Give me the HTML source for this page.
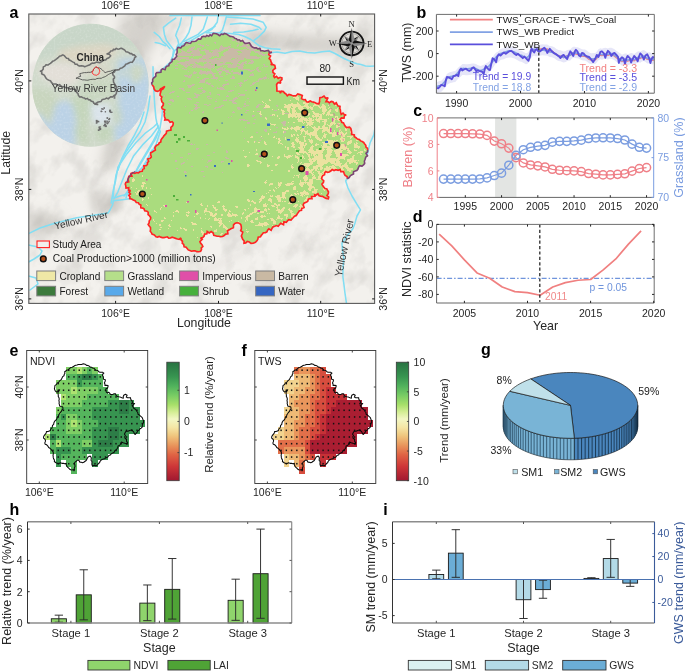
<!DOCTYPE html>
<html><head><meta charset="utf-8"><title>figure</title>
<style>
html,body{margin:0;padding:0;background:#ffffff;overflow:hidden;}
svg{display:block;}
text{font-family:"Liberation Sans",sans-serif;}
</style></head><body>
<svg width="685" height="671" viewBox="0 0 685 671">
<rect x="0" y="0" width="685" height="671" fill="#ffffff"/>
<defs>
<clipPath id="mapclip"><rect x="28.8" y="14" width="345.8" height="289.4"/></clipPath>
<clipPath id="studyclip"><polygon points="152.1,84.8 151.63,83.01 152.83,81.52 152.62,79.78 153.3,78.2 154.66,77.28 155.85,76.19 155.8,73.86 156.83,72.61 159,72.5 160.93,72.31 161.2,69.92 162.48,68.86 165.18,69.69 165.6,67.5 166.76,66.21 168.76,65.76 169.22,63.77 170.5,62.6 172.02,61.67 172.21,59.41 174.46,59.21 175.4,57.7 176.8,56.27 176.11,54.43 177.07,52.92 177.18,51.24 177,49.5 177.95,47.31 180.76,47.95 182,46.2 183.75,45.65 184.99,44.07 186.25,42.54 188.5,43 190.57,43.33 191.77,41.56 193.7,41.56 195.53,41.32 197,40.18 198.4,38.9 200.75,39.17 201.86,36.88 203.8,36.3 205.58,36.77 206.86,35.34 208.78,36.37 210,34.7 211.63,35.8 213.17,33.41 214.77,33.49 216.38,33.69 218,34.5 219.76,35.77 221.31,34.07 223.01,34.52 224.6,33.42 226.3,33.9 228.14,35.17 230,36.4 231.68,36.57 233.29,36.97 234.65,38.14 236.22,38.64 237.51,40.06 239.28,39.92 240.64,41.13 242.6,40.4 243.66,42.17 245.03,43.34 247.04,43.31 249.31,42.79 250.4,44.5 251.45,46.24 252.85,47.29 254.47,47.91 256.46,47.79 257.8,48.95 260.02,48.38 260.71,50.81 262.7,50.7 264.5,51.24 266.49,50.7 268.44,50.37 269.88,53.03 271.9,52.3 269.45,52.34 268.8,54.7 270.57,56.07 269.15,58.52 270.6,60 270.97,61.58 271.85,63.13 270.9,64.8 272.94,64.49 274.8,65.4 275.4,68.3 273.9,69.3 272.83,70.55 273,72.5 274.81,73.81 273.67,76 274.5,77.6 276.41,76.31 278.17,78.4 280.07,77.32 281.9,77.9 281.9,79.7 280.22,81.14 280.7,83.3 278.28,82.46 276.6,84.4 276.73,86.5 276.9,88.6 276.89,91.02 279.68,91.25 280.4,93.1 281.33,91.21 283.4,91.6 284.55,93.02 286.1,94 287.3,95.8 288.95,94.39 290.6,94.89 292.25,95.52 293.9,95.8 296,95.73 297.77,93.99 300,94.6 302.32,95.51 301.5,98.64 303.6,99.7 305.35,99.56 306.51,101.84 308.17,102.06 310.17,100.94 311.7,101.7 313.53,102.11 315.28,102.81 316.98,103.69 318.9,103.8 319.52,101.81 319.74,99.76 319.9,97.7 322.09,97.18 324,96 325.54,98.07 328.1,97.7 327.03,99.69 326,101.7 327.74,101.68 329.36,102.72 331.23,101.47 332.93,101.84 334.43,104.04 336.3,102.8 337.06,104.27 337.81,105.75 340.03,106.39 339.8,108.43 340.4,110 340.56,112.19 341.2,114.3 343.01,113 344.57,114.91 346.3,114.7 344.51,115.56 344,118.1 341.42,117.92 340.1,119.4 341.2,120.61 341.73,122.29 343.52,122.95 344.2,124.5 345.23,126.21 346.61,127.52 349.46,127.13 350.82,128.46 351.4,130.7 351.68,132.46 351.65,134.36 354.32,134.95 354.4,136.8 356.02,137.72 357.35,139.08 359.35,139.42 360.6,140.9 362.21,141.57 363.67,142.45 364.7,143.9 365.8,145.25 365.94,147.08 367.49,148.21 367.7,150 367.56,151.9 365.91,153.38 367.57,155.78 365.7,157.2 365.16,159.23 364.34,161.22 364.7,163.4 363.46,164.88 362.05,166.1 359.56,165.63 358.5,167.4 357.9,169.12 356.85,170.4 355.17,171.05 353.45,171.67 353.56,174.1 351.94,174.8 350.4,175.6 349.2,177.5 347.3,178.7 347.12,176.48 345.08,175.4 344.2,173.6 343.59,171.48 340.77,171.57 340.1,169.5 338.15,170.32 335.96,169.72 334,170.5 332.22,169.55 330.74,171.05 329.18,171.92 327.58,172.43 325.8,171.5 324.73,172.81 324.55,174.78 322.8,175.6 321.88,177.3 321.78,179 323.75,180.7 323.46,182.4 321.88,184.1 322.8,185.8 323.91,187.17 324.98,188.6 326.9,188.9 327.59,190.47 328.47,192.01 328.22,193.71 326.96,195.56 328.75,196.97 328.3,198.7 326.2,198.36 324.34,197.4 322.5,196.4 320.79,196.15 319.14,195.7 317.93,193.75 315.65,195.47 314.3,194 314.87,196.22 311.57,196.55 312,198.7 309.94,198.59 308.3,199.19 307.68,201.49 306.1,202.2 304,203.18 303.14,204.85 304.07,207.53 301.78,208.4 301.5,210.4 299.46,210.78 298.39,212.34 297.26,213.84 296.3,215.53 294.5,216.2 293.37,217.54 292.16,218.76 291.02,220.1 288.75,219.74 287.5,220.9 286.27,222.34 283.94,221.86 283.53,224.74 280.7,223.38 279.46,224.81 278.2,226.2 276.25,225.56 274.76,226.2 273.24,226.75 272.06,228.21 271.13,230.36 268.86,228.85 267.6,230.1 266.9,231.88 265.37,232.58 263.4,232.71 262.4,234.1 261.28,235.35 260.48,236.86 258.2,237.17 257.9,239.09 257.1,240.6 255.42,242.34 253.2,243.3 251.02,243.35 249.3,242 247.27,241.38 245.78,242.93 244,243.3 244.16,241.04 242.7,239.3 242.04,237.6 241.37,235.91 242.15,234.04 242.78,232.18 240.64,230.67 241.4,228.8 241.29,226.5 240.75,224.4 238.7,223 236.65,222.77 234.9,223.36 233.5,224.9 233.43,227.67 230.9,228.8 229.3,229.85 227.48,230.68 227.88,233.73 225.6,234.1 224.17,235.58 222.44,236.45 220.4,236.7 218.77,236.29 217.06,236.28 215.43,235.8 213.8,235.4 213.19,232.99 211.2,231.5 209.2,232.99 207.2,231.5 206.84,233.74 204.6,234.1 204.05,236.2 202.72,237.51 200.6,238 202.22,239.38 199.91,241.6 200.61,243.17 202,244.6 202.86,246.51 201.29,247.9 201.49,249.66 200.6,251.2 198.76,251.76 196.92,251.65 195.08,250.76 193.24,250.94 191.4,251.2 189.85,250.53 188.23,249.93 187.19,248.61 186.2,247.2 184.1,246.7 183.72,244.48 182.3,243.3 182.46,241.37 181.02,239.86 180.9,238 179.15,239.26 177.4,238.96 175.65,238.38 173.9,237.69 172.15,237.15 170.4,238 168.77,238.21 167.28,236.81 165.63,237.2 163.98,237.63 162.37,237.66 160.8,237.14 159.25,236.38 157.58,237.08 156,236.7 154.32,234.91 152,234.1 151.37,232.56 150.23,231.18 150.54,229.33 150.48,227.6 149.4,226.2 148.11,224.45 149.17,222.7 149.18,220.95 150.54,219.2 150.71,217.45 149.4,215.7 148.06,214.61 148.26,212.32 146.97,211.2 144.68,210.86 144.2,209.1 142.81,208.08 140.84,207.77 140.85,205.08 139.25,204.33 138.36,202.71 136.3,202.5 135.1,200.77 133.26,200.12 131.71,198.97 129.7,198.6 130.05,197.02 128.84,195.28 130.44,193.83 128.86,192.05 130.5,190.6 128.57,190.18 128.73,187.67 126.01,188.04 125.8,185.9 125.26,183.95 125.88,182.45 128.66,181.82 128.2,179.9 128.33,177.93 128.88,176.24 131.88,176.14 131.01,173.52 132.9,172.7 134.87,173.42 136.59,172.61 138.47,172.79 140.1,171.5 142.24,171.28 142.63,169.31 144.27,168.59 143.84,165.8 146,165.6 147.42,164.4 147.4,162.56 148.65,161.28 147.67,159 150.11,158.26 151.3,156.96 150.8,154.9 150.65,152.81 152.23,151.93 153.76,151.01 155.34,150.13 154.83,147.79 155.61,146.35 156.72,145.14 158.55,144.43 159.2,142.9 160.82,142 160.97,139.99 161.92,138.59 163.01,137.29 163.91,135.85 165.09,134.61 166.3,133.4 166.54,131.16 168.7,130.52 170.99,129.99 170.9,127.47 172.3,126.2 173,124.9 173.27,123.05 172.1,121.6 170.06,122.19 168.57,120.24 166.79,119.65 164.8,120 165.14,118.3 164.49,116.71 164.21,115.09 164.51,113.39 163.9,111.8 164.72,109.91 162.18,108.73 161.68,107.12 163.26,105.08 163.41,103.33 161.89,101.93 161.5,100.3 161.17,98.68 161.83,96.96 160.08,95.47 160.17,93.81 160.7,92.1 161.18,89.96 163.1,88.9 164.8,86.4 162.3,88 160.52,88.89 159.34,90.66 157.4,91.3 155.28,90.75 154.1,88.9 153.62,86.6"/></clipPath>
<clipPath id="inset"><ellipse cx="90.45" cy="85.3" rx="58.3" ry="61.5"/></clipPath>
<filter id="blur3" x="-20%" y="-20%" width="140%" height="140%"><feGaussianBlur stdDeviation="3"/></filter>
<filter id="blur6" x="-30%" y="-30%" width="160%" height="160%"><feGaussianBlur stdDeviation="6"/></filter>
<filter id="blur1"><feGaussianBlur stdDeviation="1"/></filter>
<filter id="cropF" filterUnits="userSpaceOnUse" x="100" y="20" width="280" height="250" color-interpolation-filters="sRGB"><feGaussianBlur in="SourceAlpha" stdDeviation="6" result="d"/><feTurbulence type="fractalNoise" baseFrequency="0.22" numOctaves="3" seed="7" result="n"/><feColorMatrix in="n" type="matrix" values="0 0 0 0 0  0 0 0 0 0  0 0 0 0 0  1 0 0 0 0" result="na0"/><feComponentTransfer in="na0" result="na"><feFuncA type="linear" slope="2.6" intercept="-0.8"/></feComponentTransfer><feComposite in="na" in2="d" operator="arithmetic" k1="0" k2="1" k3="1" k4="-0.64" result="s"/><feComponentTransfer in="s" result="m"><feFuncA type="discrete" tableValues="0 1"/></feComponentTransfer><feFlood flood-color="rgb(236,226,160)"/><feComposite in2="m" operator="in"/></filter>
<filter id="barrF" filterUnits="userSpaceOnUse" x="100" y="20" width="280" height="250" color-interpolation-filters="sRGB"><feGaussianBlur in="SourceAlpha" stdDeviation="5" result="d"/><feTurbulence type="fractalNoise" baseFrequency="0.16 0.32" numOctaves="2" seed="21" result="n"/><feColorMatrix in="n" type="matrix" values="0 0 0 0 0  0 0 0 0 0  0 0 0 0 0  1 0 0 0 0" result="na0"/><feComponentTransfer in="na0" result="na"><feFuncA type="linear" slope="2.6" intercept="-0.8"/></feComponentTransfer><feComposite in="na" in2="d" operator="arithmetic" k1="0" k2="1" k3="1" k4="-0.64" result="s"/><feComponentTransfer in="s" result="m"><feFuncA type="discrete" tableValues="0 1"/></feComponentTransfer><feFlood flood-color="rgb(201,186,166)"/><feComposite in2="m" operator="in"/></filter>
<filter id="hillTex" x="0" y="0" width="100%" height="100%" color-interpolation-filters="sRGB"><feTurbulence type="fractalNoise" baseFrequency="0.035 0.05" numOctaves="4" seed="17"/><feColorMatrix type="matrix" values="0 0 0 0 0.55  0 0 0 0 0.54  0 0 0 0 0.52  -3.2 0 0 0 1.75"/></filter>
<filter id="globeTex" x="0" y="0" width="100%" height="100%"><feTurbulence type="fractalNoise" baseFrequency="0.5" numOctaves="2" seed="9"/><feColorMatrix type="matrix" values="0 0 0 0 1  0 0 0 0 1  0 0 0 0 1  -2.5 0 0 0 1.4"/></filter>
<radialGradient id="globe" cx="0.5" cy="0.45" r="0.6"><stop offset="0" stop-color="#dcdccb"/><stop offset="1" stop-color="#cfd8d0"/></radialGradient>
</defs>
<g clip-path="url(#mapclip)">
<rect x="28.8" y="14" width="345.8" height="289.4" fill="#f3f1ed" stroke="none" stroke-width="1"/>
<g filter="url(#blur6)" fill="#d6d3ce">
<polygon points="122,14 178,14 160,34 146,58 136,84 128,120 118,160 106,175 100,165 110,125 112,88 116,50"/>
<polygon points="250,30 300,34 375,36 375,54 330,52 290,50 255,44"/>
<polygon points="28,212 60,214 60,232 28,240"/>
</g>
<g filter="url(#blur3)" fill="#d4d1cc" opacity="0.85">
<polygon points="142,14 165,14 145,40 130,70 118,100 112,96 122,62"/>
<polygon points="110,128 126,126 122,150 114,168 106,166"/>
<polygon points="250,40 310,44 370,46 370,50 310,50 252,45"/>
<polygon points="88,190 118,192 120,212 92,214"/>
</g>
<g filter="url(#blur3)" fill="#e6e3df" opacity="0.9">
<rect x="60" y="240" width="50" height="6" transform="rotate(-30 60 240)"/>
<rect x="200" y="270" width="60" height="5" transform="rotate(-25 200 270)"/>
<rect x="290" y="250" width="40" height="5" transform="rotate(-35 290 250)"/>
<rect x="320" y="95" width="30" height="4" transform="rotate(-20 320 95)"/>
<rect x="60" y="60" width="30" height="5" transform="rotate(-40 60 60)"/>
<rect x="40" y="280" width="40" height="5" transform="rotate(-30 40 280)"/>
<rect x="250" y="285" width="50" height="5" transform="rotate(-20 250 285)"/>
<rect x="340" y="230" width="25" height="4" transform="rotate(-60 340 230)"/>
</g>
<rect x="-150" y="-150" width="700" height="700" filter="url(#hillTex)" opacity="0.17" transform="rotate(-58 200 160)"/>
<g fill="none" stroke="#82def3" stroke-width="1.55" stroke-linejoin="round" stroke-linecap="round">
<polyline points="170,15.6 190,15.4 215,15.5 240,15.4 260,15.6"/>
<polyline points="175.7,18.1 168.5,23.2 163.4,27.3 164.4,34.4 166.5,40.6 170.5,45.7 173.6,49.8 172.6,56.9 169.5,64"/>
<polyline points="154.2,32.4 159.3,36.5 162.9,41.6 166.5,44.7 170,48.7"/>
<polyline points="155.2,42.6 160.3,43.6 165.4,45.7"/>
<polyline points="181.3,18.1 179.7,25.2 176.7,32.4 175.7,35.5 177.7,39.5 178.7,43.6 176.7,47.7"/>
<polyline points="192,17.1 191,25.2 188.9,32.4 185.9,37.5 181.8,42.6 178.7,45.7"/>
<polyline points="207.3,17.1 205.3,23.2 203.2,29.3 198.1,34.4 190,38.5 183.8,41.6"/>
<polyline points="215,26.3 206.3,31.4 198.1,36.5 191,40.6 183.8,43.6 177.7,47.7 174.6,50.8 172.6,56.9 170.5,62 166,66 160,71 155,77 152,83"/>
<polyline points="218.2,16 217.2,22.2 212,29.3 208,31.5"/>
<polyline points="226.3,17.1 224.3,24.2 222.3,30.4 220.2,32.4"/>
<polyline points="226.3,17.1 240.7,18.1 252.9,19.1 263.1,22.2 266.2,27.3 264.2,31.4 259,36.5 253.9,40.6"/>
<polyline points="230.4,24.2 240.7,23.2 250.9,24.2 259,27.3 261.1,29.3"/>
<polyline points="206,32.8 220.2,32.9 230.4,33.4 238.6,34.4 244.7,36.5 250.9,39.5 255,42.6 259,45.7 265.2,47.7 271.3,48.7 280,49.3"/>
<polyline points="233.5,32.4 243.7,31.9 252.9,30.4 258,29.3"/>
<polyline points="268,53 277,52 285,53.2 292,51.5 299.7,51 307,52.6 314.7,53 322,51.8 329.5,51 335,53.5 340,56.3 344,58.5 348.5,60.5 353,62.5 357,63.7 361,64.5 365.5,65.9 370,66.2 375,65.9"/>
<polyline points="153,66.7 153.2,78 153.6,86.8 154.7,104.7 155.9,118.1 157,123.7"/>
<polyline points="157,123.7 153.6,127 144.7,133.7 135.8,142.7 126.8,153.9 117.9,167.3 115.6,180.7 113.4,189.6 111.2,203"/>
<polyline points="157,123.7 158.1,127 151.4,136 142.5,144.9 133.5,156.1 126.8,169.5 122.3,180.7 117.9,191.8 114,199"/>
<polyline points="157,123.7 159.2,129.3 153.6,140.4 146.9,151.6 140.2,162.8 133.5,176.2 129,189.6 124,196"/>
<polyline points="157,123.7 160.3,131.5 155.9,144.9 149.2,156.1 142.5,167.3 135.8,174"/>
<polyline points="131.3,198.5 122.3,199.7 113.4,200.8"/>
<polyline points="150,96 148,110 145,122 140,132 133,142 126,152 120,163 116,175 114,188 113,198"/>
<polyline points="162,92 163,104 162,116 160,128 156,138 150,148 144,158 138,168 132,180 128,190 126,198"/>
<polyline points="144,112 140,124 134,136 128,146 122,158 118,170"/>
<polyline points="152,150 147,160 143,172 138,184 134,194 131,199"/>
<polyline points="135,190 128,194 120,196 114,198"/>
<polyline points="113.4,200.8 112.5,205 110,210 108.2,212.9 95,215 76.6,217.8 52.3,223.9 40,228 28.5,233.6"/>
<polyline points="28.5,262 34,259 40,255 42,251 38,247 28.5,245"/>
<polyline points="28.5,276 36,278 38,284 30,290"/>
<polyline points="375,128 373.9,134.7 370,143 367.7,153 362,162 355,170 348,177 345.7,181 348,188 352,196 356.9,204.2 360.5,209.8 357,216 355,222.9 353,228.4 347,236 341.9,243.3 342.5,250 343.8,258.2 343,268 342.9,276.9 344,285 344.8,291.8 346.7,305"/>
</g>
<polygon points="152.1,84.8 151.63,83.01 152.83,81.52 152.62,79.78 153.3,78.2 154.66,77.28 155.85,76.19 155.8,73.86 156.83,72.61 159,72.5 160.93,72.31 161.2,69.92 162.48,68.86 165.18,69.69 165.6,67.5 166.76,66.21 168.76,65.76 169.22,63.77 170.5,62.6 172.02,61.67 172.21,59.41 174.46,59.21 175.4,57.7 176.8,56.27 176.11,54.43 177.07,52.92 177.18,51.24 177,49.5 177.95,47.31 180.76,47.95 182,46.2 183.75,45.65 184.99,44.07 186.25,42.54 188.5,43 190.57,43.33 191.77,41.56 193.7,41.56 195.53,41.32 197,40.18 198.4,38.9 200.75,39.17 201.86,36.88 203.8,36.3 205.58,36.77 206.86,35.34 208.78,36.37 210,34.7 211.63,35.8 213.17,33.41 214.77,33.49 216.38,33.69 218,34.5 219.76,35.77 221.31,34.07 223.01,34.52 224.6,33.42 226.3,33.9 228.14,35.17 230,36.4 231.68,36.57 233.29,36.97 234.65,38.14 236.22,38.64 237.51,40.06 239.28,39.92 240.64,41.13 242.6,40.4 243.66,42.17 245.03,43.34 247.04,43.31 249.31,42.79 250.4,44.5 251.45,46.24 252.85,47.29 254.47,47.91 256.46,47.79 257.8,48.95 260.02,48.38 260.71,50.81 262.7,50.7 264.5,51.24 266.49,50.7 268.44,50.37 269.88,53.03 271.9,52.3 269.45,52.34 268.8,54.7 270.57,56.07 269.15,58.52 270.6,60 270.97,61.58 271.85,63.13 270.9,64.8 272.94,64.49 274.8,65.4 275.4,68.3 273.9,69.3 272.83,70.55 273,72.5 274.81,73.81 273.67,76 274.5,77.6 276.41,76.31 278.17,78.4 280.07,77.32 281.9,77.9 281.9,79.7 280.22,81.14 280.7,83.3 278.28,82.46 276.6,84.4 276.73,86.5 276.9,88.6 276.89,91.02 279.68,91.25 280.4,93.1 281.33,91.21 283.4,91.6 284.55,93.02 286.1,94 287.3,95.8 288.95,94.39 290.6,94.89 292.25,95.52 293.9,95.8 296,95.73 297.77,93.99 300,94.6 302.32,95.51 301.5,98.64 303.6,99.7 305.35,99.56 306.51,101.84 308.17,102.06 310.17,100.94 311.7,101.7 313.53,102.11 315.28,102.81 316.98,103.69 318.9,103.8 319.52,101.81 319.74,99.76 319.9,97.7 322.09,97.18 324,96 325.54,98.07 328.1,97.7 327.03,99.69 326,101.7 327.74,101.68 329.36,102.72 331.23,101.47 332.93,101.84 334.43,104.04 336.3,102.8 337.06,104.27 337.81,105.75 340.03,106.39 339.8,108.43 340.4,110 340.56,112.19 341.2,114.3 343.01,113 344.57,114.91 346.3,114.7 344.51,115.56 344,118.1 341.42,117.92 340.1,119.4 341.2,120.61 341.73,122.29 343.52,122.95 344.2,124.5 345.23,126.21 346.61,127.52 349.46,127.13 350.82,128.46 351.4,130.7 351.68,132.46 351.65,134.36 354.32,134.95 354.4,136.8 356.02,137.72 357.35,139.08 359.35,139.42 360.6,140.9 362.21,141.57 363.67,142.45 364.7,143.9 365.8,145.25 365.94,147.08 367.49,148.21 367.7,150 367.56,151.9 365.91,153.38 367.57,155.78 365.7,157.2 365.16,159.23 364.34,161.22 364.7,163.4 363.46,164.88 362.05,166.1 359.56,165.63 358.5,167.4 357.9,169.12 356.85,170.4 355.17,171.05 353.45,171.67 353.56,174.1 351.94,174.8 350.4,175.6 349.2,177.5 347.3,178.7 347.12,176.48 345.08,175.4 344.2,173.6 343.59,171.48 340.77,171.57 340.1,169.5 338.15,170.32 335.96,169.72 334,170.5 332.22,169.55 330.74,171.05 329.18,171.92 327.58,172.43 325.8,171.5 324.73,172.81 324.55,174.78 322.8,175.6 321.88,177.3 321.78,179 323.75,180.7 323.46,182.4 321.88,184.1 322.8,185.8 323.91,187.17 324.98,188.6 326.9,188.9 327.59,190.47 328.47,192.01 328.22,193.71 326.96,195.56 328.75,196.97 328.3,198.7 326.2,198.36 324.34,197.4 322.5,196.4 320.79,196.15 319.14,195.7 317.93,193.75 315.65,195.47 314.3,194 314.87,196.22 311.57,196.55 312,198.7 309.94,198.59 308.3,199.19 307.68,201.49 306.1,202.2 304,203.18 303.14,204.85 304.07,207.53 301.78,208.4 301.5,210.4 299.46,210.78 298.39,212.34 297.26,213.84 296.3,215.53 294.5,216.2 293.37,217.54 292.16,218.76 291.02,220.1 288.75,219.74 287.5,220.9 286.27,222.34 283.94,221.86 283.53,224.74 280.7,223.38 279.46,224.81 278.2,226.2 276.25,225.56 274.76,226.2 273.24,226.75 272.06,228.21 271.13,230.36 268.86,228.85 267.6,230.1 266.9,231.88 265.37,232.58 263.4,232.71 262.4,234.1 261.28,235.35 260.48,236.86 258.2,237.17 257.9,239.09 257.1,240.6 255.42,242.34 253.2,243.3 251.02,243.35 249.3,242 247.27,241.38 245.78,242.93 244,243.3 244.16,241.04 242.7,239.3 242.04,237.6 241.37,235.91 242.15,234.04 242.78,232.18 240.64,230.67 241.4,228.8 241.29,226.5 240.75,224.4 238.7,223 236.65,222.77 234.9,223.36 233.5,224.9 233.43,227.67 230.9,228.8 229.3,229.85 227.48,230.68 227.88,233.73 225.6,234.1 224.17,235.58 222.44,236.45 220.4,236.7 218.77,236.29 217.06,236.28 215.43,235.8 213.8,235.4 213.19,232.99 211.2,231.5 209.2,232.99 207.2,231.5 206.84,233.74 204.6,234.1 204.05,236.2 202.72,237.51 200.6,238 202.22,239.38 199.91,241.6 200.61,243.17 202,244.6 202.86,246.51 201.29,247.9 201.49,249.66 200.6,251.2 198.76,251.76 196.92,251.65 195.08,250.76 193.24,250.94 191.4,251.2 189.85,250.53 188.23,249.93 187.19,248.61 186.2,247.2 184.1,246.7 183.72,244.48 182.3,243.3 182.46,241.37 181.02,239.86 180.9,238 179.15,239.26 177.4,238.96 175.65,238.38 173.9,237.69 172.15,237.15 170.4,238 168.77,238.21 167.28,236.81 165.63,237.2 163.98,237.63 162.37,237.66 160.8,237.14 159.25,236.38 157.58,237.08 156,236.7 154.32,234.91 152,234.1 151.37,232.56 150.23,231.18 150.54,229.33 150.48,227.6 149.4,226.2 148.11,224.45 149.17,222.7 149.18,220.95 150.54,219.2 150.71,217.45 149.4,215.7 148.06,214.61 148.26,212.32 146.97,211.2 144.68,210.86 144.2,209.1 142.81,208.08 140.84,207.77 140.85,205.08 139.25,204.33 138.36,202.71 136.3,202.5 135.1,200.77 133.26,200.12 131.71,198.97 129.7,198.6 130.05,197.02 128.84,195.28 130.44,193.83 128.86,192.05 130.5,190.6 128.57,190.18 128.73,187.67 126.01,188.04 125.8,185.9 125.26,183.95 125.88,182.45 128.66,181.82 128.2,179.9 128.33,177.93 128.88,176.24 131.88,176.14 131.01,173.52 132.9,172.7 134.87,173.42 136.59,172.61 138.47,172.79 140.1,171.5 142.24,171.28 142.63,169.31 144.27,168.59 143.84,165.8 146,165.6 147.42,164.4 147.4,162.56 148.65,161.28 147.67,159 150.11,158.26 151.3,156.96 150.8,154.9 150.65,152.81 152.23,151.93 153.76,151.01 155.34,150.13 154.83,147.79 155.61,146.35 156.72,145.14 158.55,144.43 159.2,142.9 160.82,142 160.97,139.99 161.92,138.59 163.01,137.29 163.91,135.85 165.09,134.61 166.3,133.4 166.54,131.16 168.7,130.52 170.99,129.99 170.9,127.47 172.3,126.2 173,124.9 173.27,123.05 172.1,121.6 170.06,122.19 168.57,120.24 166.79,119.65 164.8,120 165.14,118.3 164.49,116.71 164.21,115.09 164.51,113.39 163.9,111.8 164.72,109.91 162.18,108.73 161.68,107.12 163.26,105.08 163.41,103.33 161.89,101.93 161.5,100.3 161.17,98.68 161.83,96.96 160.08,95.47 160.17,93.81 160.7,92.1 161.18,89.96 163.1,88.9 164.8,86.4 162.3,88 160.52,88.89 159.34,90.66 157.4,91.3 155.28,90.75 154.1,88.9 153.62,86.6" fill="#aadc7e"/>
<g clip-path="url(#studyclip)">
<g filter="url(#barrF)">
<ellipse cx="212" cy="58" rx="40" ry="12" fill="#000" fill-opacity="0.8"/>
<ellipse cx="245" cy="51" rx="22" ry="9" fill="#000" fill-opacity="0.85"/>
<ellipse cx="185" cy="58" rx="14" ry="9" fill="#000" fill-opacity="0.6"/>
<ellipse cx="230" cy="74" rx="48" ry="10" fill="#000" fill-opacity="0.45"/>
<ellipse cx="205" cy="97" rx="45" ry="18" fill="#000" fill-opacity="0.28"/>
<ellipse cx="262" cy="120" rx="35" ry="25" fill="#000" fill-opacity="0.2"/>
<ellipse cx="200" cy="160" rx="40" ry="25" fill="#000" fill-opacity="0.15"/>
</g>
<g filter="url(#cropF)">
<polygon points="292,98 340,104 366,150 352,176 324,176 322,196 306,203 294,176 288,130" fill="#000" fill-opacity="0.58"/>
<ellipse cx="300" cy="108" rx="16" ry="9" fill="#000" fill-opacity="0.7"/>
<ellipse cx="330" cy="160" rx="18" ry="14" fill="#000" fill-opacity="0.68"/>
<ellipse cx="284" cy="208" rx="36" ry="24" fill="#000" fill-opacity="0.45"/>
<ellipse cx="228" cy="220" rx="34" ry="16" fill="#000" fill-opacity="0.26"/>
<ellipse cx="262" cy="155" rx="26" ry="26" fill="#000" fill-opacity="0.2"/>
<ellipse cx="272" cy="112" rx="20" ry="14" fill="#000" fill-opacity="0.3"/>
<ellipse cx="190" cy="220" rx="55" ry="22" fill="#000" fill-opacity="0.18"/>
<ellipse cx="140" cy="190" rx="12" ry="14" fill="#000" fill-opacity="0.4"/>
</g>
<polyline points="329,103 331,108 334,114 337,121 339,127 341,133 343,139 345,145 347,150" fill="none" stroke="#e050a8" stroke-width="0.9" stroke-dasharray="3,2.5,2,3.5" opacity="0.7"/>
<rect x="241" y="71.5" width="2" height="3" fill="#3a6cc4" stroke="none" stroke-width="1"/>
<rect x="267" y="123.5" width="3" height="2.5" fill="#3a6cc4" stroke="none" stroke-width="1"/>
<rect x="221.5" y="122.5" width="1.2" height="1.2" fill="#3a6cc4" stroke="none" stroke-width="1"/>
<rect x="241" y="114" width="1.5" height="1.5" fill="#3a6cc4" stroke="none" stroke-width="1"/>
<rect x="325" y="141" width="3" height="2" fill="#3a6cc4" stroke="none" stroke-width="1"/>
<rect x="302" y="126" width="2.5" height="2" fill="#3a6cc4" stroke="none" stroke-width="1"/>
<rect x="287" y="139" width="3" height="1.5" fill="#3a6cc4" stroke="none" stroke-width="1"/>
<rect x="256" y="87" width="1.5" height="2" fill="#3a6cc4" stroke="none" stroke-width="1"/>
<rect x="228" y="163" width="2" height="1.5" fill="#3a6cc4" stroke="none" stroke-width="1"/>
<rect x="214" y="165" width="2" height="2" fill="#3a6cc4" stroke="none" stroke-width="1"/>
<rect x="185" y="175" width="1.5" height="1.5" fill="#3a6cc4" stroke="none" stroke-width="1"/>
<rect x="190" y="194" width="1.5" height="1.5" fill="#3a6cc4" stroke="none" stroke-width="1"/>
<rect x="253" y="191" width="2" height="1" fill="#3a6cc4" stroke="none" stroke-width="1"/>
<rect x="255" y="89.5" width="1.5" height="1.5" fill="#e050a8" stroke="none" stroke-width="1"/>
<rect x="216.5" y="129.5" width="1.5" height="1.5" fill="#e050a8" stroke="none" stroke-width="1"/>
<rect x="259.5" y="155.5" width="1.5" height="1.5" fill="#e050a8" stroke="none" stroke-width="1"/>
<rect x="330" y="128" width="1.5" height="4" fill="#e050a8" stroke="none" stroke-width="1"/>
<rect x="334" y="142" width="1.5" height="4" fill="#e050a8" stroke="none" stroke-width="1"/>
<rect x="340" y="153" width="2" height="3" fill="#e050a8" stroke="none" stroke-width="1"/>
<rect x="305.5" y="171" width="3" height="4" fill="#e050a8" stroke="none" stroke-width="1"/>
<rect x="257.5" y="210" width="2.5" height="2" fill="#e050a8" stroke="none" stroke-width="1"/>
<rect x="231" y="160" width="1.5" height="2" fill="#e050a8" stroke="none" stroke-width="1"/>
<rect x="165" y="205" width="2" height="2" fill="#e050a8" stroke="none" stroke-width="1"/>
<rect x="195" y="210" width="1.5" height="3" fill="#e050a8" stroke="none" stroke-width="1"/>
<rect x="187" y="201" width="2" height="1.5" fill="#e050a8" stroke="none" stroke-width="1"/>
<rect x="332" y="118" width="1.3" height="3.5" fill="#e050a8" stroke="none" stroke-width="1"/>
<rect x="337" y="132" width="1.3" height="3" fill="#e050a8" stroke="none" stroke-width="1"/>
<rect x="146" y="179" width="1.5" height="1.5" fill="#e050a8" stroke="none" stroke-width="1"/>
<rect x="296" y="150" width="3" height="2" fill="#4caf3a" stroke="none" stroke-width="1"/>
<rect x="300" y="157" width="2" height="2" fill="#4caf3a" stroke="none" stroke-width="1"/>
<rect x="319" y="148" width="2.5" height="2" fill="#4caf3a" stroke="none" stroke-width="1"/>
<rect x="174" y="134" width="3" height="2" fill="#4caf3a" stroke="none" stroke-width="1"/>
<rect x="178" y="138" width="2.5" height="2.5" fill="#4caf3a" stroke="none" stroke-width="1"/>
<rect x="183" y="136" width="2" height="2" fill="#4caf3a" stroke="none" stroke-width="1"/>
<rect x="187" y="140" width="3" height="1.5" fill="#4caf3a" stroke="none" stroke-width="1"/>
<rect x="176" y="141" width="2" height="2" fill="#4caf3a" stroke="none" stroke-width="1"/>
<rect x="173" y="195" width="2" height="2" fill="#4caf3a" stroke="none" stroke-width="1"/>
<rect x="176" y="199" width="2.5" height="1.5" fill="#4caf3a" stroke="none" stroke-width="1"/>
<rect x="215" y="64" width="1.5" height="2" fill="#4caf3a" stroke="none" stroke-width="1"/>
</g>
<polyline points="271.9,52.3 269.45,52.34 268.8,54.7 270.57,56.07 269.15,58.52 270.6,60 270.97,61.58 271.85,63.13 270.9,64.8 272.94,64.49 274.8,65.4 275.4,68.3 273.9,69.3 272.83,70.55 273,72.5 274.81,73.81 273.67,76 274.5,77.6 276.41,76.31 278.17,78.4 280.07,77.32 281.9,77.9 281.9,79.7 280.22,81.14 280.7,83.3 278.28,82.46 276.6,84.4 276.73,86.5 276.9,88.6 276.89,91.02 279.68,91.25 280.4,93.1 281.33,91.21 283.4,91.6 284.55,93.02 286.1,94 287.3,95.8 288.95,94.39 290.6,94.89 292.25,95.52 293.9,95.8 296,95.73 297.77,93.99 300,94.6 302.32,95.51 301.5,98.64 303.6,99.7 305.35,99.56 306.51,101.84 308.17,102.06 310.17,100.94 311.7,101.7 313.53,102.11 315.28,102.81 316.98,103.69 318.9,103.8 319.52,101.81 319.74,99.76 319.9,97.7 322.09,97.18 324,96 325.54,98.07 328.1,97.7 327.03,99.69 326,101.7 327.74,101.68 329.36,102.72 331.23,101.47 332.93,101.84 334.43,104.04 336.3,102.8 337.06,104.27 337.81,105.75 340.03,106.39 339.8,108.43 340.4,110 340.56,112.19 341.2,114.3 343.01,113 344.57,114.91 346.3,114.7 344.51,115.56 344,118.1 341.42,117.92 340.1,119.4 341.2,120.61 341.73,122.29 343.52,122.95 344.2,124.5 345.23,126.21 346.61,127.52 349.46,127.13 350.82,128.46 351.4,130.7 351.68,132.46 351.65,134.36 354.32,134.95 354.4,136.8 356.02,137.72 357.35,139.08 359.35,139.42 360.6,140.9 362.21,141.57 363.67,142.45 364.7,143.9 365.8,145.25 365.94,147.08 367.49,148.21 367.7,150" fill="none" stroke="#ff2424" stroke-width="1.65" stroke-linejoin="miter" stroke-miterlimit="2"/>
<polyline points="347.3,178.7 347.12,176.48 345.08,175.4 344.2,173.6 343.59,171.48 340.77,171.57 340.1,169.5 338.15,170.32 335.96,169.72 334,170.5 332.22,169.55 330.74,171.05 329.18,171.92 327.58,172.43 325.8,171.5 324.73,172.81 324.55,174.78 322.8,175.6 321.88,177.3 321.78,179 323.75,180.7 323.46,182.4 321.88,184.1 322.8,185.8 323.91,187.17 324.98,188.6 326.9,188.9 327.59,190.47 328.47,192.01 328.22,193.71 326.96,195.56 328.75,196.97 328.3,198.7 326.2,198.36 324.34,197.4 322.5,196.4 320.79,196.15 319.14,195.7 317.93,193.75 315.65,195.47 314.3,194 314.87,196.22 311.57,196.55 312,198.7 309.94,198.59 308.3,199.19 307.68,201.49 306.1,202.2 304,203.18 303.14,204.85 304.07,207.53 301.78,208.4 301.5,210.4 299.46,210.78 298.39,212.34 297.26,213.84 296.3,215.53 294.5,216.2 293.37,217.54 292.16,218.76 291.02,220.1 288.75,219.74 287.5,220.9 286.27,222.34 283.94,221.86 283.53,224.74 280.7,223.38 279.46,224.81 278.2,226.2 276.25,225.56 274.76,226.2 273.24,226.75 272.06,228.21 271.13,230.36 268.86,228.85 267.6,230.1 266.9,231.88 265.37,232.58 263.4,232.71 262.4,234.1 261.28,235.35 260.48,236.86 258.2,237.17 257.9,239.09 257.1,240.6 255.42,242.34 253.2,243.3 251.02,243.35 249.3,242 247.27,241.38 245.78,242.93 244,243.3 244.16,241.04 242.7,239.3 242.04,237.6 241.37,235.91 242.15,234.04 242.78,232.18 240.64,230.67 241.4,228.8 241.29,226.5 240.75,224.4 238.7,223 236.65,222.77 234.9,223.36 233.5,224.9 233.43,227.67 230.9,228.8 229.3,229.85 227.48,230.68 227.88,233.73 225.6,234.1 224.17,235.58 222.44,236.45 220.4,236.7 218.77,236.29 217.06,236.28 215.43,235.8 213.8,235.4 213.19,232.99 211.2,231.5 209.2,232.99 207.2,231.5 206.84,233.74 204.6,234.1 204.05,236.2 202.72,237.51 200.6,238 202.22,239.38 199.91,241.6 200.61,243.17 202,244.6 202.86,246.51 201.29,247.9 201.49,249.66 200.6,251.2 198.76,251.76 196.92,251.65 195.08,250.76 193.24,250.94 191.4,251.2 189.85,250.53 188.23,249.93 187.19,248.61 186.2,247.2 184.1,246.7 183.72,244.48 182.3,243.3 182.46,241.37 181.02,239.86 180.9,238 179.15,239.26 177.4,238.96 175.65,238.38 173.9,237.69 172.15,237.15 170.4,238 168.77,238.21 167.28,236.81 165.63,237.2 163.98,237.63 162.37,237.66 160.8,237.14 159.25,236.38 157.58,237.08 156,236.7 154.32,234.91 152,234.1 151.37,232.56 150.23,231.18 150.54,229.33 150.48,227.6 149.4,226.2 148.11,224.45 149.17,222.7 149.18,220.95 150.54,219.2 150.71,217.45 149.4,215.7 148.06,214.61 148.26,212.32 146.97,211.2 144.68,210.86 144.2,209.1 142.81,208.08 140.84,207.77 140.85,205.08 139.25,204.33 138.36,202.71 136.3,202.5 135.1,200.77 133.26,200.12 131.71,198.97 129.7,198.6 130.05,197.02 128.84,195.28 130.44,193.83 128.86,192.05 130.5,190.6 128.57,190.18 128.73,187.67 126.01,188.04 125.8,185.9 125.26,183.95 125.88,182.45 128.66,181.82 128.2,179.9 128.33,177.93 128.88,176.24 131.88,176.14 131.01,173.52 132.9,172.7 134.87,173.42 136.59,172.61 138.47,172.79 140.1,171.5 142.24,171.28 142.63,169.31 144.27,168.59 143.84,165.8 146,165.6 147.42,164.4 147.4,162.56 148.65,161.28 147.67,159 150.11,158.26 151.3,156.96 150.8,154.9 150.65,152.81 152.23,151.93 153.76,151.01 155.34,150.13 154.83,147.79 155.61,146.35 156.72,145.14 158.55,144.43 159.2,142.9 160.82,142 160.97,139.99 161.92,138.59 163.01,137.29 163.91,135.85 165.09,134.61 166.3,133.4 166.54,131.16 168.7,130.52 170.99,129.99 170.9,127.47 172.3,126.2 173,124.9 173.27,123.05 172.1,121.6 170.06,122.19 168.57,120.24 166.79,119.65 164.8,120 165.14,118.3 164.49,116.71 164.21,115.09 164.51,113.39 163.9,111.8 164.72,109.91 162.18,108.73 161.68,107.12 163.26,105.08 163.41,103.33 161.89,101.93 161.5,100.3 161.17,98.68 161.83,96.96 160.08,95.47 160.17,93.81 160.7,92.1 161.18,89.96 163.1,88.9 164.8,86.4 162.3,88 160.52,88.89 159.34,90.66 157.4,91.3 155.28,90.75 154.1,88.9 153.62,86.6 152.1,84.8" fill="none" stroke="#ff2424" stroke-width="1.65" stroke-linejoin="miter" stroke-miterlimit="2"/>
<polyline points="152.1,84.8 151.63,83.01 152.83,81.52 152.62,79.78 153.3,78.2 154.66,77.28 155.85,76.19 155.8,73.86 156.83,72.61 159,72.5 160.93,72.31 161.2,69.92 162.48,68.86 165.18,69.69 165.6,67.5 166.76,66.21 168.76,65.76 169.22,63.77 170.5,62.6 172.02,61.67 172.21,59.41 174.46,59.21 175.4,57.7 176.8,56.27 176.11,54.43 177.07,52.92 177.18,51.24 177,49.5 177.95,47.31 180.76,47.95 182,46.2 183.75,45.65 184.99,44.07 186.25,42.54 188.5,43 190.57,43.33 191.77,41.56 193.7,41.56 195.53,41.32 197,40.18 198.4,38.9 200.75,39.17 201.86,36.88 203.8,36.3 205.58,36.77 206.86,35.34 208.78,36.37 210,34.7 211.63,35.8 213.17,33.41 214.77,33.49 216.38,33.69 218,34.5 219.76,35.77 221.31,34.07 223.01,34.52 224.6,33.42 226.3,33.9 228.14,35.17 230,36.4 231.68,36.57 233.29,36.97 234.65,38.14 236.22,38.64 237.51,40.06 239.28,39.92 240.64,41.13 242.6,40.4 243.66,42.17 245.03,43.34 247.04,43.31 249.31,42.79 250.4,44.5 251.45,46.24 252.85,47.29 254.47,47.91 256.46,47.79 257.8,48.95 260.02,48.38 260.71,50.81 262.7,50.7 264.5,51.24 266.49,50.7 268.44,50.37 269.88,53.03 271.9,52.3" fill="none" stroke="#7c4474" stroke-width="1.6" stroke-linejoin="round"/>
<polyline points="367.7,150 367.56,151.9 365.91,153.38 367.57,155.78 365.7,157.2 365.16,159.23 364.34,161.22 364.7,163.4 363.46,164.88 362.05,166.1 359.56,165.63 358.5,167.4 357.9,169.12 356.85,170.4 355.17,171.05 353.45,171.67 353.56,174.1 351.94,174.8 350.4,175.6 349.2,177.5 347.3,178.7" fill="none" stroke="#7c4474" stroke-width="1.6" stroke-linejoin="round"/>
<polyline points="135.3,171.5 131,174 128,179 127,182.3" fill="none" stroke="#7c4474" stroke-width="1.4"/>
<circle cx="204.9" cy="120.6" r="2.85" fill="#b4501c" stroke="#111" stroke-width="1.45"/>
<circle cx="304.7" cy="112.8" r="2.85" fill="#b4501c" stroke="#111" stroke-width="1.45"/>
<circle cx="336.7" cy="145.3" r="2.85" fill="#b4501c" stroke="#111" stroke-width="1.45"/>
<circle cx="264.3" cy="154.1" r="2.85" fill="#b4501c" stroke="#111" stroke-width="1.45"/>
<circle cx="301.6" cy="168.7" r="2.85" fill="#b4501c" stroke="#111" stroke-width="1.45"/>
<circle cx="292.8" cy="199.7" r="2.85" fill="#b4501c" stroke="#111" stroke-width="1.45"/>
<circle cx="142.4" cy="194" r="2.85" fill="#b4501c" stroke="#111" stroke-width="1.45"/>
<g clip-path="url(#inset)">
<ellipse cx="90.45" cy="85.3" rx="59" ry="62" fill="#d0dacb"/>
<g filter="url(#blur3)">
<polygon points="28,20 155,20 155,52 130,46 110,44 90,48 70,50 50,56 28,62" fill="#c8d6c8"/>
<polygon points="60,50 80,46 105,44 118,48 112,58 95,62 75,62 58,60" fill="#dcd6c3"/>
<polygon points="40,66 60,62 78,66 82,78 72,86 52,84 40,76" fill="#e3dfd8"/>
<polygon points="78,64 100,62 112,66 110,76 96,78 82,76" fill="#d6d7c8"/>
<polygon points="84,80 112,76 116,90 110,100 92,102 80,96" fill="#c9d7c1"/>
<polygon points="118,60 132,58 150,56 152,150 118,150 114,132 118,112 119,96 117,80" fill="#bad2e6"/>
<polygon points="128,66 138,62 146,70 140,82 132,84" fill="#cbd7c4"/>
<polygon points="121,68 126,68 127,78 122,78" fill="#cbd7c5"/>
<polygon points="28,88 50,90 58,100 54,112 48,124 40,112 28,104" fill="#c8d5be"/>
<polygon points="28,112 42,116 50,126 56,104 66,100 74,106 76,124 74,150 28,150" fill="#bbd2e6"/>
<polygon points="70,96 90,96 96,104 92,116 86,124 88,134 82,138 78,124 74,110" fill="#c4d5bb"/>
<polygon points="90,104 110,104 114,112 112,126 98,126 92,120" fill="#dae4eb"/>
<polygon points="96,126 110,124 114,134 106,142 96,140" fill="#c3d4ba"/>
<polygon points="74,126 80,128 90,140 86,146 76,136" fill="#c3d4ba"/>
<polygon points="110,104 118,104 122,116 120,126 112,122" fill="#c8d6c2"/>
</g>
<rect x="30" y="24" width="122" height="122" filter="url(#globeTex)" opacity="0.18"/>
<rect x="95.72" y="103.8" width="2" height="1.14" fill="#6e6e6e" stroke="none" stroke-width="1"/>
<rect x="94.23" y="102.9" width="1.53" height="1.81" fill="#6e6e6e" stroke="none" stroke-width="1"/>
<rect x="96.41" y="103.62" width="1.87" height="1.66" fill="#6e6e6e" stroke="none" stroke-width="1"/>
<rect x="94.66" y="103.11" width="1.39" height="1.91" fill="#6e6e6e" stroke="none" stroke-width="1"/>
<rect x="100.66" y="110.5" width="1.29" height="1.69" fill="#6e6e6e" stroke="none" stroke-width="1"/>
<rect x="101.88" y="108.68" width="2.21" height="1.02" fill="#6e6e6e" stroke="none" stroke-width="1"/>
<rect x="100.67" y="110.93" width="1.81" height="1.09" fill="#6e6e6e" stroke="none" stroke-width="1"/>
<rect x="104.74" y="111.07" width="1.34" height="1.42" fill="#6e6e6e" stroke="none" stroke-width="1"/>
<rect x="100.99" y="108.28" width="1.95" height="1.16" fill="#6e6e6e" stroke="none" stroke-width="1"/>
<rect x="103.47" y="107.13" width="1.41" height="1.82" fill="#6e6e6e" stroke="none" stroke-width="1"/>
<rect x="109.08" y="110.84" width="1.92" height="1.48" fill="#6e6e6e" stroke="none" stroke-width="1"/>
<rect x="109.03" y="109.6" width="2.07" height="1.97" fill="#6e6e6e" stroke="none" stroke-width="1"/>
<rect x="110.92" y="111.62" width="1.63" height="1.36" fill="#6e6e6e" stroke="none" stroke-width="1"/>
<rect x="110.01" y="111.66" width="1.34" height="1.23" fill="#6e6e6e" stroke="none" stroke-width="1"/>
<rect x="97.2" y="120.85" width="2.17" height="1.5" fill="#6e6e6e" stroke="none" stroke-width="1"/>
<rect x="95.72" y="122.22" width="1.72" height="1.52" fill="#6e6e6e" stroke="none" stroke-width="1"/>
<rect x="96.58" y="120.48" width="1.67" height="1.77" fill="#6e6e6e" stroke="none" stroke-width="1"/>
<rect x="96.05" y="121.02" width="1.41" height="1.7" fill="#6e6e6e" stroke="none" stroke-width="1"/>
<rect x="95.76" y="119.82" width="1.61" height="1.64" fill="#6e6e6e" stroke="none" stroke-width="1"/>
<rect x="95.83" y="120.62" width="1.45" height="1.28" fill="#6e6e6e" stroke="none" stroke-width="1"/>
<rect x="106.37" y="122.37" width="1.78" height="1.96" fill="#6e6e6e" stroke="none" stroke-width="1"/>
<rect x="104.64" y="122.18" width="1.64" height="1.19" fill="#6e6e6e" stroke="none" stroke-width="1"/>
<rect x="107.89" y="122.11" width="1.21" height="1.27" fill="#6e6e6e" stroke="none" stroke-width="1"/>
<rect x="108.02" y="118.91" width="1.49" height="1.01" fill="#6e6e6e" stroke="none" stroke-width="1"/>
<rect x="103.92" y="120.47" width="2.38" height="2" fill="#6e6e6e" stroke="none" stroke-width="1"/>
<rect x="106.52" y="117.13" width="1.59" height="1.79" fill="#6e6e6e" stroke="none" stroke-width="1"/>
<rect x="108.36" y="120.58" width="1.48" height="1.53" fill="#6e6e6e" stroke="none" stroke-width="1"/>
<rect x="106.37" y="120.51" width="1.52" height="1.95" fill="#6e6e6e" stroke="none" stroke-width="1"/>
<rect x="108.71" y="117.91" width="1.55" height="1.87" fill="#6e6e6e" stroke="none" stroke-width="1"/>
<rect x="97.81" y="129.28" width="1.82" height="1.7" fill="#6e6e6e" stroke="none" stroke-width="1"/>
<rect x="99.52" y="126.36" width="1.54" height="1.25" fill="#6e6e6e" stroke="none" stroke-width="1"/>
<rect x="99.43" y="128.28" width="1.36" height="1.89" fill="#6e6e6e" stroke="none" stroke-width="1"/>
<rect x="98.38" y="126.46" width="1.72" height="1.98" fill="#6e6e6e" stroke="none" stroke-width="1"/>
<rect x="98.94" y="128" width="2.3" height="1.96" fill="#6e6e6e" stroke="none" stroke-width="1"/>
<rect x="104.04" y="123.67" width="1.91" height="1.9" fill="#6e6e6e" stroke="none" stroke-width="1"/>
<rect x="104.16" y="124.32" width="1.62" height="1.37" fill="#6e6e6e" stroke="none" stroke-width="1"/>
<rect x="103.94" y="124.25" width="1.22" height="1.71" fill="#6e6e6e" stroke="none" stroke-width="1"/>
<rect x="104.62" y="125.19" width="2.28" height="1.91" fill="#6e6e6e" stroke="none" stroke-width="1"/>
<rect x="103.14" y="125.16" width="1.66" height="1.1" fill="#6e6e6e" stroke="none" stroke-width="1"/>
<rect x="113.6" y="94.6" width="1.8" height="4.2" fill="#7a7a7a" stroke="none" stroke-width="1"/>
<polygon points="40.32,71.17 42.03,70.4 43.19,69.13 43.32,66.89 45.02,66.11 46,64.78 47.91,65.07 49.14,64.18 50.41,63.34 51.58,62.35 52.72,61.16 54.31,60.61 55.62,59.68 56.91,58.7 58.15,57.66 59.44,56.25 61.22,55.69 62.85,54.85 64.35,55.64 65.46,57.02 66.63,58.32 68.48,58.6 69.1,60.08 70.62,60.53 71.82,61.35 73.1,62.07 74.43,62.73 75.05,64.23 76.89,64.15 78.19,65.43 79.74,66.11 81.38,65.82 83.02,65.91 84.66,66.73 86.31,66.11 87.82,65.58 89.34,65.07 90.66,64.02 92.04,63.14 93.81,63.29 95.16,62.71 96.5,62.1 98.04,62.37 99.62,62.82 100.91,62 102.26,61.41 103.56,60.04 105.71,60.08 106.95,58.6 108.49,58.04 109.68,57.02 110.71,55.78 109.12,54.26 106.95,53.91 108.51,53.31 109.85,52.41 110.76,50.9 112.65,50.78 113.52,49.21 115.01,49.79 116.28,48.36 117.79,49.15 119.19,48.93 120.55,48.37 121.97,48.28 123.35,49.26 124.79,50.14 125.81,51.66 127.6,52.03 128.91,52.59 130.02,53.64 131.63,53.5 132.61,54.85 134.17,54.85 136.04,56.72 134.57,57.78 134.22,59.57 133.14,60.89 132.29,62.35 130.46,62.18 128.91,62.95 127.37,63.78 125.72,64.23 124.78,65.8 123.42,66.93 121.97,67.98 120.28,68.31 119.04,69.73 117.27,69.86 115.37,70.24 114.34,72.06 112.58,72.68 112.93,74.85 114.46,76.43 114.53,77.89 113.27,79.12 113.43,80.6 113.52,82.06 114.45,83.63 115.37,85.2 116.34,86.75 116.09,88.39 116.2,90.04 116.64,91.68 116.34,93.32 115.42,94.9 113.82,95.81 112.58,97.08 110.91,96.78 109.53,97.63 108.24,98.86 106.45,98.08 105.08,98.95 103.51,99.33 101.97,99.78 101.07,101.51 99.44,101.77 97.39,102.36 95.69,103.64 93.89,103.29 93.01,101.56 91.27,101.13 90.06,99.89 88.51,99.84 87.43,98.38 85.64,99.08 84.43,98.01 82.87,97.67 81.41,96.83 79.74,97.08 78.43,95.38 77.86,93.32 76.55,92.35 76.47,90.45 75.05,89.57 73.51,89.31 72.13,88.48 70.36,89.17 68.99,88.28 67.54,87.69 65.75,87.73 64.33,86.49 62.43,86.92 60.97,85.81 59.53,84.65 57.48,85.61 56.14,84.05 54.4,83.94 52.57,83.64 51.37,82.39 50.45,80.7 48.77,80.18 47.13,79.32 45.91,78.04 45.02,76.43 44.31,75.17 43,74.45 41.65,73.76 41.85,71.7" fill="none" stroke="#6e6e6e" stroke-width="1.55" stroke-linejoin="round"/>
<polygon points="75.98,78.31 77.47,77.48 78.99,76.76 80.68,76.43 79.74,73.61 81.37,73.3 82.98,72.87 84.61,72.57 86.31,72.68 88.17,72.29 90.12,72.38 91.94,71.74 93.08,70.46 93.81,68.92 95.69,67.05 97.52,67.72 99.44,67.98 100.98,68.74 102.26,69.86 103.65,71.29 105.08,72.68 106.91,72 108.76,71.42 110.71,71.17 112.18,70.43 113.77,70.08 115.4,69.86 113.75,71.03 112.58,72.68 111.06,73.14 109.66,73.86 108.25,74.57 106.95,75.49 105.65,76.41 104.2,77.03 102.68,77.51 101.32,78.31 99.8,78.31 98.28,78.4 96.78,78.57 95.36,79.39 93.81,79.24 92.3,79.35 90.79,79.48 89.31,79.8 87.84,80.25 86.31,80.18 84.43,79.89 82.5,79.88 80.68,79.24 79.18,78.59 77.6,78.33" fill="none" stroke="#444" stroke-width="0.8" stroke-linejoin="round"/>
<polygon points="93.44,69.3 94.94,67.8 96.07,66.67 97.57,67.61 99.07,68.92 99.82,71.17 99.25,72.43 99.07,73.8 97.82,74.37 96.82,75.3 94.56,74.93 92.69,73.8 91.94,71.92 93.06,71.17" fill="none" stroke="#ff2a2a" stroke-width="0.9" stroke-linejoin="round"/>
</g>
<text x="90.3" y="60.8" font-size="10" fill="#2a2a2a" text-anchor="middle" font-weight="bold">China</text>
<text x="93.4" y="91.5" font-size="10.1" fill="#3a3a3a" text-anchor="middle">Yellow River Basin</text>
<g>
<circle cx="351.7" cy="43.4" r="11.8" fill="none" stroke="#151515" stroke-width="1.9"/>
<circle cx="351.7" cy="43.4" r="9.9" fill="none" stroke="#777" stroke-width="0.5"/>
<polygon points="351.7,43.4 351.7,39.8 359.12,35.98" fill="#111"/><polygon points="351.7,43.4 359.12,35.98 355.3,43.4" fill="#8a8a8a"/><polygon points="351.7,43.4 355.3,43.4 359.12,50.82" fill="#111"/><polygon points="351.7,43.4 359.12,50.82 351.7,47" fill="#8a8a8a"/><polygon points="351.7,43.4 351.7,47 344.28,50.82" fill="#111"/><polygon points="351.7,43.4 344.28,50.82 348.1,43.4" fill="#8a8a8a"/><polygon points="351.7,43.4 348.1,43.4 344.28,35.98" fill="#111"/><polygon points="351.7,43.4 344.28,35.98 351.7,39.8" fill="#8a8a8a"/>
<polygon points="351.7,43.4 348.59,40.29 351.7,27.9" fill="#111"/><polygon points="351.7,43.4 351.7,27.9 354.81,40.29" fill="#8a8a8a"/><polygon points="351.7,43.4 354.81,40.29 367.2,43.4" fill="#111"/><polygon points="351.7,43.4 367.2,43.4 354.81,46.51" fill="#8a8a8a"/><polygon points="351.7,43.4 354.81,46.51 351.7,58.9" fill="#111"/><polygon points="351.7,43.4 351.7,58.9 348.59,46.51" fill="#8a8a8a"/><polygon points="351.7,43.4 348.59,46.51 336.2,43.4" fill="#111"/><polygon points="351.7,43.4 336.2,43.4 348.59,40.29" fill="#8a8a8a"/>
<circle cx="351.7" cy="43.4" r="1.2" fill="#999" stroke="none" stroke-width="1"/>
</g>
<text x="351.7" y="26.6" font-size="8.6" fill="#222" text-anchor="middle" style="font-family:&quot;Liberation Serif&quot;,serif">N</text>
<text x="351.7" y="66.6" font-size="8.6" fill="#222" text-anchor="middle" style="font-family:&quot;Liberation Serif&quot;,serif">S</text>
<text x="332.7" y="46.4" font-size="8.6" fill="#222" text-anchor="middle" style="font-family:&quot;Liberation Serif&quot;,serif">W</text>
<text x="369.6" y="46.7" font-size="8.6" fill="#222" text-anchor="middle" style="font-family:&quot;Liberation Serif&quot;,serif">E</text>
<rect x="307" y="77" width="36.4" height="7.2" fill="#f4f2ee" stroke="#111" stroke-width="1.4"/>
<text x="325.1" y="71.6" font-size="10.2" fill="#1a1a1a" text-anchor="middle">80</text>
<text x="346.6" y="84.6" font-size="10.2" fill="#1a1a1a" textLength="13.4" lengthAdjust="spacingAndGlyphs">Km</text>
<text x="81.8" y="223.5" font-size="10" fill="#333333" text-anchor="middle" transform="rotate(-12.5 81.8 223.5)">Yellow River</text>
<text x="347.8" y="248.6" font-size="10.7" fill="#333333" text-anchor="middle" transform="rotate(-78 347.8 248.6)">Yellow River</text>
<rect x="37" y="241" width="12.4" height="6.6" fill="#f1efec" stroke="#ff1f1f" stroke-width="1.1"/>
<text x="52.5" y="247.8" font-size="10" fill="#1a1a1a">Study Area</text>
<circle cx="43.3" cy="258.9" r="2.85" fill="#b4501c" stroke="#111" stroke-width="1.45"/>
<text x="52.8" y="262.3" font-size="10.1" fill="#1a1a1a" textLength="163" lengthAdjust="spacingAndGlyphs">Coal Production&gt;1000 (million tons)</text>
<rect x="36.8" y="271" width="18.8" height="9.6" fill="#efe8a6" stroke="#7f7f7f" stroke-width="1"/>
<text x="59.4" y="279.5" font-size="10.1" fill="#1a1a1a">Cropland</text>
<rect x="104.8" y="271" width="18.8" height="9.6" fill="#b5df8a" stroke="#7f7f7f" stroke-width="1"/>
<text x="127.4" y="279.5" font-size="10.1" fill="#1a1a1a">Grassland</text>
<rect x="179.6" y="271" width="18.8" height="9.6" fill="#e04fa8" stroke="#7f7f7f" stroke-width="1"/>
<text x="202.2" y="279.5" font-size="10.1" fill="#1a1a1a">Impervious</text>
<rect x="255.7" y="271" width="18.8" height="9.6" fill="#c9b9a3" stroke="#7f7f7f" stroke-width="1"/>
<text x="278.3" y="279.5" font-size="10.1" fill="#1a1a1a">Barren</text>
<rect x="36.8" y="286.3" width="18.8" height="9.6" fill="#3c7a3c" stroke="#7f7f7f" stroke-width="1"/>
<text x="59.4" y="294.8" font-size="10.1" fill="#1a1a1a">Forest</text>
<rect x="104.8" y="286.3" width="18.8" height="9.6" fill="#58a9ea" stroke="#7f7f7f" stroke-width="1"/>
<text x="127.4" y="294.8" font-size="10.1" fill="#1a1a1a">Wetland</text>
<rect x="179.6" y="286.3" width="18.8" height="9.6" fill="#47b03c" stroke="#7f7f7f" stroke-width="1"/>
<text x="202.2" y="294.8" font-size="10.1" fill="#1a1a1a">Shrub</text>
<rect x="255.7" y="286.3" width="18.8" height="9.6" fill="#3566c2" stroke="#7f7f7f" stroke-width="1"/>
<text x="278.3" y="294.8" font-size="10.1" fill="#1a1a1a">Water</text>
</g>
<rect x="28.8" y="14" width="345.8" height="289.4" fill="none" stroke="#5a5a5a" stroke-width="1.1"/>
<line x1="115.6" y1="14" x2="115.6" y2="16.5" stroke="#1a1a1a" stroke-width="1"/>
<line x1="115.6" y1="303.4" x2="115.6" y2="300.9" stroke="#1a1a1a" stroke-width="1"/>
<text x="115.6" y="9.2" font-size="10.5" fill="#262626" text-anchor="middle">106°E</text>
<text x="115.6" y="317.4" font-size="10.5" fill="#262626" text-anchor="middle">106°E</text>
<line x1="218.5" y1="14" x2="218.5" y2="16.5" stroke="#1a1a1a" stroke-width="1"/>
<line x1="218.5" y1="303.4" x2="218.5" y2="300.9" stroke="#1a1a1a" stroke-width="1"/>
<text x="218.5" y="9.2" font-size="10.5" fill="#262626" text-anchor="middle">108°E</text>
<text x="218.5" y="317.4" font-size="10.5" fill="#262626" text-anchor="middle">108°E</text>
<line x1="320.7" y1="14" x2="320.7" y2="16.5" stroke="#1a1a1a" stroke-width="1"/>
<line x1="320.7" y1="303.4" x2="320.7" y2="300.9" stroke="#1a1a1a" stroke-width="1"/>
<text x="320.7" y="9.2" font-size="10.5" fill="#262626" text-anchor="middle">110°E</text>
<text x="320.7" y="317.4" font-size="10.5" fill="#262626" text-anchor="middle">110°E</text>
<line x1="28.8" y1="80.9" x2="31.3" y2="80.9" stroke="#1a1a1a" stroke-width="1"/>
<line x1="374.6" y1="80.9" x2="372.1" y2="80.9" stroke="#1a1a1a" stroke-width="1"/>
<text x="23" y="80.9" font-size="10.6" fill="#262626" text-anchor="middle" transform="rotate(-90 23 80.9)">40°N</text>
<text x="387.1" y="80.9" font-size="10.6" fill="#262626" text-anchor="middle" transform="rotate(-90 387.1 80.9)">40°N</text>
<line x1="28.8" y1="189.4" x2="31.3" y2="189.4" stroke="#1a1a1a" stroke-width="1"/>
<line x1="374.6" y1="189.4" x2="372.1" y2="189.4" stroke="#1a1a1a" stroke-width="1"/>
<text x="23" y="189.4" font-size="10.6" fill="#262626" text-anchor="middle" transform="rotate(-90 23 189.4)">38°N</text>
<text x="387.1" y="189.4" font-size="10.6" fill="#262626" text-anchor="middle" transform="rotate(-90 387.1 189.4)">38°N</text>
<line x1="28.8" y1="298.9" x2="31.3" y2="298.9" stroke="#1a1a1a" stroke-width="1"/>
<line x1="374.6" y1="298.9" x2="372.1" y2="298.9" stroke="#1a1a1a" stroke-width="1"/>
<text x="23" y="298.9" font-size="10.6" fill="#262626" text-anchor="middle" transform="rotate(-90 23 298.9)">36°N</text>
<text x="387.1" y="298.9" font-size="10.6" fill="#262626" text-anchor="middle" transform="rotate(-90 387.1 298.9)">36°N</text>
<text x="9.9" y="152.8" font-size="12.3" fill="#262626" text-anchor="middle" transform="rotate(-90 9.9 152.8)">Latitude</text>
<text x="203.9" y="326.8" font-size="12.3" fill="#262626" text-anchor="middle">Longitude</text>
<text x="9.4" y="18.2" font-size="16" fill="#000" font-weight="bold">a</text>
<polygon points="436.6,82.13 438.2,81.45 439.9,81.12 441.3,80.78 443,78.94 444.8,77.02 446.1,75.52 446.9,74.12 448.7,72.72 450.5,72.1 451.8,71.84 453.5,71.32 455.3,70.88 457,69.12 458.3,67.62 459.6,66.56 461,65.5 462.3,64 464,63.92 465.8,64.36 467.5,64.28 469.3,63.94 471,63.68 472.3,63.5 473.7,63.6 475,63.68 476.3,64.28 477.6,65.08 478.9,65.6 480.7,66.12 482,65.6 483.7,64.64 485.1,63.94 485.9,63.5 487.2,62.72 488.6,61.94 490,60.38 491.3,58.72 492.6,57.26 494.4,54.46 496.1,52.54 497.4,52.02 498.8,50.88 500.5,48.94 502.3,48.5 504,48.14 505.8,47.26 507.5,46.66 509.3,46.58 511,46.58 512.8,47.1 514.5,47.62 516.3,48.58 518,49.54 519.8,50.42 521.5,50.7 522.8,51.58 524.2,52.36 525.9,53.14 527.2,52.88 528.5,51.74 529.9,49.82 530.7,48.08 531.6,46.42 532.9,45.02 534.2,44.66 535.5,45.18 536.9,45.34 538.2,45 539.5,44.82 540.8,44.56 542.6,44.18 544.3,44.44 545.7,44.54 547.3,44.5 548.3,45.22 549.8,46.04 551.9,46.34 554.4,47.26 556.5,49.1 558.5,50.02 560.5,50.32 562.1,50.94 563.6,51.56 565.7,50.94 567.2,50.02 568.7,49.72 570.3,49.4 571.8,47.86 573.3,46.84 574.9,46.84 575.9,47.24 577.4,47.36 578.9,47.68 580.5,48.4 582,49.22 583.5,49.44 585.1,49.54 587.1,50.86 589.2,52.6 591.2,53.22 593.2,52.9 595.3,52.9 596.8,51.38 598.4,49.22 600.4,48.2 601.9,48.78 603.9,48.06 605.3,47.84 606.6,48.08 607.9,48.6 609.6,47.72 611.4,47.64 613.1,48.42 614.5,49.3 616.2,50.7 618,51.74 618.8,52.6 620.6,53.38 621.9,54.78 623.6,53.9 625,53.38 626.3,53.56 627.6,54.36 629.8,53.48 631.1,52.96 632.4,53.32 634.2,53.94 635.9,52.72 637.7,51.5 639,51.32 640.3,51.66 642,50.52 643.8,50.08 645.5,50.96 647.3,52.54 649,52.36 650.4,52.62 651.7,53.32 653,53.57 653.9,52.27 653.9,63.27 653,64.57 651.7,64.32 650.4,63.62 649,63.36 647.3,63.54 645.5,61.96 643.8,61.08 642,61.52 640.3,62.66 639,62.32 637.7,62.5 635.9,63.72 634.2,64.94 632.4,64.32 631.1,63.96 629.8,64.48 627.6,65.36 626.3,64.56 625,64.38 623.6,64.9 621.9,65.78 620.6,64.38 618.8,63.6 618,62.74 616.2,61.7 614.5,60.3 613.1,59.42 611.4,58.64 609.6,58.72 607.9,59.6 606.6,59.08 605.3,58.84 603.9,59.06 601.9,59.78 600.4,59.2 598.4,60.22 596.8,62.38 595.3,63.9 593.2,63.9 591.2,64.22 589.2,63.6 587.1,61.86 585.1,60.54 583.5,60.44 582,60.22 580.5,59.4 578.9,58.68 577.4,58.36 575.9,58.24 574.9,57.84 573.3,57.84 571.8,58.86 570.3,60.4 568.7,60.72 567.2,61.02 565.7,61.94 563.6,62.56 562.1,61.94 560.5,61.32 558.5,61.02 556.5,60.1 554.4,58.26 551.9,57.34 549.8,57.04 548.3,56.22 547.3,55.5 545.7,55.54 544.3,55.44 542.6,55.18 540.8,55.56 539.5,55.82 538.2,56 536.9,56.34 535.5,56.18 534.2,55.66 532.9,56.02 531.6,57.42 530.7,59.08 529.9,60.82 528.5,62.74 527.2,63.88 525.9,64.14 524.2,63.36 522.8,62.58 521.5,61.7 519.8,61.42 518,60.54 516.3,59.58 514.5,58.62 512.8,58.1 511,57.58 509.3,57.58 507.5,57.66 505.8,58.26 504,59.14 502.3,59.5 500.5,59.94 498.8,61.88 497.4,63.02 496.1,63.54 494.4,65.46 492.6,68.26 491.3,69.72 490,71.38 488.6,72.94 487.2,73.72 485.9,74.5 485.1,74.94 483.7,75.64 482,76.6 480.7,77.12 478.9,76.6 477.6,76.08 476.3,75.28 475,74.68 473.7,74.6 472.3,74.5 471,74.68 469.3,74.94 467.5,75.28 465.8,75.36 464,74.92 462.3,75 461,76.5 459.6,77.56 458.3,78.62 457,80.12 455.3,81.88 453.5,82.32 451.8,82.84 450.5,83.1 448.7,83.72 446.9,85.12 446.1,86.52 444.8,88.02 443,89.94 441.3,91.78 439.9,92.12 438.2,92.45 436.6,93.13" fill="#e6e6f8"/>
<polyline points="539.5,49.67 540.8,48.98 542.6,48.88 544.3,49.14 545.7,49.24 547.3,49.2 548.3,49.92 549.8,50.74 551.9,51.04 554.4,53.06 556.5,54.9 558.5,55.82 560.5,56.12 562.1,56.74 563.6,57.36 565.7,56.74 567.2,55.82 568.7,55.52 570.3,55.2 571.8,53.66 573.3,52.64 574.9,52.64 575.9,53.94 577.4,54.06 578.9,54.38 580.5,55.1 582,55.92 583.5,56.14 585.1,56.24 587.1,57.56 589.2,59.3 591.2,59.92 593.2,59.6 595.3,59.6 596.8,58.08 598.4,55.92 600.4,54.9 601.9,55.48 603.9,54.76 605.3,54.54 606.6,54.78 607.9,55.3 609.6,54.42 611.4,54.34 613.1,55.12 614.5,56 616.2,57.4 618,58.44 618.8,59.3 620.6,60.08 621.9,61.48 623.6,60.6 625,60.08 626.3,60.26 627.6,61.06 629.8,60.18 631.1,59.66 632.4,60.02 634.2,60.64 635.9,59.42 637.7,58.2 639,58.02 640.3,58.36 642,57.22 643.8,56.78 645.5,57.66 647.3,59.24 649,59.06 650.4,59.32 651.7,60.02 653,60.27 653.9,58.97" fill="none" stroke="#f28282" stroke-width="1.7" stroke-linejoin="round"/>
<polyline points="436.6,86.63 438.2,85.95 439.9,85.62 441.3,85.28 443,83.44 444.8,81.52 446.1,80.02 446.9,78.62 448.7,77.22 450.5,76.6 451.8,76.34 453.5,75.82 455.3,75.38 457,73.62 458.3,72.12 459.6,71.06 461,70 462.3,68.5 464,68.42 465.8,68.86 467.5,68.78 469.3,68.44 471,68.18 472.3,68 473.7,68.1 475,68.18 476.3,68.78 477.6,69.58 478.9,70.1 480.7,70.62 482,70.1 483.7,69.14 485.1,68.44 485.9,68 487.2,67.22 488.6,66.44 490,64.88 491.3,63.22 492.6,61.76 494.4,58.96 496.1,57.04 497.4,56.52 498.8,55.38 500.5,53.44 502.3,53 504,52.64 505.8,51.76 507.5,51.16 509.3,51.08 511,51.08 512.8,51.6 514.5,52.12 516.3,53.08 518,54.04 519.8,54.92 521.5,55.2 522.8,56.08 524.2,56.86 525.9,57.64 527.2,57.38 528.5,56.24 529.9,54.32 530.7,52.58 531.6,50.92 532.9,49.52 534.2,49.16 535.5,49.68 536.9,49.65 538.2,49.03 539.5,50.87 540.8,50.17 542.6,50.08 544.3,50.34 545.7,50.44 547.3,50.4 548.3,51.12 549.8,51.94 551.9,52.24 554.4,53.16 556.5,55 558.5,55.92 560.5,56.22 562.1,56.84 563.6,57.46 565.7,56.84 567.2,55.92 568.7,55.62 570.3,55.3 571.8,53.76 573.3,52.74 574.9,52.74 575.9,53.14 577.4,53.26 578.9,53.58 580.5,54.3 582,55.12 583.5,55.34 585.1,55.44 587.1,56.76 589.2,58.5 591.2,59.12 593.2,58.8 595.3,58.8 596.8,57.28 598.4,55.12 600.4,54.1 601.9,54.68 603.9,53.96 605.3,53.74 606.6,53.98 607.9,54.5 609.6,53.62 611.4,53.54 613.1,54.32 614.5,55.2 616.2,56.6 618,57.64 618.8,58.5 620.6,59.28 621.9,60.68 623.6,59.8 625,59.28 626.3,59.46 627.6,60.26 629.8,59.38 631.1,58.86 632.4,59.22 634.2,59.84 635.9,58.62 637.7,57.4 639,57.22 640.3,57.56 642,56.42 643.8,55.98 645.5,56.86 647.3,58.44 649,58.26 650.4,58.52 651.7,59.22 653,59.47 653.9,58.17" fill="none" stroke="#82a2e4" stroke-width="1.6" stroke-linejoin="round"/>
<polyline points="436.6,87.9 438.2,88.4 439.9,86.6 441.3,84.9 443,85.3 444.8,86.2 446.1,79.2 446.9,77 448.7,77.4 450.5,78.3 451.8,79.2 453.5,76.1 455.3,75.7 457,74.8 458.3,76.1 459.6,70.4 461,68.6 462.3,70.4 464,69.5 465.8,68.6 467.5,70 469.3,70.8 471,70 472.3,67.8 473.7,67.3 475,69.1 476.3,71.3 477.6,70.4 478.9,70.8 480.7,71.3 482,71.7 483.7,73.9 485.1,67.8 485.9,66 487.2,67.8 488.6,69.5 490,70 491.3,63.9 492.6,58.2 494.4,59.5 496.1,62.2 497.4,56 498.8,54.3 500.5,55.6 502.3,53.8 504,52.5 505.8,53.8 507.5,52.5 509.3,51.2 511,50.8 512.8,52.1 514.5,53.8 516.3,55.1 518,53.8 519.8,55.6 521.5,56.9 522.8,58.2 524.2,56.5 525.9,58.2 527.2,59.5 528.5,60.8 529.9,56.9 530.7,50.8 531.6,48.6 532.9,50.8 534.2,52.5 535.5,49.9 536.9,49 538.2,51.2 539.5,51.6 540.8,50.8 542.6,49 544.3,47.7 545.7,49.3 547.3,52.9 548.3,51.3 549.8,48.8 551.9,51.3 554.4,53.4 556.5,54.4 558.5,55.9 560.5,58 562.1,55.9 563.6,54.9 565.7,57.5 567.2,59 568.7,54.9 570.3,51.3 571.8,53.4 573.3,55.9 574.9,51.3 575.9,49.8 577.4,51.3 578.9,55.4 580.5,56.5 582,52.9 583.5,53.4 585.1,55.4 587.1,56.5 589.2,57 591.2,59.5 593.2,62.1 595.3,58.5 596.8,54.9 598.4,57 600.4,51.9 601.9,51.3 603.9,53.4 605.3,57.8 606.6,53.4 607.9,50.8 609.6,52.5 611.4,56 613.1,53.4 614.5,53 616.2,54.7 618,56.9 618.8,63 620.6,58.6 621.9,57.3 623.6,58.6 625,63.9 626.3,58.6 627.6,56 629.8,58.2 631.1,62.6 632.4,59.5 634.2,56 635.9,57.8 637.7,61.3 639,56.5 640.3,53.4 642,55.1 643.8,59.5 645.5,55.6 647.3,54.3 649,57.8 650.4,63 651.7,58.6 653,56.9 653.9,57.8" fill="none" stroke="#5a4fdc" stroke-width="1.9" stroke-linejoin="round"/>
<line x1="538.8" y1="47" x2="538.8" y2="93" stroke="#2a2a2a" stroke-width="1.3" stroke-dasharray="3.2,2.2"/>
<line x1="436.4" y1="93.2" x2="654.3" y2="93.2" stroke="#666666" stroke-width="1"/>
<line x1="436.4" y1="14.4" x2="436.4" y2="93.2" stroke="#666666" stroke-width="1"/>
<line x1="436.4" y1="14.4" x2="654.3" y2="14.4" stroke="#6e6e6e" stroke-width="1"/>
<line x1="654.3" y1="14.4" x2="654.3" y2="93.2" stroke="#6e6e6e" stroke-width="1"/>
<line x1="436.4" y1="31" x2="438.6" y2="31" stroke="#262626" stroke-width="1"/>
<line x1="654.3" y1="31" x2="652.1" y2="31" stroke="#262626" stroke-width="1"/>
<text x="433.3" y="35" font-size="10.5" fill="#262626" text-anchor="end">200</text>
<line x1="436.4" y1="53.6" x2="438.6" y2="53.6" stroke="#262626" stroke-width="1"/>
<line x1="654.3" y1="53.6" x2="652.1" y2="53.6" stroke="#262626" stroke-width="1"/>
<text x="433.3" y="57.6" font-size="10.5" fill="#262626" text-anchor="end">0</text>
<line x1="436.4" y1="76.2" x2="438.6" y2="76.2" stroke="#262626" stroke-width="1"/>
<line x1="654.3" y1="76.2" x2="652.1" y2="76.2" stroke="#262626" stroke-width="1"/>
<text x="433.3" y="80.2" font-size="10.5" fill="#262626" text-anchor="end">-200</text>
<line x1="456.6" y1="93.2" x2="456.6" y2="91" stroke="#262626" stroke-width="1"/>
<line x1="456.6" y1="14.4" x2="456.6" y2="16.6" stroke="#262626" stroke-width="1"/>
<text x="456.6" y="106.6" font-size="10.5" fill="#262626" text-anchor="middle">1990</text>
<line x1="520.53" y1="93.2" x2="520.53" y2="91" stroke="#262626" stroke-width="1"/>
<line x1="520.53" y1="14.4" x2="520.53" y2="16.6" stroke="#262626" stroke-width="1"/>
<text x="520.53" y="106.6" font-size="10.5" fill="#262626" text-anchor="middle">2000</text>
<line x1="584.46" y1="93.2" x2="584.46" y2="91" stroke="#262626" stroke-width="1"/>
<line x1="584.46" y1="14.4" x2="584.46" y2="16.6" stroke="#262626" stroke-width="1"/>
<text x="584.46" y="106.6" font-size="10.5" fill="#262626" text-anchor="middle">2010</text>
<line x1="648.39" y1="93.2" x2="648.39" y2="91" stroke="#262626" stroke-width="1"/>
<line x1="648.39" y1="14.4" x2="648.39" y2="16.6" stroke="#262626" stroke-width="1"/>
<text x="648.39" y="106.6" font-size="10.5" fill="#262626" text-anchor="middle">2020</text>
<text x="411.3" y="52.6" font-size="12.4" fill="#262626" text-anchor="middle" transform="rotate(-90 411.3 52.6)">TWS (mm)</text>
<line x1="449.9" y1="19.6" x2="492.8" y2="19.6" stroke="#f28282" stroke-width="1.6"/>
<text x="496.6" y="22.9" font-size="9.95" fill="#1a1a1a">TWS_GRACE - TWS_Coal</text>
<line x1="449.9" y1="32.1" x2="492.8" y2="32.1" stroke="#82a2e4" stroke-width="1.6"/>
<text x="496.6" y="35.4" font-size="9.95" fill="#1a1a1a">TWS_WB Predict</text>
<line x1="449.9" y1="44.4" x2="492.8" y2="44.4" stroke="#5a4fdc" stroke-width="1.6"/>
<text x="496.6" y="47.7" font-size="9.95" fill="#1a1a1a">TWS_WB</text>
<text x="472.8" y="80.3" font-size="10.4" fill="#5a4fdc" textLength="58.4" lengthAdjust="spacingAndGlyphs">Trend = 19.9</text>
<text x="472.8" y="91.4" font-size="10.4" fill="#82a2e4" textLength="58.4" lengthAdjust="spacingAndGlyphs">Trend = 18.8</text>
<text x="579.5" y="72.1" font-size="10.4" fill="#f28282" textLength="57.6" lengthAdjust="spacingAndGlyphs">Trend = -3.3</text>
<text x="579.5" y="80.5" font-size="10.4" fill="#5a4fdc" textLength="57.6" lengthAdjust="spacingAndGlyphs">Trend = -3.5</text>
<text x="579.5" y="91.2" font-size="10.4" fill="#82a2e4" textLength="57.6" lengthAdjust="spacingAndGlyphs">Trend = -2.9</text>
<text x="416.6" y="18.2" font-size="16" fill="#000" font-weight="bold">b</text>
<rect x="495.1" y="117.9" width="21.3" height="79.5" fill="#e3e5e3" stroke="none" stroke-width="1"/>
<polyline points="443.55,133.53 450.8,133.53 458.05,133.53 465.3,133.53 472.55,133.8 479.8,134.07 487.05,135.39 494.3,141.09 501.55,143.74 508.8,148.11 516.05,157.65 523.3,162.95 530.55,164.94 537.8,165.87 545.05,166.93 552.3,169.31 559.55,170.24 566.8,170.64 574.05,170.9 581.3,171.56 588.55,173.55 595.8,174.21 603.05,174.88 610.3,174.88 617.55,174.34 624.8,173.81 632.05,171.16 639.3,168.52 646.55,167.59" fill="none" stroke="#ef8088" stroke-width="1.2"/>
<polyline points="443.55,179.12 450.8,179.12 458.05,179.12 465.3,179.12 472.55,179.12 479.8,178.96 487.05,177.92 494.3,175.54 501.55,173.15 508.8,165.2 516.05,155.27 523.3,149.7 530.55,147.32 537.8,146.12 545.05,145.33 552.3,142.15 559.55,141.35 566.8,141.35 574.05,140.96 581.3,140.16 588.55,138.57 595.8,137.93 603.05,137.78 610.3,137.93 617.55,138.57 624.8,140 632.05,144.13 639.3,147.32 646.55,148.11" fill="none" stroke="#7b9de0" stroke-width="1.2"/>
<circle cx="443.55" cy="133.53" r="4.05" fill="none" stroke="#ef8088" stroke-width="1.5"/>
<circle cx="450.8" cy="133.53" r="4.05" fill="none" stroke="#ef8088" stroke-width="1.5"/>
<circle cx="458.05" cy="133.53" r="4.05" fill="none" stroke="#ef8088" stroke-width="1.5"/>
<circle cx="465.3" cy="133.53" r="4.05" fill="none" stroke="#ef8088" stroke-width="1.5"/>
<circle cx="472.55" cy="133.8" r="4.05" fill="none" stroke="#ef8088" stroke-width="1.5"/>
<circle cx="479.8" cy="134.07" r="4.05" fill="none" stroke="#ef8088" stroke-width="1.5"/>
<circle cx="487.05" cy="135.39" r="4.05" fill="none" stroke="#ef8088" stroke-width="1.5"/>
<circle cx="494.3" cy="141.09" r="4.05" fill="none" stroke="#ef8088" stroke-width="1.5"/>
<circle cx="501.55" cy="143.74" r="4.05" fill="none" stroke="#ef8088" stroke-width="1.5"/>
<circle cx="508.8" cy="148.11" r="4.05" fill="none" stroke="#ef8088" stroke-width="1.5"/>
<circle cx="516.05" cy="157.65" r="4.05" fill="none" stroke="#ef8088" stroke-width="1.5"/>
<circle cx="523.3" cy="162.95" r="4.05" fill="none" stroke="#ef8088" stroke-width="1.5"/>
<circle cx="530.55" cy="164.94" r="4.05" fill="none" stroke="#ef8088" stroke-width="1.5"/>
<circle cx="537.8" cy="165.87" r="4.05" fill="none" stroke="#ef8088" stroke-width="1.5"/>
<circle cx="545.05" cy="166.93" r="4.05" fill="none" stroke="#ef8088" stroke-width="1.5"/>
<circle cx="552.3" cy="169.31" r="4.05" fill="none" stroke="#ef8088" stroke-width="1.5"/>
<circle cx="559.55" cy="170.24" r="4.05" fill="none" stroke="#ef8088" stroke-width="1.5"/>
<circle cx="566.8" cy="170.64" r="4.05" fill="none" stroke="#ef8088" stroke-width="1.5"/>
<circle cx="574.05" cy="170.9" r="4.05" fill="none" stroke="#ef8088" stroke-width="1.5"/>
<circle cx="581.3" cy="171.56" r="4.05" fill="none" stroke="#ef8088" stroke-width="1.5"/>
<circle cx="588.55" cy="173.55" r="4.05" fill="none" stroke="#ef8088" stroke-width="1.5"/>
<circle cx="595.8" cy="174.21" r="4.05" fill="none" stroke="#ef8088" stroke-width="1.5"/>
<circle cx="603.05" cy="174.88" r="4.05" fill="none" stroke="#ef8088" stroke-width="1.5"/>
<circle cx="610.3" cy="174.88" r="4.05" fill="none" stroke="#ef8088" stroke-width="1.5"/>
<circle cx="617.55" cy="174.34" r="4.05" fill="none" stroke="#ef8088" stroke-width="1.5"/>
<circle cx="624.8" cy="173.81" r="4.05" fill="none" stroke="#ef8088" stroke-width="1.5"/>
<circle cx="632.05" cy="171.16" r="4.05" fill="none" stroke="#ef8088" stroke-width="1.5"/>
<circle cx="639.3" cy="168.52" r="4.05" fill="none" stroke="#ef8088" stroke-width="1.5"/>
<circle cx="646.55" cy="167.59" r="4.05" fill="none" stroke="#ef8088" stroke-width="1.5"/>
<circle cx="443.55" cy="179.12" r="4.05" fill="none" stroke="#7b9de0" stroke-width="1.5"/>
<circle cx="450.8" cy="179.12" r="4.05" fill="none" stroke="#7b9de0" stroke-width="1.5"/>
<circle cx="458.05" cy="179.12" r="4.05" fill="none" stroke="#7b9de0" stroke-width="1.5"/>
<circle cx="465.3" cy="179.12" r="4.05" fill="none" stroke="#7b9de0" stroke-width="1.5"/>
<circle cx="472.55" cy="179.12" r="4.05" fill="none" stroke="#7b9de0" stroke-width="1.5"/>
<circle cx="479.8" cy="178.96" r="4.05" fill="none" stroke="#7b9de0" stroke-width="1.5"/>
<circle cx="487.05" cy="177.92" r="4.05" fill="none" stroke="#7b9de0" stroke-width="1.5"/>
<circle cx="494.3" cy="175.54" r="4.05" fill="none" stroke="#7b9de0" stroke-width="1.5"/>
<circle cx="501.55" cy="173.15" r="4.05" fill="none" stroke="#7b9de0" stroke-width="1.5"/>
<circle cx="508.8" cy="165.2" r="4.05" fill="none" stroke="#7b9de0" stroke-width="1.5"/>
<circle cx="516.05" cy="155.27" r="4.05" fill="none" stroke="#7b9de0" stroke-width="1.5"/>
<circle cx="523.3" cy="149.7" r="4.05" fill="none" stroke="#7b9de0" stroke-width="1.5"/>
<circle cx="530.55" cy="147.32" r="4.05" fill="none" stroke="#7b9de0" stroke-width="1.5"/>
<circle cx="537.8" cy="146.12" r="4.05" fill="none" stroke="#7b9de0" stroke-width="1.5"/>
<circle cx="545.05" cy="145.33" r="4.05" fill="none" stroke="#7b9de0" stroke-width="1.5"/>
<circle cx="552.3" cy="142.15" r="4.05" fill="none" stroke="#7b9de0" stroke-width="1.5"/>
<circle cx="559.55" cy="141.35" r="4.05" fill="none" stroke="#7b9de0" stroke-width="1.5"/>
<circle cx="566.8" cy="141.35" r="4.05" fill="none" stroke="#7b9de0" stroke-width="1.5"/>
<circle cx="574.05" cy="140.96" r="4.05" fill="none" stroke="#7b9de0" stroke-width="1.5"/>
<circle cx="581.3" cy="140.16" r="4.05" fill="none" stroke="#7b9de0" stroke-width="1.5"/>
<circle cx="588.55" cy="138.57" r="4.05" fill="none" stroke="#7b9de0" stroke-width="1.5"/>
<circle cx="595.8" cy="137.93" r="4.05" fill="none" stroke="#7b9de0" stroke-width="1.5"/>
<circle cx="603.05" cy="137.78" r="4.05" fill="none" stroke="#7b9de0" stroke-width="1.5"/>
<circle cx="610.3" cy="137.93" r="4.05" fill="none" stroke="#7b9de0" stroke-width="1.5"/>
<circle cx="617.55" cy="138.57" r="4.05" fill="none" stroke="#7b9de0" stroke-width="1.5"/>
<circle cx="624.8" cy="140" r="4.05" fill="none" stroke="#7b9de0" stroke-width="1.5"/>
<circle cx="632.05" cy="144.13" r="4.05" fill="none" stroke="#7b9de0" stroke-width="1.5"/>
<circle cx="639.3" cy="147.32" r="4.05" fill="none" stroke="#7b9de0" stroke-width="1.5"/>
<circle cx="646.55" cy="148.11" r="4.05" fill="none" stroke="#7b9de0" stroke-width="1.5"/>
<line x1="437.2" y1="197.4" x2="653.7" y2="197.4" stroke="#666666" stroke-width="1"/>
<line x1="437.2" y1="117.9" x2="653.7" y2="117.9" stroke="#6e6e6e" stroke-width="1"/>
<line x1="437.2" y1="117.9" x2="437.2" y2="197.4" stroke="#ef8088" stroke-width="1"/>
<line x1="653.7" y1="117.9" x2="653.7" y2="197.4" stroke="#7b9de0" stroke-width="1"/>
<line x1="437.2" y1="117.9" x2="439.4" y2="117.9" stroke="#ef8088" stroke-width="1"/>
<text x="433.5" y="121.7" font-size="10.5" fill="#ef8088" text-anchor="end">10</text>
<line x1="437.2" y1="144.4" x2="439.4" y2="144.4" stroke="#ef8088" stroke-width="1"/>
<text x="433.5" y="148.2" font-size="10.5" fill="#ef8088" text-anchor="end">8</text>
<line x1="437.2" y1="170.9" x2="439.4" y2="170.9" stroke="#ef8088" stroke-width="1"/>
<text x="433.5" y="174.7" font-size="10.5" fill="#ef8088" text-anchor="end">6</text>
<line x1="437.2" y1="197.4" x2="439.4" y2="197.4" stroke="#ef8088" stroke-width="1"/>
<text x="433.5" y="201.2" font-size="10.5" fill="#ef8088" text-anchor="end">4</text>
<line x1="653.7" y1="117.9" x2="651.5" y2="117.9" stroke="#7b9de0" stroke-width="1"/>
<text x="657.5" y="121.7" font-size="10.5" fill="#7b9de0">80</text>
<line x1="653.7" y1="157.65" x2="651.5" y2="157.65" stroke="#7b9de0" stroke-width="1"/>
<text x="657.5" y="161.45" font-size="10.5" fill="#7b9de0">75</text>
<line x1="653.7" y1="197.4" x2="651.5" y2="197.4" stroke="#7b9de0" stroke-width="1"/>
<text x="657.5" y="201.2" font-size="10.5" fill="#7b9de0">70</text>
<line x1="465.3" y1="197.4" x2="465.3" y2="195.2" stroke="#262626" stroke-width="1"/>
<line x1="465.3" y1="117.9" x2="465.3" y2="120.1" stroke="#262626" stroke-width="1"/>
<text x="465.3" y="210.3" font-size="10.5" fill="#262626" text-anchor="middle">1995</text>
<line x1="501.55" y1="197.4" x2="501.55" y2="195.2" stroke="#262626" stroke-width="1"/>
<line x1="501.55" y1="117.9" x2="501.55" y2="120.1" stroke="#262626" stroke-width="1"/>
<text x="501.55" y="210.3" font-size="10.5" fill="#262626" text-anchor="middle">2000</text>
<line x1="537.8" y1="197.4" x2="537.8" y2="195.2" stroke="#262626" stroke-width="1"/>
<line x1="537.8" y1="117.9" x2="537.8" y2="120.1" stroke="#262626" stroke-width="1"/>
<text x="537.8" y="210.3" font-size="10.5" fill="#262626" text-anchor="middle">2005</text>
<line x1="574.05" y1="197.4" x2="574.05" y2="195.2" stroke="#262626" stroke-width="1"/>
<line x1="574.05" y1="117.9" x2="574.05" y2="120.1" stroke="#262626" stroke-width="1"/>
<text x="574.05" y="210.3" font-size="10.5" fill="#262626" text-anchor="middle">2010</text>
<line x1="610.3" y1="197.4" x2="610.3" y2="195.2" stroke="#262626" stroke-width="1"/>
<line x1="610.3" y1="117.9" x2="610.3" y2="120.1" stroke="#262626" stroke-width="1"/>
<text x="610.3" y="210.3" font-size="10.5" fill="#262626" text-anchor="middle">2015</text>
<line x1="646.55" y1="197.4" x2="646.55" y2="195.2" stroke="#262626" stroke-width="1"/>
<line x1="646.55" y1="117.9" x2="646.55" y2="120.1" stroke="#262626" stroke-width="1"/>
<text x="646.55" y="210.3" font-size="10.5" fill="#262626" text-anchor="middle">2020</text>
<text x="411.6" y="157" font-size="12.6" fill="#ef8088" text-anchor="middle" transform="rotate(-90 411.6 157)">Barren (%)</text>
<text x="683.4" y="157.5" font-size="12.6" fill="#7b9de0" text-anchor="middle" transform="rotate(-90 683.4 157.5)">Grassland (%)</text>
<text x="413.2" y="115.8" font-size="16" fill="#000" font-weight="bold">c</text>
<line x1="436.6" y1="278.4" x2="654.2" y2="278.4" stroke="#6f94dc" stroke-width="1.4" stroke-dasharray="5,2,1.5,2"/>
<polyline points="439.16,234.03 451.78,245.84 464.4,259.84 477.02,272.96 489.64,278.21 502.26,286.96 514.88,291.6 527.5,292.65 540.12,295.27 552.74,287.05 565.36,282.59 577.98,280.23 590.6,279.52 603.22,269.9 615.84,258.96 628.46,244.09 641.08,230.96" fill="none" stroke="#f08080" stroke-width="1.7" stroke-linejoin="round"/>
<line x1="539.8" y1="224.4" x2="539.8" y2="302" stroke="#2a2a2a" stroke-width="1.3" stroke-dasharray="3.2,2.2"/>
<line x1="436.6" y1="303" x2="654.2" y2="303" stroke="#666666" stroke-width="1"/>
<line x1="436.6" y1="224.4" x2="436.6" y2="303" stroke="#666666" stroke-width="1"/>
<line x1="436.6" y1="224.4" x2="654.2" y2="224.4" stroke="#6e6e6e" stroke-width="1"/>
<line x1="654.2" y1="224.4" x2="654.2" y2="303" stroke="#6e6e6e" stroke-width="1"/>
<line x1="436.6" y1="224.4" x2="438.8" y2="224.4" stroke="#262626" stroke-width="1"/>
<line x1="654.2" y1="224.4" x2="652" y2="224.4" stroke="#262626" stroke-width="1"/>
<text x="433.3" y="228.3" font-size="10.5" fill="#262626" text-anchor="end">0</text>
<line x1="436.6" y1="241.9" x2="438.8" y2="241.9" stroke="#262626" stroke-width="1"/>
<line x1="654.2" y1="241.9" x2="652" y2="241.9" stroke="#262626" stroke-width="1"/>
<text x="433.3" y="245.8" font-size="10.5" fill="#262626" text-anchor="end">-20</text>
<line x1="436.6" y1="259.4" x2="438.8" y2="259.4" stroke="#262626" stroke-width="1"/>
<line x1="654.2" y1="259.4" x2="652" y2="259.4" stroke="#262626" stroke-width="1"/>
<text x="433.3" y="263.3" font-size="10.5" fill="#262626" text-anchor="end">-40</text>
<line x1="436.6" y1="276.9" x2="438.8" y2="276.9" stroke="#262626" stroke-width="1"/>
<line x1="654.2" y1="276.9" x2="652" y2="276.9" stroke="#262626" stroke-width="1"/>
<text x="433.3" y="280.8" font-size="10.5" fill="#262626" text-anchor="end">-60</text>
<line x1="436.6" y1="294.4" x2="438.8" y2="294.4" stroke="#262626" stroke-width="1"/>
<line x1="654.2" y1="294.4" x2="652" y2="294.4" stroke="#262626" stroke-width="1"/>
<text x="433.3" y="298.3" font-size="10.5" fill="#262626" text-anchor="end">-80</text>
<line x1="464.4" y1="303" x2="464.4" y2="300.8" stroke="#262626" stroke-width="1"/>
<line x1="464.4" y1="224.4" x2="464.4" y2="226.6" stroke="#262626" stroke-width="1"/>
<text x="464.4" y="316.6" font-size="10.5" fill="#262626" text-anchor="middle">2005</text>
<line x1="527.5" y1="303" x2="527.5" y2="300.8" stroke="#262626" stroke-width="1"/>
<line x1="527.5" y1="224.4" x2="527.5" y2="226.6" stroke="#262626" stroke-width="1"/>
<text x="527.5" y="316.6" font-size="10.5" fill="#262626" text-anchor="middle">2010</text>
<line x1="590.6" y1="303" x2="590.6" y2="300.8" stroke="#262626" stroke-width="1"/>
<line x1="590.6" y1="224.4" x2="590.6" y2="226.6" stroke="#262626" stroke-width="1"/>
<text x="590.6" y="316.6" font-size="10.5" fill="#262626" text-anchor="middle">2015</text>
<line x1="653.7" y1="303" x2="653.7" y2="300.8" stroke="#262626" stroke-width="1"/>
<line x1="653.7" y1="224.4" x2="653.7" y2="226.6" stroke="#262626" stroke-width="1"/>
<text x="653.7" y="316.6" font-size="10.5" fill="#262626" text-anchor="middle">2020</text>
<text x="545" y="300.2" font-size="10.3" fill="#f08a8a">2011</text>
<text x="589.5" y="291" font-size="10.3" fill="#6f94dc">p = 0.05</text>
<text x="411.4" y="259.2" font-size="12.6" fill="#262626" text-anchor="middle" transform="rotate(-90 411.4 259.2)">NDVI statistic</text>
<text x="545.6" y="330.2" font-size="12.4" fill="#262626" text-anchor="middle">Year</text>
<text x="412.8" y="222.4" font-size="16" fill="#000" font-weight="bold">d</text>
<rect x="26.7" y="350.5" width="121" height="133" fill="#ffffff" stroke="none" stroke-width="1"/>
<g shape-rendering="crispEdges">
<rect x="66.12" y="366.86" width="5.25" height="6.68" fill="#7ece65"/>
<rect x="71.38" y="366.86" width="5.25" height="6.68" fill="#7ece65"/>
<rect x="76.62" y="366.86" width="5.25" height="6.68" fill="#aee270"/>
<rect x="81.88" y="366.86" width="5.25" height="6.68" fill="#7ece65"/>
<rect x="87.12" y="366.86" width="5.25" height="6.68" fill="#55b55d"/>
<rect x="92.38" y="366.86" width="5.25" height="6.68" fill="#7ece65"/>
<rect x="66.12" y="373.54" width="5.25" height="6.68" fill="#55b55d"/>
<rect x="71.38" y="373.54" width="5.25" height="6.68" fill="#55b55d"/>
<rect x="76.62" y="373.54" width="5.25" height="6.68" fill="#379450"/>
<rect x="81.88" y="373.54" width="5.25" height="6.68" fill="#2d7d47"/>
<rect x="87.12" y="373.54" width="5.25" height="6.68" fill="#2d7d47"/>
<rect x="92.38" y="373.54" width="5.25" height="6.68" fill="#379450"/>
<rect x="97.62" y="373.54" width="5.25" height="6.68" fill="#55b55d"/>
<rect x="55.62" y="380.22" width="5.25" height="6.68" fill="#7ece65"/>
<rect x="60.88" y="380.22" width="5.25" height="6.68" fill="#7ece65"/>
<rect x="66.12" y="380.22" width="5.25" height="6.68" fill="#7ece65"/>
<rect x="71.38" y="380.22" width="5.25" height="6.68" fill="#7ece65"/>
<rect x="76.62" y="380.22" width="5.25" height="6.68" fill="#379450"/>
<rect x="81.88" y="380.22" width="5.25" height="6.68" fill="#55b55d"/>
<rect x="87.12" y="380.22" width="5.25" height="6.68" fill="#55b55d"/>
<rect x="92.38" y="380.22" width="5.25" height="6.68" fill="#55b55d"/>
<rect x="97.62" y="380.22" width="5.25" height="6.68" fill="#55b55d"/>
<rect x="55.62" y="386.9" width="5.25" height="6.68" fill="#7ece65"/>
<rect x="60.88" y="386.9" width="5.25" height="6.68" fill="#7ece65"/>
<rect x="66.12" y="386.9" width="5.25" height="6.68" fill="#7ece65"/>
<rect x="71.38" y="386.9" width="5.25" height="6.68" fill="#aee270"/>
<rect x="76.62" y="386.9" width="5.25" height="6.68" fill="#7ece65"/>
<rect x="81.88" y="386.9" width="5.25" height="6.68" fill="#7ece65"/>
<rect x="87.12" y="386.9" width="5.25" height="6.68" fill="#7ece65"/>
<rect x="92.38" y="386.9" width="5.25" height="6.68" fill="#7ece65"/>
<rect x="97.62" y="386.9" width="5.25" height="6.68" fill="#55b55d"/>
<rect x="102.88" y="386.9" width="5.25" height="6.68" fill="#55b55d"/>
<rect x="60.88" y="393.58" width="5.25" height="6.68" fill="#aee270"/>
<rect x="66.12" y="393.58" width="5.25" height="6.68" fill="#7ece65"/>
<rect x="71.38" y="393.58" width="5.25" height="6.68" fill="#7ece65"/>
<rect x="76.62" y="393.58" width="5.25" height="6.68" fill="#7ece65"/>
<rect x="81.88" y="393.58" width="5.25" height="6.68" fill="#7ece65"/>
<rect x="87.12" y="393.58" width="5.25" height="6.68" fill="#55b55d"/>
<rect x="92.38" y="393.58" width="5.25" height="6.68" fill="#55b55d"/>
<rect x="97.62" y="393.58" width="5.25" height="6.68" fill="#55b55d"/>
<rect x="102.88" y="393.58" width="5.25" height="6.68" fill="#55b55d"/>
<rect x="108.12" y="393.58" width="5.25" height="6.68" fill="#55b55d"/>
<rect x="113.38" y="393.58" width="5.25" height="6.68" fill="#55b55d"/>
<rect x="60.88" y="400.26" width="5.25" height="6.68" fill="#7ece65"/>
<rect x="66.12" y="400.26" width="5.25" height="6.68" fill="#7ece65"/>
<rect x="71.38" y="400.26" width="5.25" height="6.68" fill="#7ece65"/>
<rect x="76.62" y="400.26" width="5.25" height="6.68" fill="#7ece65"/>
<rect x="81.88" y="400.26" width="5.25" height="6.68" fill="#55b55d"/>
<rect x="87.12" y="400.26" width="5.25" height="6.68" fill="#55b55d"/>
<rect x="92.38" y="400.26" width="5.25" height="6.68" fill="#55b55d"/>
<rect x="97.62" y="400.26" width="5.25" height="6.68" fill="#55b55d"/>
<rect x="102.88" y="400.26" width="5.25" height="6.68" fill="#55b55d"/>
<rect x="108.12" y="400.26" width="5.25" height="6.68" fill="#379450"/>
<rect x="113.38" y="400.26" width="5.25" height="6.68" fill="#379450"/>
<rect x="118.62" y="400.26" width="5.25" height="6.68" fill="#2d7d47"/>
<rect x="123.88" y="400.26" width="5.25" height="6.68" fill="#2d7d47"/>
<rect x="129.12" y="400.26" width="5.25" height="6.68" fill="#379450"/>
<rect x="55.62" y="406.94" width="5.25" height="6.68" fill="#7ece65"/>
<rect x="60.88" y="406.94" width="5.25" height="6.68" fill="#55b55d"/>
<rect x="66.12" y="406.94" width="5.25" height="6.68" fill="#55b55d"/>
<rect x="71.38" y="406.94" width="5.25" height="6.68" fill="#55b55d"/>
<rect x="76.62" y="406.94" width="5.25" height="6.68" fill="#55b55d"/>
<rect x="81.88" y="406.94" width="5.25" height="6.68" fill="#55b55d"/>
<rect x="87.12" y="406.94" width="5.25" height="6.68" fill="#55b55d"/>
<rect x="92.38" y="406.94" width="5.25" height="6.68" fill="#379450"/>
<rect x="97.62" y="406.94" width="5.25" height="6.68" fill="#379450"/>
<rect x="102.88" y="406.94" width="5.25" height="6.68" fill="#379450"/>
<rect x="108.12" y="406.94" width="5.25" height="6.68" fill="#379450"/>
<rect x="113.38" y="406.94" width="5.25" height="6.68" fill="#379450"/>
<rect x="118.62" y="406.94" width="5.25" height="6.68" fill="#2d7d47"/>
<rect x="123.88" y="406.94" width="5.25" height="6.68" fill="#2d7d47"/>
<rect x="129.12" y="406.94" width="5.25" height="6.68" fill="#379450"/>
<rect x="134.38" y="406.94" width="5.25" height="6.68" fill="#379450"/>
<rect x="55.62" y="413.62" width="5.25" height="6.68" fill="#55b55d"/>
<rect x="60.88" y="413.62" width="5.25" height="6.68" fill="#379450"/>
<rect x="66.12" y="413.62" width="5.25" height="6.68" fill="#7ece65"/>
<rect x="71.38" y="413.62" width="5.25" height="6.68" fill="#7ece65"/>
<rect x="76.62" y="413.62" width="5.25" height="6.68" fill="#55b55d"/>
<rect x="81.88" y="413.62" width="5.25" height="6.68" fill="#55b55d"/>
<rect x="87.12" y="413.62" width="5.25" height="6.68" fill="#55b55d"/>
<rect x="92.38" y="413.62" width="5.25" height="6.68" fill="#379450"/>
<rect x="97.62" y="413.62" width="5.25" height="6.68" fill="#379450"/>
<rect x="102.88" y="413.62" width="5.25" height="6.68" fill="#379450"/>
<rect x="108.12" y="413.62" width="5.25" height="6.68" fill="#379450"/>
<rect x="113.38" y="413.62" width="5.25" height="6.68" fill="#379450"/>
<rect x="118.62" y="413.62" width="5.25" height="6.68" fill="#379450"/>
<rect x="123.88" y="413.62" width="5.25" height="6.68" fill="#379450"/>
<rect x="129.12" y="413.62" width="5.25" height="6.68" fill="#379450"/>
<rect x="134.38" y="413.62" width="5.25" height="6.68" fill="#379450"/>
<rect x="55.62" y="420.3" width="5.25" height="6.68" fill="#55b55d"/>
<rect x="60.88" y="420.3" width="5.25" height="6.68" fill="#55b55d"/>
<rect x="66.12" y="420.3" width="5.25" height="6.68" fill="#7ece65"/>
<rect x="71.38" y="420.3" width="5.25" height="6.68" fill="#aee270"/>
<rect x="76.62" y="420.3" width="5.25" height="6.68" fill="#7ece65"/>
<rect x="81.88" y="420.3" width="5.25" height="6.68" fill="#55b55d"/>
<rect x="87.12" y="420.3" width="5.25" height="6.68" fill="#55b55d"/>
<rect x="92.38" y="420.3" width="5.25" height="6.68" fill="#55b55d"/>
<rect x="97.62" y="420.3" width="5.25" height="6.68" fill="#379450"/>
<rect x="102.88" y="420.3" width="5.25" height="6.68" fill="#379450"/>
<rect x="108.12" y="420.3" width="5.25" height="6.68" fill="#379450"/>
<rect x="113.38" y="420.3" width="5.25" height="6.68" fill="#379450"/>
<rect x="118.62" y="420.3" width="5.25" height="6.68" fill="#379450"/>
<rect x="123.88" y="420.3" width="5.25" height="6.68" fill="#379450"/>
<rect x="129.12" y="420.3" width="5.25" height="6.68" fill="#379450"/>
<rect x="134.38" y="420.3" width="5.25" height="6.68" fill="#379450"/>
<rect x="139.62" y="420.3" width="5.25" height="6.68" fill="#379450"/>
<rect x="50.38" y="426.98" width="5.25" height="6.68" fill="#55b55d"/>
<rect x="55.62" y="426.98" width="5.25" height="6.68" fill="#55b55d"/>
<rect x="60.88" y="426.98" width="5.25" height="6.68" fill="#55b55d"/>
<rect x="66.12" y="426.98" width="5.25" height="6.68" fill="#7ece65"/>
<rect x="71.38" y="426.98" width="5.25" height="6.68" fill="#7ece65"/>
<rect x="76.62" y="426.98" width="5.25" height="6.68" fill="#7ece65"/>
<rect x="81.88" y="426.98" width="5.25" height="6.68" fill="#55b55d"/>
<rect x="87.12" y="426.98" width="5.25" height="6.68" fill="#55b55d"/>
<rect x="92.38" y="426.98" width="5.25" height="6.68" fill="#379450"/>
<rect x="97.62" y="426.98" width="5.25" height="6.68" fill="#379450"/>
<rect x="102.88" y="426.98" width="5.25" height="6.68" fill="#379450"/>
<rect x="108.12" y="426.98" width="5.25" height="6.68" fill="#2d7d47"/>
<rect x="113.38" y="426.98" width="5.25" height="6.68" fill="#2d7d47"/>
<rect x="118.62" y="426.98" width="5.25" height="6.68" fill="#379450"/>
<rect x="123.88" y="426.98" width="5.25" height="6.68" fill="#379450"/>
<rect x="129.12" y="426.98" width="5.25" height="6.68" fill="#379450"/>
<rect x="134.38" y="426.98" width="5.25" height="6.68" fill="#379450"/>
<rect x="45.12" y="433.66" width="5.25" height="6.68" fill="#aee270"/>
<rect x="50.38" y="433.66" width="5.25" height="6.68" fill="#2d7d47"/>
<rect x="55.62" y="433.66" width="5.25" height="6.68" fill="#55b55d"/>
<rect x="60.88" y="433.66" width="5.25" height="6.68" fill="#55b55d"/>
<rect x="66.12" y="433.66" width="5.25" height="6.68" fill="#55b55d"/>
<rect x="71.38" y="433.66" width="5.25" height="6.68" fill="#55b55d"/>
<rect x="76.62" y="433.66" width="5.25" height="6.68" fill="#55b55d"/>
<rect x="81.88" y="433.66" width="5.25" height="6.68" fill="#55b55d"/>
<rect x="87.12" y="433.66" width="5.25" height="6.68" fill="#55b55d"/>
<rect x="92.38" y="433.66" width="5.25" height="6.68" fill="#379450"/>
<rect x="97.62" y="433.66" width="5.25" height="6.68" fill="#379450"/>
<rect x="102.88" y="433.66" width="5.25" height="6.68" fill="#379450"/>
<rect x="108.12" y="433.66" width="5.25" height="6.68" fill="#2d7d47"/>
<rect x="113.38" y="433.66" width="5.25" height="6.68" fill="#2d7d47"/>
<rect x="118.62" y="433.66" width="5.25" height="6.68" fill="#379450"/>
<rect x="123.88" y="433.66" width="5.25" height="6.68" fill="#379450"/>
<rect x="50.38" y="440.34" width="5.25" height="6.68" fill="#55b55d"/>
<rect x="55.62" y="440.34" width="5.25" height="6.68" fill="#aee270"/>
<rect x="60.88" y="440.34" width="5.25" height="6.68" fill="#55b55d"/>
<rect x="66.12" y="440.34" width="5.25" height="6.68" fill="#55b55d"/>
<rect x="71.38" y="440.34" width="5.25" height="6.68" fill="#55b55d"/>
<rect x="76.62" y="440.34" width="5.25" height="6.68" fill="#55b55d"/>
<rect x="81.88" y="440.34" width="5.25" height="6.68" fill="#7ece65"/>
<rect x="87.12" y="440.34" width="5.25" height="6.68" fill="#7ece65"/>
<rect x="92.38" y="440.34" width="5.25" height="6.68" fill="#379450"/>
<rect x="97.62" y="440.34" width="5.25" height="6.68" fill="#2d7d47"/>
<rect x="102.88" y="440.34" width="5.25" height="6.68" fill="#2d7d47"/>
<rect x="108.12" y="440.34" width="5.25" height="6.68" fill="#2d7d47"/>
<rect x="113.38" y="440.34" width="5.25" height="6.68" fill="#379450"/>
<rect x="118.62" y="440.34" width="5.25" height="6.68" fill="#379450"/>
<rect x="123.88" y="440.34" width="5.25" height="6.68" fill="#379450"/>
<rect x="50.38" y="447.02" width="5.25" height="6.68" fill="#55b55d"/>
<rect x="55.62" y="447.02" width="5.25" height="6.68" fill="#379450"/>
<rect x="60.88" y="447.02" width="5.25" height="6.68" fill="#379450"/>
<rect x="66.12" y="447.02" width="5.25" height="6.68" fill="#379450"/>
<rect x="71.38" y="447.02" width="5.25" height="6.68" fill="#55b55d"/>
<rect x="76.62" y="447.02" width="5.25" height="6.68" fill="#55b55d"/>
<rect x="81.88" y="447.02" width="5.25" height="6.68" fill="#379450"/>
<rect x="87.12" y="447.02" width="5.25" height="6.68" fill="#379450"/>
<rect x="92.38" y="447.02" width="5.25" height="6.68" fill="#379450"/>
<rect x="97.62" y="447.02" width="5.25" height="6.68" fill="#379450"/>
<rect x="102.88" y="447.02" width="5.25" height="6.68" fill="#379450"/>
<rect x="108.12" y="447.02" width="5.25" height="6.68" fill="#379450"/>
<rect x="113.38" y="447.02" width="5.25" height="6.68" fill="#379450"/>
<rect x="55.62" y="453.7" width="5.25" height="6.68" fill="#379450"/>
<rect x="60.88" y="453.7" width="5.25" height="6.68" fill="#55b55d"/>
<rect x="66.12" y="453.7" width="5.25" height="6.68" fill="#55b55d"/>
<rect x="71.38" y="453.7" width="5.25" height="6.68" fill="#55b55d"/>
<rect x="76.62" y="453.7" width="5.25" height="6.68" fill="#55b55d"/>
<rect x="81.88" y="453.7" width="5.25" height="6.68" fill="#55b55d"/>
<rect x="92.38" y="453.7" width="5.25" height="6.68" fill="#379450"/>
<rect x="97.62" y="453.7" width="5.25" height="6.68" fill="#379450"/>
<rect x="102.88" y="453.7" width="5.25" height="6.68" fill="#379450"/>
<rect x="55.62" y="460.38" width="5.25" height="6.68" fill="#379450"/>
<rect x="66.12" y="460.38" width="5.25" height="6.68" fill="#55b55d"/>
<rect x="71.38" y="460.38" width="5.25" height="6.68" fill="#55b55d"/>
<rect x="92.38" y="460.38" width="5.25" height="6.68" fill="#379450"/>
<rect x="71.38" y="467.06" width="5.25" height="6.68" fill="#55b55d"/>
</g>
<rect x="68.05" y="369.4" width="1.4" height="1.6" fill="#111"/>
<rect x="73.3" y="369.4" width="1.4" height="1.6" fill="#111"/>
<rect x="78.55" y="369.4" width="1.4" height="1.6" fill="#111"/>
<rect x="83.8" y="369.4" width="1.4" height="1.6" fill="#111"/>
<rect x="89.05" y="369.4" width="1.4" height="1.6" fill="#111"/>
<rect x="94.3" y="369.4" width="1.4" height="1.6" fill="#111"/>
<rect x="68.05" y="376.08" width="1.4" height="1.6" fill="#111"/>
<rect x="73.3" y="376.08" width="1.4" height="1.6" fill="#111"/>
<rect x="78.55" y="376.08" width="1.4" height="1.6" fill="#111"/>
<rect x="83.8" y="376.08" width="1.4" height="1.6" fill="#111"/>
<rect x="89.05" y="376.08" width="1.4" height="1.6" fill="#111"/>
<rect x="94.3" y="376.08" width="1.4" height="1.6" fill="#111"/>
<rect x="99.55" y="376.08" width="1.4" height="1.6" fill="#111"/>
<rect x="57.55" y="382.76" width="1.4" height="1.6" fill="#111"/>
<rect x="62.8" y="382.76" width="1.4" height="1.6" fill="#111"/>
<rect x="68.05" y="382.76" width="1.4" height="1.6" fill="#111"/>
<rect x="73.3" y="382.76" width="1.4" height="1.6" fill="#111"/>
<rect x="78.55" y="382.76" width="1.4" height="1.6" fill="#111"/>
<rect x="83.8" y="382.76" width="1.4" height="1.6" fill="#111"/>
<rect x="89.05" y="382.76" width="1.4" height="1.6" fill="#111"/>
<rect x="94.3" y="382.76" width="1.4" height="1.6" fill="#111"/>
<rect x="99.55" y="382.76" width="1.4" height="1.6" fill="#111"/>
<rect x="57.55" y="389.44" width="1.4" height="1.6" fill="#111"/>
<rect x="62.8" y="389.44" width="1.4" height="1.6" fill="#111"/>
<rect x="68.05" y="389.44" width="1.4" height="1.6" fill="#111"/>
<rect x="73.3" y="389.44" width="1.4" height="1.6" fill="#111"/>
<rect x="78.55" y="389.44" width="1.4" height="1.6" fill="#111"/>
<rect x="83.8" y="389.44" width="1.4" height="1.6" fill="#111"/>
<rect x="89.05" y="389.44" width="1.4" height="1.6" fill="#111"/>
<rect x="94.3" y="389.44" width="1.4" height="1.6" fill="#111"/>
<rect x="99.55" y="389.44" width="1.4" height="1.6" fill="#111"/>
<rect x="104.8" y="389.44" width="1.4" height="1.6" fill="#111"/>
<rect x="62.8" y="396.12" width="1.4" height="1.6" fill="#111"/>
<rect x="68.05" y="396.12" width="1.4" height="1.6" fill="#111"/>
<rect x="73.3" y="396.12" width="1.4" height="1.6" fill="#111"/>
<rect x="78.55" y="396.12" width="1.4" height="1.6" fill="#111"/>
<rect x="83.8" y="396.12" width="1.4" height="1.6" fill="#111"/>
<rect x="89.05" y="396.12" width="1.4" height="1.6" fill="#111"/>
<rect x="94.3" y="396.12" width="1.4" height="1.6" fill="#111"/>
<rect x="99.55" y="396.12" width="1.4" height="1.6" fill="#111"/>
<rect x="104.8" y="396.12" width="1.4" height="1.6" fill="#111"/>
<rect x="110.05" y="396.12" width="1.4" height="1.6" fill="#111"/>
<rect x="115.3" y="396.12" width="1.4" height="1.6" fill="#111"/>
<rect x="62.8" y="402.8" width="1.4" height="1.6" fill="#111"/>
<rect x="68.05" y="402.8" width="1.4" height="1.6" fill="#111"/>
<rect x="73.3" y="402.8" width="1.4" height="1.6" fill="#111"/>
<rect x="78.55" y="402.8" width="1.4" height="1.6" fill="#111"/>
<rect x="83.8" y="402.8" width="1.4" height="1.6" fill="#111"/>
<rect x="89.05" y="402.8" width="1.4" height="1.6" fill="#111"/>
<rect x="94.3" y="402.8" width="1.4" height="1.6" fill="#111"/>
<rect x="99.55" y="402.8" width="1.4" height="1.6" fill="#111"/>
<rect x="104.8" y="402.8" width="1.4" height="1.6" fill="#111"/>
<rect x="110.05" y="402.8" width="1.4" height="1.6" fill="#111"/>
<rect x="115.3" y="402.8" width="1.4" height="1.6" fill="#111"/>
<rect x="120.55" y="402.8" width="1.4" height="1.6" fill="#111"/>
<rect x="125.8" y="402.8" width="1.4" height="1.6" fill="#111"/>
<rect x="131.05" y="402.8" width="1.4" height="1.6" fill="#111"/>
<rect x="57.55" y="409.48" width="1.4" height="1.6" fill="#111"/>
<rect x="62.8" y="409.48" width="1.4" height="1.6" fill="#111"/>
<rect x="68.05" y="409.48" width="1.4" height="1.6" fill="#111"/>
<rect x="73.3" y="409.48" width="1.4" height="1.6" fill="#111"/>
<rect x="78.55" y="409.48" width="1.4" height="1.6" fill="#111"/>
<rect x="83.8" y="409.48" width="1.4" height="1.6" fill="#111"/>
<rect x="89.05" y="409.48" width="1.4" height="1.6" fill="#111"/>
<rect x="94.3" y="409.48" width="1.4" height="1.6" fill="#111"/>
<rect x="99.55" y="409.48" width="1.4" height="1.6" fill="#111"/>
<rect x="104.8" y="409.48" width="1.4" height="1.6" fill="#111"/>
<rect x="110.05" y="409.48" width="1.4" height="1.6" fill="#111"/>
<rect x="115.3" y="409.48" width="1.4" height="1.6" fill="#111"/>
<rect x="120.55" y="409.48" width="1.4" height="1.6" fill="#111"/>
<rect x="125.8" y="409.48" width="1.4" height="1.6" fill="#111"/>
<rect x="131.05" y="409.48" width="1.4" height="1.6" fill="#111"/>
<rect x="136.3" y="409.48" width="1.4" height="1.6" fill="#111"/>
<rect x="57.55" y="416.16" width="1.4" height="1.6" fill="#111"/>
<rect x="62.8" y="416.16" width="1.4" height="1.6" fill="#111"/>
<rect x="68.05" y="416.16" width="1.4" height="1.6" fill="#111"/>
<rect x="73.3" y="416.16" width="1.4" height="1.6" fill="#111"/>
<rect x="78.55" y="416.16" width="1.4" height="1.6" fill="#111"/>
<rect x="83.8" y="416.16" width="1.4" height="1.6" fill="#111"/>
<rect x="89.05" y="416.16" width="1.4" height="1.6" fill="#111"/>
<rect x="94.3" y="416.16" width="1.4" height="1.6" fill="#111"/>
<rect x="99.55" y="416.16" width="1.4" height="1.6" fill="#111"/>
<rect x="104.8" y="416.16" width="1.4" height="1.6" fill="#111"/>
<rect x="110.05" y="416.16" width="1.4" height="1.6" fill="#111"/>
<rect x="115.3" y="416.16" width="1.4" height="1.6" fill="#111"/>
<rect x="120.55" y="416.16" width="1.4" height="1.6" fill="#111"/>
<rect x="125.8" y="416.16" width="1.4" height="1.6" fill="#111"/>
<rect x="131.05" y="416.16" width="1.4" height="1.6" fill="#111"/>
<rect x="136.3" y="416.16" width="1.4" height="1.6" fill="#111"/>
<rect x="57.55" y="422.84" width="1.4" height="1.6" fill="#111"/>
<rect x="62.8" y="422.84" width="1.4" height="1.6" fill="#111"/>
<rect x="68.05" y="422.84" width="1.4" height="1.6" fill="#111"/>
<rect x="73.3" y="422.84" width="1.4" height="1.6" fill="#111"/>
<rect x="78.55" y="422.84" width="1.4" height="1.6" fill="#111"/>
<rect x="83.8" y="422.84" width="1.4" height="1.6" fill="#111"/>
<rect x="89.05" y="422.84" width="1.4" height="1.6" fill="#111"/>
<rect x="94.3" y="422.84" width="1.4" height="1.6" fill="#111"/>
<rect x="99.55" y="422.84" width="1.4" height="1.6" fill="#111"/>
<rect x="104.8" y="422.84" width="1.4" height="1.6" fill="#111"/>
<rect x="110.05" y="422.84" width="1.4" height="1.6" fill="#111"/>
<rect x="115.3" y="422.84" width="1.4" height="1.6" fill="#111"/>
<rect x="120.55" y="422.84" width="1.4" height="1.6" fill="#111"/>
<rect x="125.8" y="422.84" width="1.4" height="1.6" fill="#111"/>
<rect x="131.05" y="422.84" width="1.4" height="1.6" fill="#111"/>
<rect x="136.3" y="422.84" width="1.4" height="1.6" fill="#111"/>
<rect x="141.55" y="422.84" width="1.4" height="1.6" fill="#111"/>
<rect x="52.3" y="429.52" width="1.4" height="1.6" fill="#111"/>
<rect x="57.55" y="429.52" width="1.4" height="1.6" fill="#111"/>
<rect x="62.8" y="429.52" width="1.4" height="1.6" fill="#111"/>
<rect x="68.05" y="429.52" width="1.4" height="1.6" fill="#111"/>
<rect x="73.3" y="429.52" width="1.4" height="1.6" fill="#111"/>
<rect x="78.55" y="429.52" width="1.4" height="1.6" fill="#111"/>
<rect x="83.8" y="429.52" width="1.4" height="1.6" fill="#111"/>
<rect x="89.05" y="429.52" width="1.4" height="1.6" fill="#111"/>
<rect x="94.3" y="429.52" width="1.4" height="1.6" fill="#111"/>
<rect x="99.55" y="429.52" width="1.4" height="1.6" fill="#111"/>
<rect x="104.8" y="429.52" width="1.4" height="1.6" fill="#111"/>
<rect x="110.05" y="429.52" width="1.4" height="1.6" fill="#111"/>
<rect x="115.3" y="429.52" width="1.4" height="1.6" fill="#111"/>
<rect x="120.55" y="429.52" width="1.4" height="1.6" fill="#111"/>
<rect x="125.8" y="429.52" width="1.4" height="1.6" fill="#111"/>
<rect x="131.05" y="429.52" width="1.4" height="1.6" fill="#111"/>
<rect x="136.3" y="429.52" width="1.4" height="1.6" fill="#111"/>
<rect x="47.05" y="436.2" width="1.4" height="1.6" fill="#111"/>
<rect x="52.3" y="436.2" width="1.4" height="1.6" fill="#111"/>
<rect x="57.55" y="436.2" width="1.4" height="1.6" fill="#111"/>
<rect x="62.8" y="436.2" width="1.4" height="1.6" fill="#111"/>
<rect x="68.05" y="436.2" width="1.4" height="1.6" fill="#111"/>
<rect x="73.3" y="436.2" width="1.4" height="1.6" fill="#111"/>
<rect x="78.55" y="436.2" width="1.4" height="1.6" fill="#111"/>
<rect x="83.8" y="436.2" width="1.4" height="1.6" fill="#111"/>
<rect x="89.05" y="436.2" width="1.4" height="1.6" fill="#111"/>
<rect x="94.3" y="436.2" width="1.4" height="1.6" fill="#111"/>
<rect x="99.55" y="436.2" width="1.4" height="1.6" fill="#111"/>
<rect x="104.8" y="436.2" width="1.4" height="1.6" fill="#111"/>
<rect x="110.05" y="436.2" width="1.4" height="1.6" fill="#111"/>
<rect x="115.3" y="436.2" width="1.4" height="1.6" fill="#111"/>
<rect x="120.55" y="436.2" width="1.4" height="1.6" fill="#111"/>
<rect x="125.8" y="436.2" width="1.4" height="1.6" fill="#111"/>
<rect x="52.3" y="442.88" width="1.4" height="1.6" fill="#111"/>
<rect x="57.55" y="442.88" width="1.4" height="1.6" fill="#111"/>
<rect x="62.8" y="442.88" width="1.4" height="1.6" fill="#111"/>
<rect x="68.05" y="442.88" width="1.4" height="1.6" fill="#111"/>
<rect x="73.3" y="442.88" width="1.4" height="1.6" fill="#111"/>
<rect x="78.55" y="442.88" width="1.4" height="1.6" fill="#111"/>
<rect x="83.8" y="442.88" width="1.4" height="1.6" fill="#111"/>
<rect x="89.05" y="442.88" width="1.4" height="1.6" fill="#111"/>
<rect x="94.3" y="442.88" width="1.4" height="1.6" fill="#111"/>
<rect x="99.55" y="442.88" width="1.4" height="1.6" fill="#111"/>
<rect x="104.8" y="442.88" width="1.4" height="1.6" fill="#111"/>
<rect x="110.05" y="442.88" width="1.4" height="1.6" fill="#111"/>
<rect x="115.3" y="442.88" width="1.4" height="1.6" fill="#111"/>
<rect x="120.55" y="442.88" width="1.4" height="1.6" fill="#111"/>
<rect x="125.8" y="442.88" width="1.4" height="1.6" fill="#111"/>
<rect x="52.3" y="449.56" width="1.4" height="1.6" fill="#111"/>
<rect x="57.55" y="449.56" width="1.4" height="1.6" fill="#111"/>
<rect x="62.8" y="449.56" width="1.4" height="1.6" fill="#111"/>
<rect x="68.05" y="449.56" width="1.4" height="1.6" fill="#111"/>
<rect x="73.3" y="449.56" width="1.4" height="1.6" fill="#111"/>
<rect x="78.55" y="449.56" width="1.4" height="1.6" fill="#111"/>
<rect x="83.8" y="449.56" width="1.4" height="1.6" fill="#111"/>
<rect x="89.05" y="449.56" width="1.4" height="1.6" fill="#111"/>
<rect x="94.3" y="449.56" width="1.4" height="1.6" fill="#111"/>
<rect x="99.55" y="449.56" width="1.4" height="1.6" fill="#111"/>
<rect x="104.8" y="449.56" width="1.4" height="1.6" fill="#111"/>
<rect x="110.05" y="449.56" width="1.4" height="1.6" fill="#111"/>
<rect x="115.3" y="449.56" width="1.4" height="1.6" fill="#111"/>
<rect x="57.55" y="456.24" width="1.4" height="1.6" fill="#111"/>
<rect x="62.8" y="456.24" width="1.4" height="1.6" fill="#111"/>
<rect x="68.05" y="456.24" width="1.4" height="1.6" fill="#111"/>
<rect x="73.3" y="456.24" width="1.4" height="1.6" fill="#111"/>
<rect x="78.55" y="456.24" width="1.4" height="1.6" fill="#111"/>
<rect x="83.8" y="456.24" width="1.4" height="1.6" fill="#111"/>
<rect x="94.3" y="456.24" width="1.4" height="1.6" fill="#111"/>
<rect x="99.55" y="456.24" width="1.4" height="1.6" fill="#111"/>
<rect x="104.8" y="456.24" width="1.4" height="1.6" fill="#111"/>
<rect x="57.55" y="462.92" width="1.4" height="1.6" fill="#111"/>
<rect x="68.05" y="462.92" width="1.4" height="1.6" fill="#111"/>
<rect x="73.3" y="462.92" width="1.4" height="1.6" fill="#111"/>
<rect x="94.3" y="462.92" width="1.4" height="1.6" fill="#111"/>
<rect x="73.3" y="469.6" width="1.4" height="1.6" fill="#111"/>
<polygon points="54.39,388.9 54.75,387.31 54.88,385.69 55.85,384.92 56.68,384.03 57.24,382.92 58.44,382.44 59.22,381.47 59.96,380.48 61.3,379.57 61.99,378.1 62.64,376.61 64.02,375.72 64.2,374.39 64.89,373.13 64.68,371.73 65.8,371.05 66.74,370.13 68.29,369.7 69.43,368.57 70.62,367.56 72.14,367.22 73.52,366.58 74.51,365.73 75.75,365.32 77.05,364.97 78.32,364.54 79.97,364.56 81.62,364.44 83.3,363.81 85.05,364.15 86.58,365.36 87.98,365.58 89.26,366.13 90.34,367.21 91.79,367.31 92.72,368.2 94.12,368.35 95.01,369.3 96.13,370.31 97.74,370.5 98.77,371.66 100.1,372.32 101.44,372.21 102.73,372.35 103.9,373.09 102.62,374.26 102.63,375.65 103.36,376.84 103.49,379.17 105.1,379.46 105.35,380.87 104.35,382.92 104.95,384.09 104.97,385.4 106.52,385.18 108.03,385.54 108.03,386.42 107.54,388.17 105.84,388.7 105.97,390.74 106.29,392.1 107.41,392.93 108.65,392.2 109.77,393.37 110.26,394.24 111.63,394.62 112.99,394.24 114.2,393.75 115.51,393.66 115.86,395.14 117,396.14 118.66,396.66 120.35,397.11 121.78,397.79 123.32,398.13 123.24,396.61 123.74,395.17 125.43,394.34 127.13,395.17 126.26,397.11 127.62,397.73 129.07,397.66 130.52,397.65 130.66,399.02 131.29,400.15 132.21,401.15 132.54,403.24 134.65,403.43 133.5,404.73 132.09,405.72 133.05,406.88 133.78,408.2 135.01,408.97 136.02,409.96 136.76,411.21 137.78,412.53 138,414.18 139.4,415.02 140.56,416.17 142.25,417.63 142.78,419.15 143.49,420.6 143.56,422.46 142.67,424.1 142.28,425.58 142.25,427.11 141.07,428.21 139.69,429.06 139,430.18 137.77,430.84 137.19,432.06 136.34,433.04 135.06,434.55 134.26,433.4 133.78,432.07 132.92,431.09 132.09,430.08 130.79,430.12 129.56,430.56 127.93,431.25 126.18,431.05 124.94,433.04 124.46,434.28 125.41,435.52 124.69,436.76 124.94,438 126.63,439.51 126.48,441.14 127.49,442.63 127.21,444.27 126.13,443.45 124.81,443.16 123.07,442.7 121.42,441.99 120.87,443.1 120.47,444.27 119.53,445.53 118.03,445.98 117.81,447.5 117.05,448.77 116.13,449.96 114.85,450.58 114.42,452.06 113.24,452.78 112.12,453.34 111.04,453.97 110.35,455.07 108.82,455.56 107.87,456.92 106.5,457.64 105.1,458.41 103.57,458.89 102.12,459.54 100.86,460.31 99.97,461.49 99.56,462.76 98.31,463.45 97.78,464.65 96.17,465.96 94.56,465.33 92.37,465.96 91.83,464.01 91.99,462.71 91.92,461.42 90.97,460.23 91.29,458.91 91.15,457.33 90.18,456.09 88.03,457.01 86.95,458.91 86.17,460.46 84.76,461.49 83.77,462.26 82.61,462.75 81.27,462.33 79.89,462.12 78.81,460.22 77.16,460.22 76.08,461.49 74.94,462.16 74.43,463.38 74.88,464.96 75.01,466.59 74.3,468.12 74.43,469.8 73.16,469.75 71.9,469.99 70.63,469.8 69.43,468.96 68.48,467.86 67.43,467.12 66.87,465.96 66.17,464.76 66.29,463.38 64.84,463.73 63.4,463.19 61.95,463.38 60.51,462.73 58.94,463.4 57.44,463.36 56,462.75 54.34,461.49 54.45,460.07 53.66,458.92 53.27,457.64 53.18,456.37 53.01,455.09 53.36,453.82 53.27,452.54 52.82,451.29 51.8,450.43 51.12,449.33 49.98,448.32 48.63,447.51 47.86,446.12 46.73,444.83 45.13,444.23 44.77,442.89 45.34,441.63 45.46,440.34 44.74,438.97 43.52,438.05 43.66,436.47 44.51,435.13 45.36,434.08 46.2,433.02 46.45,431.63 47.96,431.47 49.43,431.05 50.46,430.28 50.75,428.88 51.86,428.18 52.3,426.86 52.53,425.45 53.67,424.4 53.85,422.98 54.37,421.71 55.2,420.62 56.36,419.73 56.93,418.49 57.32,417.14 58.46,416.24 58.75,414.81 59.51,413.67 60.25,412.53 61.27,411.49 61.89,410.18 62.73,409.02 63.02,408.39 62.65,406.79 61.09,406.6 59.63,406.01 59.41,404.69 59.03,403.39 59.26,402.02 58.89,400.65 59.25,399.14 58.97,397.75 58.27,396.43 58.29,395.09 58.05,393.77 57.94,392.45 58.93,390.89 59.63,389.67 58.6,390.45 57.69,391.38 56.58,392.06 55.21,390.89" fill="none" stroke="#0a0a0a" stroke-width="1.05" stroke-linejoin="round"/>
<rect x="26.7" y="350.5" width="121" height="133" fill="none" stroke="#333" stroke-width="0.9"/>
<line x1="39.3" y1="483.5" x2="39.3" y2="481.5" stroke="#333" stroke-width="0.9"/>
<line x1="39.3" y1="350.5" x2="39.3" y2="352.5" stroke="#333" stroke-width="0.9"/>
<text x="39.3" y="496.2" font-size="10.5" fill="#262626" text-anchor="middle">106°E</text>
<line x1="124.2" y1="483.5" x2="124.2" y2="481.5" stroke="#333" stroke-width="0.9"/>
<line x1="124.2" y1="350.5" x2="124.2" y2="352.5" stroke="#333" stroke-width="0.9"/>
<text x="124.2" y="496.2" font-size="10.5" fill="#262626" text-anchor="middle">110°E</text>
<line x1="26.7" y1="387" x2="28.7" y2="387" stroke="#333" stroke-width="0.9"/>
<line x1="147.7" y1="387" x2="145.7" y2="387" stroke="#333" stroke-width="0.9"/>
<text x="22.9" y="387" font-size="10.4" fill="#262626" text-anchor="middle" transform="rotate(-90 22.9 387)">40°N</text>
<line x1="26.7" y1="440" x2="28.7" y2="440" stroke="#333" stroke-width="0.9"/>
<line x1="147.7" y1="440" x2="145.7" y2="440" stroke="#333" stroke-width="0.9"/>
<text x="22.9" y="440" font-size="10.4" fill="#262626" text-anchor="middle" transform="rotate(-90 22.9 440)">38°N</text>
<text x="29.9" y="365.3" font-size="10.6" fill="#1a1a1a">NDVI</text>
<text x="9.6" y="355.5" font-size="16" fill="#000" font-weight="bold">e</text>
<defs><linearGradient id="cbE" x1="0" y1="0" x2="0" y2="1"><stop offset="0" stop-color="#287242"/><stop offset="0.12" stop-color="#379450"/><stop offset="0.2" stop-color="#50b25c"/><stop offset="0.28" stop-color="#78cc64"/><stop offset="0.36" stop-color="#a8e06a"/><stop offset="0.42" stop-color="#d4ee94"/><stop offset="0.48" stop-color="#f3f7c4"/><stop offset="0.55" stop-color="#f5e6a5"/><stop offset="0.62" stop-color="#f0c67e"/><stop offset="0.7" stop-color="#e9965c"/><stop offset="0.78" stop-color="#e06444"/><stop offset="0.88" stop-color="#ce3638"/><stop offset="1" stop-color="#a01830"/></linearGradient></defs>
<rect x="166.8" y="362.2" width="12.4" height="118.5" fill="url(#cbE)" stroke="none" stroke-width="1"/>
<rect x="166.8" y="362.2" width="12.4" height="118.5" fill="none" stroke="#3a3a3a" stroke-width="0.8"/>
<line x1="179.2" y1="390.27" x2="177.4" y2="390.27" stroke="#333" stroke-width="0.8"/>
<text x="184.1" y="394.07" font-size="10.5" fill="#262626">1</text>
<line x1="179.2" y1="421.45" x2="177.4" y2="421.45" stroke="#333" stroke-width="0.8"/>
<text x="184.1" y="425.25" font-size="10.5" fill="#262626">0</text>
<line x1="179.2" y1="452.63" x2="177.4" y2="452.63" stroke="#333" stroke-width="0.8"/>
<text x="184.1" y="456.43" font-size="10.5" fill="#262626">-1</text>
<text x="213" y="414.5" font-size="11.4" fill="#262626" text-anchor="middle" transform="rotate(-90 213 414.5)">Relative trend (%/year)</text>
<rect x="254.8" y="350.5" width="121" height="133" fill="#ffffff" stroke="none" stroke-width="1"/>
<g shape-rendering="crispEdges">
<rect x="294.23" y="366.86" width="5.25" height="6.68" fill="#e2704a"/>
<rect x="299.48" y="366.86" width="5.25" height="6.68" fill="#e9965c"/>
<rect x="304.73" y="366.86" width="5.25" height="6.68" fill="#e9965c"/>
<rect x="309.98" y="366.86" width="5.25" height="6.68" fill="#e2704a"/>
<rect x="315.23" y="366.86" width="5.25" height="6.68" fill="#e2704a"/>
<rect x="320.48" y="366.86" width="5.25" height="6.68" fill="#d74d3e"/>
<rect x="294.23" y="373.54" width="5.25" height="6.68" fill="#eeba76"/>
<rect x="299.48" y="373.54" width="5.25" height="6.68" fill="#eeba76"/>
<rect x="304.73" y="373.54" width="5.25" height="6.68" fill="#eeba76"/>
<rect x="309.98" y="373.54" width="5.25" height="6.68" fill="#e9965c"/>
<rect x="315.23" y="373.54" width="5.25" height="6.68" fill="#e2704a"/>
<rect x="320.48" y="373.54" width="5.25" height="6.68" fill="#d74d3e"/>
<rect x="325.73" y="373.54" width="5.25" height="6.68" fill="#d74d3e"/>
<rect x="283.73" y="380.22" width="5.25" height="6.68" fill="#f2d48f"/>
<rect x="288.98" y="380.22" width="5.25" height="6.68" fill="#f2d48f"/>
<rect x="294.23" y="380.22" width="5.25" height="6.68" fill="#f2d48f"/>
<rect x="299.48" y="380.22" width="5.25" height="6.68" fill="#eeba76"/>
<rect x="304.73" y="380.22" width="5.25" height="6.68" fill="#eeba76"/>
<rect x="309.98" y="380.22" width="5.25" height="6.68" fill="#e9965c"/>
<rect x="315.23" y="380.22" width="5.25" height="6.68" fill="#e2704a"/>
<rect x="320.48" y="380.22" width="5.25" height="6.68" fill="#d74d3e"/>
<rect x="325.73" y="380.22" width="5.25" height="6.68" fill="#d74d3e"/>
<rect x="283.73" y="386.9" width="5.25" height="6.68" fill="#f2d48f"/>
<rect x="288.98" y="386.9" width="5.25" height="6.68" fill="#f2d48f"/>
<rect x="294.23" y="386.9" width="5.25" height="6.68" fill="#eeba76"/>
<rect x="299.48" y="386.9" width="5.25" height="6.68" fill="#eeba76"/>
<rect x="304.73" y="386.9" width="5.25" height="6.68" fill="#e9965c"/>
<rect x="309.98" y="386.9" width="5.25" height="6.68" fill="#e9965c"/>
<rect x="315.23" y="386.9" width="5.25" height="6.68" fill="#e2704a"/>
<rect x="320.48" y="386.9" width="5.25" height="6.68" fill="#d74d3e"/>
<rect x="325.73" y="386.9" width="5.25" height="6.68" fill="#c63137"/>
<rect x="330.98" y="386.9" width="5.25" height="6.68" fill="#c63137"/>
<rect x="288.98" y="393.58" width="5.25" height="6.68" fill="#eeba76"/>
<rect x="294.23" y="393.58" width="5.25" height="6.68" fill="#eeba76"/>
<rect x="299.48" y="393.58" width="5.25" height="6.68" fill="#e9965c"/>
<rect x="304.73" y="393.58" width="5.25" height="6.68" fill="#e9965c"/>
<rect x="309.98" y="393.58" width="5.25" height="6.68" fill="#e2704a"/>
<rect x="315.23" y="393.58" width="5.25" height="6.68" fill="#e2704a"/>
<rect x="320.48" y="393.58" width="5.25" height="6.68" fill="#d74d3e"/>
<rect x="325.73" y="393.58" width="5.25" height="6.68" fill="#c63137"/>
<rect x="330.98" y="393.58" width="5.25" height="6.68" fill="#c63137"/>
<rect x="336.23" y="393.58" width="5.25" height="6.68" fill="#c63137"/>
<rect x="341.48" y="393.58" width="5.25" height="6.68" fill="#c63137"/>
<rect x="288.98" y="400.26" width="5.25" height="6.68" fill="#eeba76"/>
<rect x="294.23" y="400.26" width="5.25" height="6.68" fill="#e9965c"/>
<rect x="299.48" y="400.26" width="5.25" height="6.68" fill="#e9965c"/>
<rect x="304.73" y="400.26" width="5.25" height="6.68" fill="#e9965c"/>
<rect x="309.98" y="400.26" width="5.25" height="6.68" fill="#e2704a"/>
<rect x="315.23" y="400.26" width="5.25" height="6.68" fill="#d74d3e"/>
<rect x="320.48" y="400.26" width="5.25" height="6.68" fill="#d74d3e"/>
<rect x="325.73" y="400.26" width="5.25" height="6.68" fill="#c63137"/>
<rect x="330.98" y="400.26" width="5.25" height="6.68" fill="#c63137"/>
<rect x="336.23" y="400.26" width="5.25" height="6.68" fill="#aa1e32"/>
<rect x="341.48" y="400.26" width="5.25" height="6.68" fill="#aa1e32"/>
<rect x="346.73" y="400.26" width="5.25" height="6.68" fill="#aa1e32"/>
<rect x="351.98" y="400.26" width="5.25" height="6.68" fill="#aa1e32"/>
<rect x="357.23" y="400.26" width="5.25" height="6.68" fill="#aa1e32"/>
<rect x="283.73" y="406.94" width="5.25" height="6.68" fill="#f2d48f"/>
<rect x="288.98" y="406.94" width="5.25" height="6.68" fill="#eeba76"/>
<rect x="294.23" y="406.94" width="5.25" height="6.68" fill="#eeba76"/>
<rect x="299.48" y="406.94" width="5.25" height="6.68" fill="#e9965c"/>
<rect x="304.73" y="406.94" width="5.25" height="6.68" fill="#e9965c"/>
<rect x="309.98" y="406.94" width="5.25" height="6.68" fill="#e2704a"/>
<rect x="315.23" y="406.94" width="5.25" height="6.68" fill="#d74d3e"/>
<rect x="320.48" y="406.94" width="5.25" height="6.68" fill="#d74d3e"/>
<rect x="325.73" y="406.94" width="5.25" height="6.68" fill="#c63137"/>
<rect x="330.98" y="406.94" width="5.25" height="6.68" fill="#aa1e32"/>
<rect x="336.23" y="406.94" width="5.25" height="6.68" fill="#aa1e32"/>
<rect x="341.48" y="406.94" width="5.25" height="6.68" fill="#aa1e32"/>
<rect x="346.73" y="406.94" width="5.25" height="6.68" fill="#aa1e32"/>
<rect x="351.98" y="406.94" width="5.25" height="6.68" fill="#aa1e32"/>
<rect x="357.23" y="406.94" width="5.25" height="6.68" fill="#aa1e32"/>
<rect x="362.48" y="406.94" width="5.25" height="6.68" fill="#aa1e32"/>
<rect x="283.73" y="413.62" width="5.25" height="6.68" fill="#eeba76"/>
<rect x="288.98" y="413.62" width="5.25" height="6.68" fill="#eeba76"/>
<rect x="294.23" y="413.62" width="5.25" height="6.68" fill="#eeba76"/>
<rect x="299.48" y="413.62" width="5.25" height="6.68" fill="#e9965c"/>
<rect x="304.73" y="413.62" width="5.25" height="6.68" fill="#e2704a"/>
<rect x="309.98" y="413.62" width="5.25" height="6.68" fill="#e2704a"/>
<rect x="315.23" y="413.62" width="5.25" height="6.68" fill="#d74d3e"/>
<rect x="320.48" y="413.62" width="5.25" height="6.68" fill="#c63137"/>
<rect x="325.73" y="413.62" width="5.25" height="6.68" fill="#aa1e32"/>
<rect x="330.98" y="413.62" width="5.25" height="6.68" fill="#aa1e32"/>
<rect x="336.23" y="413.62" width="5.25" height="6.68" fill="#aa1e32"/>
<rect x="341.48" y="413.62" width="5.25" height="6.68" fill="#aa1e32"/>
<rect x="346.73" y="413.62" width="5.25" height="6.68" fill="#aa1e32"/>
<rect x="351.98" y="413.62" width="5.25" height="6.68" fill="#aa1e32"/>
<rect x="357.23" y="413.62" width="5.25" height="6.68" fill="#aa1e32"/>
<rect x="362.48" y="413.62" width="5.25" height="6.68" fill="#aa1e32"/>
<rect x="283.73" y="420.3" width="5.25" height="6.68" fill="#eeba76"/>
<rect x="288.98" y="420.3" width="5.25" height="6.68" fill="#eeba76"/>
<rect x="294.23" y="420.3" width="5.25" height="6.68" fill="#e9965c"/>
<rect x="299.48" y="420.3" width="5.25" height="6.68" fill="#e9965c"/>
<rect x="304.73" y="420.3" width="5.25" height="6.68" fill="#e2704a"/>
<rect x="309.98" y="420.3" width="5.25" height="6.68" fill="#e2704a"/>
<rect x="315.23" y="420.3" width="5.25" height="6.68" fill="#d74d3e"/>
<rect x="320.48" y="420.3" width="5.25" height="6.68" fill="#c63137"/>
<rect x="325.73" y="420.3" width="5.25" height="6.68" fill="#aa1e32"/>
<rect x="330.98" y="420.3" width="5.25" height="6.68" fill="#aa1e32"/>
<rect x="336.23" y="420.3" width="5.25" height="6.68" fill="#aa1e32"/>
<rect x="341.48" y="420.3" width="5.25" height="6.68" fill="#aa1e32"/>
<rect x="346.73" y="420.3" width="5.25" height="6.68" fill="#aa1e32"/>
<rect x="351.98" y="420.3" width="5.25" height="6.68" fill="#aa1e32"/>
<rect x="357.23" y="420.3" width="5.25" height="6.68" fill="#aa1e32"/>
<rect x="362.48" y="420.3" width="5.25" height="6.68" fill="#aa1e32"/>
<rect x="367.73" y="420.3" width="5.25" height="6.68" fill="#aa1e32"/>
<rect x="278.48" y="426.98" width="5.25" height="6.68" fill="#f2d48f"/>
<rect x="283.73" y="426.98" width="5.25" height="6.68" fill="#eeba76"/>
<rect x="288.98" y="426.98" width="5.25" height="6.68" fill="#eeba76"/>
<rect x="294.23" y="426.98" width="5.25" height="6.68" fill="#e9965c"/>
<rect x="299.48" y="426.98" width="5.25" height="6.68" fill="#e2704a"/>
<rect x="304.73" y="426.98" width="5.25" height="6.68" fill="#e2704a"/>
<rect x="309.98" y="426.98" width="5.25" height="6.68" fill="#d74d3e"/>
<rect x="315.23" y="426.98" width="5.25" height="6.68" fill="#d74d3e"/>
<rect x="320.48" y="426.98" width="5.25" height="6.68" fill="#c63137"/>
<rect x="325.73" y="426.98" width="5.25" height="6.68" fill="#aa1e32"/>
<rect x="330.98" y="426.98" width="5.25" height="6.68" fill="#aa1e32"/>
<rect x="336.23" y="426.98" width="5.25" height="6.68" fill="#aa1e32"/>
<rect x="341.48" y="426.98" width="5.25" height="6.68" fill="#aa1e32"/>
<rect x="346.73" y="426.98" width="5.25" height="6.68" fill="#aa1e32"/>
<rect x="351.98" y="426.98" width="5.25" height="6.68" fill="#aa1e32"/>
<rect x="357.23" y="426.98" width="5.25" height="6.68" fill="#aa1e32"/>
<rect x="362.48" y="426.98" width="5.25" height="6.68" fill="#aa1e32"/>
<rect x="273.23" y="433.66" width="5.25" height="6.68" fill="#f2d48f"/>
<rect x="278.48" y="433.66" width="5.25" height="6.68" fill="#f2d48f"/>
<rect x="283.73" y="433.66" width="5.25" height="6.68" fill="#eeba76"/>
<rect x="288.98" y="433.66" width="5.25" height="6.68" fill="#eeba76"/>
<rect x="294.23" y="433.66" width="5.25" height="6.68" fill="#e9965c"/>
<rect x="299.48" y="433.66" width="5.25" height="6.68" fill="#e2704a"/>
<rect x="304.73" y="433.66" width="5.25" height="6.68" fill="#e2704a"/>
<rect x="309.98" y="433.66" width="5.25" height="6.68" fill="#d74d3e"/>
<rect x="315.23" y="433.66" width="5.25" height="6.68" fill="#c63137"/>
<rect x="320.48" y="433.66" width="5.25" height="6.68" fill="#aa1e32"/>
<rect x="325.73" y="433.66" width="5.25" height="6.68" fill="#aa1e32"/>
<rect x="330.98" y="433.66" width="5.25" height="6.68" fill="#aa1e32"/>
<rect x="336.23" y="433.66" width="5.25" height="6.68" fill="#aa1e32"/>
<rect x="341.48" y="433.66" width="5.25" height="6.68" fill="#aa1e32"/>
<rect x="346.73" y="433.66" width="5.25" height="6.68" fill="#aa1e32"/>
<rect x="351.98" y="433.66" width="5.25" height="6.68" fill="#aa1e32"/>
<rect x="278.48" y="440.34" width="5.25" height="6.68" fill="#e2704a"/>
<rect x="283.73" y="440.34" width="5.25" height="6.68" fill="#e2704a"/>
<rect x="288.98" y="440.34" width="5.25" height="6.68" fill="#e2704a"/>
<rect x="294.23" y="440.34" width="5.25" height="6.68" fill="#e2704a"/>
<rect x="299.48" y="440.34" width="5.25" height="6.68" fill="#e2704a"/>
<rect x="304.73" y="440.34" width="5.25" height="6.68" fill="#d74d3e"/>
<rect x="309.98" y="440.34" width="5.25" height="6.68" fill="#aa1e32"/>
<rect x="315.23" y="440.34" width="5.25" height="6.68" fill="#aa1e32"/>
<rect x="320.48" y="440.34" width="5.25" height="6.68" fill="#aa1e32"/>
<rect x="325.73" y="440.34" width="5.25" height="6.68" fill="#aa1e32"/>
<rect x="330.98" y="440.34" width="5.25" height="6.68" fill="#aa1e32"/>
<rect x="336.23" y="440.34" width="5.25" height="6.68" fill="#aa1e32"/>
<rect x="341.48" y="440.34" width="5.25" height="6.68" fill="#aa1e32"/>
<rect x="346.73" y="440.34" width="5.25" height="6.68" fill="#aa1e32"/>
<rect x="351.98" y="440.34" width="5.25" height="6.68" fill="#aa1e32"/>
<rect x="278.48" y="447.02" width="5.25" height="6.68" fill="#e2704a"/>
<rect x="283.73" y="447.02" width="5.25" height="6.68" fill="#e9965c"/>
<rect x="288.98" y="447.02" width="5.25" height="6.68" fill="#e9965c"/>
<rect x="294.23" y="447.02" width="5.25" height="6.68" fill="#e9965c"/>
<rect x="299.48" y="447.02" width="5.25" height="6.68" fill="#e9965c"/>
<rect x="304.73" y="447.02" width="5.25" height="6.68" fill="#d74d3e"/>
<rect x="309.98" y="447.02" width="5.25" height="6.68" fill="#aa1e32"/>
<rect x="315.23" y="447.02" width="5.25" height="6.68" fill="#aa1e32"/>
<rect x="320.48" y="447.02" width="5.25" height="6.68" fill="#aa1e32"/>
<rect x="325.73" y="447.02" width="5.25" height="6.68" fill="#aa1e32"/>
<rect x="330.98" y="447.02" width="5.25" height="6.68" fill="#aa1e32"/>
<rect x="336.23" y="447.02" width="5.25" height="6.68" fill="#aa1e32"/>
<rect x="341.48" y="447.02" width="5.25" height="6.68" fill="#aa1e32"/>
<rect x="283.73" y="453.7" width="5.25" height="6.68" fill="#f2d48f"/>
<rect x="288.98" y="453.7" width="5.25" height="6.68" fill="#eeba76"/>
<rect x="294.23" y="453.7" width="5.25" height="6.68" fill="#eeba76"/>
<rect x="299.48" y="453.7" width="5.25" height="6.68" fill="#e9965c"/>
<rect x="304.73" y="453.7" width="5.25" height="6.68" fill="#e2704a"/>
<rect x="309.98" y="453.7" width="5.25" height="6.68" fill="#d74d3e"/>
<rect x="320.48" y="453.7" width="5.25" height="6.68" fill="#c63137"/>
<rect x="325.73" y="453.7" width="5.25" height="6.68" fill="#c63137"/>
<rect x="330.98" y="453.7" width="5.25" height="6.68" fill="#c63137"/>
<rect x="283.73" y="460.38" width="5.25" height="6.68" fill="#f2d48f"/>
<rect x="294.23" y="460.38" width="5.25" height="6.68" fill="#eeba76"/>
<rect x="299.48" y="460.38" width="5.25" height="6.68" fill="#e2704a"/>
<rect x="320.48" y="460.38" width="5.25" height="6.68" fill="#c63137"/>
<rect x="299.48" y="467.06" width="5.25" height="6.68" fill="#d74d3e"/>
</g>
<rect x="296.15" y="369.4" width="1.4" height="1.6" fill="#111"/>
<rect x="301.4" y="369.4" width="1.4" height="1.6" fill="#111"/>
<rect x="306.65" y="369.4" width="1.4" height="1.6" fill="#111"/>
<rect x="311.9" y="369.4" width="1.4" height="1.6" fill="#111"/>
<rect x="317.15" y="369.4" width="1.4" height="1.6" fill="#111"/>
<rect x="322.4" y="369.4" width="1.4" height="1.6" fill="#111"/>
<rect x="296.15" y="376.08" width="1.4" height="1.6" fill="#111"/>
<rect x="301.4" y="376.08" width="1.4" height="1.6" fill="#111"/>
<rect x="306.65" y="376.08" width="1.4" height="1.6" fill="#111"/>
<rect x="311.9" y="376.08" width="1.4" height="1.6" fill="#111"/>
<rect x="317.15" y="376.08" width="1.4" height="1.6" fill="#111"/>
<rect x="322.4" y="376.08" width="1.4" height="1.6" fill="#111"/>
<rect x="327.65" y="376.08" width="1.4" height="1.6" fill="#111"/>
<rect x="285.65" y="382.76" width="1.4" height="1.6" fill="#111"/>
<rect x="290.9" y="382.76" width="1.4" height="1.6" fill="#111"/>
<rect x="296.15" y="382.76" width="1.4" height="1.6" fill="#111"/>
<rect x="301.4" y="382.76" width="1.4" height="1.6" fill="#111"/>
<rect x="306.65" y="382.76" width="1.4" height="1.6" fill="#111"/>
<rect x="311.9" y="382.76" width="1.4" height="1.6" fill="#111"/>
<rect x="317.15" y="382.76" width="1.4" height="1.6" fill="#111"/>
<rect x="322.4" y="382.76" width="1.4" height="1.6" fill="#111"/>
<rect x="327.65" y="382.76" width="1.4" height="1.6" fill="#111"/>
<rect x="285.65" y="389.44" width="1.4" height="1.6" fill="#111"/>
<rect x="290.9" y="389.44" width="1.4" height="1.6" fill="#111"/>
<rect x="296.15" y="389.44" width="1.4" height="1.6" fill="#111"/>
<rect x="301.4" y="389.44" width="1.4" height="1.6" fill="#111"/>
<rect x="306.65" y="389.44" width="1.4" height="1.6" fill="#111"/>
<rect x="311.9" y="389.44" width="1.4" height="1.6" fill="#111"/>
<rect x="317.15" y="389.44" width="1.4" height="1.6" fill="#111"/>
<rect x="322.4" y="389.44" width="1.4" height="1.6" fill="#111"/>
<rect x="327.65" y="389.44" width="1.4" height="1.6" fill="#111"/>
<rect x="332.9" y="389.44" width="1.4" height="1.6" fill="#111"/>
<rect x="290.9" y="396.12" width="1.4" height="1.6" fill="#111"/>
<rect x="296.15" y="396.12" width="1.4" height="1.6" fill="#111"/>
<rect x="301.4" y="396.12" width="1.4" height="1.6" fill="#111"/>
<rect x="306.65" y="396.12" width="1.4" height="1.6" fill="#111"/>
<rect x="311.9" y="396.12" width="1.4" height="1.6" fill="#111"/>
<rect x="317.15" y="396.12" width="1.4" height="1.6" fill="#111"/>
<rect x="322.4" y="396.12" width="1.4" height="1.6" fill="#111"/>
<rect x="327.65" y="396.12" width="1.4" height="1.6" fill="#111"/>
<rect x="332.9" y="396.12" width="1.4" height="1.6" fill="#111"/>
<rect x="338.15" y="396.12" width="1.4" height="1.6" fill="#111"/>
<rect x="343.4" y="396.12" width="1.4" height="1.6" fill="#111"/>
<rect x="290.9" y="402.8" width="1.4" height="1.6" fill="#111"/>
<rect x="296.15" y="402.8" width="1.4" height="1.6" fill="#111"/>
<rect x="301.4" y="402.8" width="1.4" height="1.6" fill="#111"/>
<rect x="306.65" y="402.8" width="1.4" height="1.6" fill="#111"/>
<rect x="311.9" y="402.8" width="1.4" height="1.6" fill="#111"/>
<rect x="317.15" y="402.8" width="1.4" height="1.6" fill="#111"/>
<rect x="322.4" y="402.8" width="1.4" height="1.6" fill="#111"/>
<rect x="327.65" y="402.8" width="1.4" height="1.6" fill="#111"/>
<rect x="332.9" y="402.8" width="1.4" height="1.6" fill="#111"/>
<rect x="338.15" y="402.8" width="1.4" height="1.6" fill="#111"/>
<rect x="343.4" y="402.8" width="1.4" height="1.6" fill="#111"/>
<rect x="348.65" y="402.8" width="1.4" height="1.6" fill="#111"/>
<rect x="353.9" y="402.8" width="1.4" height="1.6" fill="#111"/>
<rect x="359.15" y="402.8" width="1.4" height="1.6" fill="#111"/>
<rect x="285.65" y="409.48" width="1.4" height="1.6" fill="#111"/>
<rect x="290.9" y="409.48" width="1.4" height="1.6" fill="#111"/>
<rect x="296.15" y="409.48" width="1.4" height="1.6" fill="#111"/>
<rect x="301.4" y="409.48" width="1.4" height="1.6" fill="#111"/>
<rect x="306.65" y="409.48" width="1.4" height="1.6" fill="#111"/>
<rect x="311.9" y="409.48" width="1.4" height="1.6" fill="#111"/>
<rect x="317.15" y="409.48" width="1.4" height="1.6" fill="#111"/>
<rect x="322.4" y="409.48" width="1.4" height="1.6" fill="#111"/>
<rect x="327.65" y="409.48" width="1.4" height="1.6" fill="#111"/>
<rect x="332.9" y="409.48" width="1.4" height="1.6" fill="#111"/>
<rect x="338.15" y="409.48" width="1.4" height="1.6" fill="#111"/>
<rect x="343.4" y="409.48" width="1.4" height="1.6" fill="#111"/>
<rect x="348.65" y="409.48" width="1.4" height="1.6" fill="#111"/>
<rect x="353.9" y="409.48" width="1.4" height="1.6" fill="#111"/>
<rect x="359.15" y="409.48" width="1.4" height="1.6" fill="#111"/>
<rect x="364.4" y="409.48" width="1.4" height="1.6" fill="#111"/>
<rect x="285.65" y="416.16" width="1.4" height="1.6" fill="#111"/>
<rect x="290.9" y="416.16" width="1.4" height="1.6" fill="#111"/>
<rect x="296.15" y="416.16" width="1.4" height="1.6" fill="#111"/>
<rect x="301.4" y="416.16" width="1.4" height="1.6" fill="#111"/>
<rect x="306.65" y="416.16" width="1.4" height="1.6" fill="#111"/>
<rect x="311.9" y="416.16" width="1.4" height="1.6" fill="#111"/>
<rect x="317.15" y="416.16" width="1.4" height="1.6" fill="#111"/>
<rect x="322.4" y="416.16" width="1.4" height="1.6" fill="#111"/>
<rect x="327.65" y="416.16" width="1.4" height="1.6" fill="#111"/>
<rect x="332.9" y="416.16" width="1.4" height="1.6" fill="#111"/>
<rect x="338.15" y="416.16" width="1.4" height="1.6" fill="#111"/>
<rect x="343.4" y="416.16" width="1.4" height="1.6" fill="#111"/>
<rect x="348.65" y="416.16" width="1.4" height="1.6" fill="#111"/>
<rect x="353.9" y="416.16" width="1.4" height="1.6" fill="#111"/>
<rect x="359.15" y="416.16" width="1.4" height="1.6" fill="#111"/>
<rect x="364.4" y="416.16" width="1.4" height="1.6" fill="#111"/>
<rect x="285.65" y="422.84" width="1.4" height="1.6" fill="#111"/>
<rect x="290.9" y="422.84" width="1.4" height="1.6" fill="#111"/>
<rect x="296.15" y="422.84" width="1.4" height="1.6" fill="#111"/>
<rect x="301.4" y="422.84" width="1.4" height="1.6" fill="#111"/>
<rect x="306.65" y="422.84" width="1.4" height="1.6" fill="#111"/>
<rect x="311.9" y="422.84" width="1.4" height="1.6" fill="#111"/>
<rect x="317.15" y="422.84" width="1.4" height="1.6" fill="#111"/>
<rect x="322.4" y="422.84" width="1.4" height="1.6" fill="#111"/>
<rect x="327.65" y="422.84" width="1.4" height="1.6" fill="#111"/>
<rect x="332.9" y="422.84" width="1.4" height="1.6" fill="#111"/>
<rect x="338.15" y="422.84" width="1.4" height="1.6" fill="#111"/>
<rect x="343.4" y="422.84" width="1.4" height="1.6" fill="#111"/>
<rect x="348.65" y="422.84" width="1.4" height="1.6" fill="#111"/>
<rect x="353.9" y="422.84" width="1.4" height="1.6" fill="#111"/>
<rect x="359.15" y="422.84" width="1.4" height="1.6" fill="#111"/>
<rect x="364.4" y="422.84" width="1.4" height="1.6" fill="#111"/>
<rect x="369.65" y="422.84" width="1.4" height="1.6" fill="#111"/>
<rect x="280.4" y="429.52" width="1.4" height="1.6" fill="#111"/>
<rect x="285.65" y="429.52" width="1.4" height="1.6" fill="#111"/>
<rect x="290.9" y="429.52" width="1.4" height="1.6" fill="#111"/>
<rect x="296.15" y="429.52" width="1.4" height="1.6" fill="#111"/>
<rect x="301.4" y="429.52" width="1.4" height="1.6" fill="#111"/>
<rect x="306.65" y="429.52" width="1.4" height="1.6" fill="#111"/>
<rect x="311.9" y="429.52" width="1.4" height="1.6" fill="#111"/>
<rect x="317.15" y="429.52" width="1.4" height="1.6" fill="#111"/>
<rect x="322.4" y="429.52" width="1.4" height="1.6" fill="#111"/>
<rect x="327.65" y="429.52" width="1.4" height="1.6" fill="#111"/>
<rect x="332.9" y="429.52" width="1.4" height="1.6" fill="#111"/>
<rect x="338.15" y="429.52" width="1.4" height="1.6" fill="#111"/>
<rect x="343.4" y="429.52" width="1.4" height="1.6" fill="#111"/>
<rect x="348.65" y="429.52" width="1.4" height="1.6" fill="#111"/>
<rect x="353.9" y="429.52" width="1.4" height="1.6" fill="#111"/>
<rect x="359.15" y="429.52" width="1.4" height="1.6" fill="#111"/>
<rect x="364.4" y="429.52" width="1.4" height="1.6" fill="#111"/>
<rect x="275.15" y="436.2" width="1.4" height="1.6" fill="#111"/>
<rect x="280.4" y="436.2" width="1.4" height="1.6" fill="#111"/>
<rect x="285.65" y="436.2" width="1.4" height="1.6" fill="#111"/>
<rect x="290.9" y="436.2" width="1.4" height="1.6" fill="#111"/>
<rect x="296.15" y="436.2" width="1.4" height="1.6" fill="#111"/>
<rect x="301.4" y="436.2" width="1.4" height="1.6" fill="#111"/>
<rect x="306.65" y="436.2" width="1.4" height="1.6" fill="#111"/>
<rect x="311.9" y="436.2" width="1.4" height="1.6" fill="#111"/>
<rect x="317.15" y="436.2" width="1.4" height="1.6" fill="#111"/>
<rect x="322.4" y="436.2" width="1.4" height="1.6" fill="#111"/>
<rect x="327.65" y="436.2" width="1.4" height="1.6" fill="#111"/>
<rect x="332.9" y="436.2" width="1.4" height="1.6" fill="#111"/>
<rect x="338.15" y="436.2" width="1.4" height="1.6" fill="#111"/>
<rect x="343.4" y="436.2" width="1.4" height="1.6" fill="#111"/>
<rect x="348.65" y="436.2" width="1.4" height="1.6" fill="#111"/>
<rect x="353.9" y="436.2" width="1.4" height="1.6" fill="#111"/>
<rect x="280.4" y="442.88" width="1.4" height="1.6" fill="#111"/>
<rect x="285.65" y="442.88" width="1.4" height="1.6" fill="#111"/>
<rect x="290.9" y="442.88" width="1.4" height="1.6" fill="#111"/>
<rect x="296.15" y="442.88" width="1.4" height="1.6" fill="#111"/>
<rect x="301.4" y="442.88" width="1.4" height="1.6" fill="#111"/>
<rect x="306.65" y="442.88" width="1.4" height="1.6" fill="#111"/>
<rect x="311.9" y="442.88" width="1.4" height="1.6" fill="#111"/>
<rect x="317.15" y="442.88" width="1.4" height="1.6" fill="#111"/>
<rect x="322.4" y="442.88" width="1.4" height="1.6" fill="#111"/>
<rect x="327.65" y="442.88" width="1.4" height="1.6" fill="#111"/>
<rect x="332.9" y="442.88" width="1.4" height="1.6" fill="#111"/>
<rect x="338.15" y="442.88" width="1.4" height="1.6" fill="#111"/>
<rect x="343.4" y="442.88" width="1.4" height="1.6" fill="#111"/>
<rect x="348.65" y="442.88" width="1.4" height="1.6" fill="#111"/>
<rect x="353.9" y="442.88" width="1.4" height="1.6" fill="#111"/>
<rect x="280.4" y="449.56" width="1.4" height="1.6" fill="#111"/>
<rect x="285.65" y="449.56" width="1.4" height="1.6" fill="#111"/>
<rect x="290.9" y="449.56" width="1.4" height="1.6" fill="#111"/>
<rect x="296.15" y="449.56" width="1.4" height="1.6" fill="#111"/>
<rect x="301.4" y="449.56" width="1.4" height="1.6" fill="#111"/>
<rect x="306.65" y="449.56" width="1.4" height="1.6" fill="#111"/>
<rect x="311.9" y="449.56" width="1.4" height="1.6" fill="#111"/>
<rect x="317.15" y="449.56" width="1.4" height="1.6" fill="#111"/>
<rect x="322.4" y="449.56" width="1.4" height="1.6" fill="#111"/>
<rect x="327.65" y="449.56" width="1.4" height="1.6" fill="#111"/>
<rect x="332.9" y="449.56" width="1.4" height="1.6" fill="#111"/>
<rect x="338.15" y="449.56" width="1.4" height="1.6" fill="#111"/>
<rect x="343.4" y="449.56" width="1.4" height="1.6" fill="#111"/>
<rect x="285.65" y="456.24" width="1.4" height="1.6" fill="#111"/>
<rect x="290.9" y="456.24" width="1.4" height="1.6" fill="#111"/>
<rect x="296.15" y="456.24" width="1.4" height="1.6" fill="#111"/>
<rect x="301.4" y="456.24" width="1.4" height="1.6" fill="#111"/>
<rect x="306.65" y="456.24" width="1.4" height="1.6" fill="#111"/>
<rect x="311.9" y="456.24" width="1.4" height="1.6" fill="#111"/>
<rect x="322.4" y="456.24" width="1.4" height="1.6" fill="#111"/>
<rect x="327.65" y="456.24" width="1.4" height="1.6" fill="#111"/>
<rect x="332.9" y="456.24" width="1.4" height="1.6" fill="#111"/>
<rect x="285.65" y="462.92" width="1.4" height="1.6" fill="#111"/>
<rect x="296.15" y="462.92" width="1.4" height="1.6" fill="#111"/>
<rect x="301.4" y="462.92" width="1.4" height="1.6" fill="#111"/>
<rect x="322.4" y="462.92" width="1.4" height="1.6" fill="#111"/>
<rect x="301.4" y="469.6" width="1.4" height="1.6" fill="#111"/>
<polygon points="282.49,388.9 282.85,387.31 282.98,385.69 283.95,384.92 284.78,384.03 285.34,382.92 286.54,382.44 287.32,381.47 288.06,380.48 289.4,379.57 290.09,378.1 290.74,376.61 292.12,375.72 292.3,374.39 292.99,373.13 292.78,371.73 293.9,371.05 294.84,370.13 296.39,369.7 297.53,368.57 298.72,367.56 300.24,367.22 301.62,366.58 302.61,365.73 303.85,365.32 305.15,364.97 306.42,364.54 308.07,364.56 309.72,364.44 311.4,363.81 313.15,364.15 314.68,365.36 316.08,365.58 317.36,366.13 318.44,367.21 319.89,367.31 320.82,368.2 322.22,368.35 323.11,369.3 324.23,370.31 325.84,370.5 326.87,371.66 328.2,372.32 329.54,372.21 330.83,372.35 332,373.09 330.72,374.26 330.73,375.65 331.46,376.84 331.59,379.17 333.2,379.46 333.45,380.87 332.45,382.92 333.05,384.09 333.07,385.4 334.62,385.18 336.13,385.54 336.13,386.42 335.64,388.17 333.94,388.7 334.07,390.74 334.39,392.1 335.51,392.93 336.75,392.2 337.87,393.37 338.36,394.24 339.73,394.62 341.09,394.24 342.3,393.75 343.61,393.66 343.96,395.14 345.1,396.14 346.76,396.66 348.45,397.11 349.88,397.79 351.42,398.13 351.34,396.61 351.84,395.17 353.53,394.34 355.23,395.17 354.36,397.11 355.72,397.73 357.17,397.66 358.62,397.65 358.76,399.02 359.39,400.15 360.31,401.15 360.64,403.24 362.75,403.43 361.6,404.73 360.19,405.72 361.15,406.88 361.88,408.2 363.11,408.97 364.12,409.96 364.86,411.21 365.88,412.53 366.1,414.18 367.5,415.02 368.66,416.17 370.35,417.63 370.88,419.15 371.59,420.6 371.66,422.46 370.77,424.1 370.38,425.58 370.35,427.11 369.17,428.21 367.79,429.06 367.1,430.18 365.87,430.84 365.29,432.06 364.44,433.04 363.16,434.55 362.36,433.4 361.88,432.07 361.02,431.09 360.19,430.08 358.89,430.12 357.66,430.56 356.03,431.25 354.28,431.05 353.04,433.04 352.56,434.28 353.51,435.52 352.79,436.76 353.04,438 354.73,439.51 354.58,441.14 355.59,442.63 355.31,444.27 354.23,443.45 352.91,443.16 351.17,442.7 349.52,441.99 348.97,443.1 348.57,444.27 347.63,445.53 346.13,445.98 345.91,447.5 345.15,448.77 344.23,449.96 342.95,450.58 342.52,452.06 341.34,452.78 340.22,453.34 339.14,453.97 338.45,455.07 336.92,455.56 335.97,456.92 334.6,457.64 333.2,458.41 331.67,458.89 330.22,459.54 328.96,460.31 328.07,461.49 327.66,462.76 326.41,463.45 325.88,464.65 324.27,465.96 322.66,465.33 320.47,465.96 319.93,464.01 320.09,462.71 320.02,461.42 319.07,460.23 319.39,458.91 319.25,457.33 318.28,456.09 316.13,457.01 315.05,458.91 314.27,460.46 312.86,461.49 311.87,462.26 310.71,462.75 309.37,462.33 307.99,462.12 306.91,460.22 305.26,460.22 304.18,461.49 303.04,462.16 302.53,463.38 302.98,464.96 303.11,466.59 302.4,468.12 302.53,469.8 301.26,469.75 300,469.99 298.73,469.8 297.53,468.96 296.58,467.86 295.53,467.12 294.97,465.96 294.27,464.76 294.39,463.38 292.94,463.73 291.5,463.19 290.05,463.38 288.61,462.73 287.04,463.4 285.54,463.36 284.1,462.75 282.44,461.49 282.55,460.07 281.76,458.92 281.37,457.64 281.28,456.37 281.11,455.09 281.46,453.82 281.37,452.54 280.92,451.29 279.9,450.43 279.22,449.33 278.08,448.32 276.73,447.51 275.96,446.12 274.83,444.83 273.23,444.23 272.87,442.89 273.44,441.63 273.56,440.34 272.84,438.97 271.62,438.05 271.76,436.47 272.61,435.13 273.46,434.08 274.3,433.02 274.55,431.63 276.06,431.47 277.53,431.05 278.56,430.28 278.85,428.88 279.96,428.18 280.4,426.86 280.63,425.45 281.77,424.4 281.95,422.98 282.47,421.71 283.3,420.62 284.46,419.73 285.03,418.49 285.42,417.14 286.56,416.24 286.85,414.81 287.61,413.67 288.35,412.53 289.37,411.49 289.99,410.18 290.83,409.02 291.12,408.39 290.75,406.79 289.19,406.6 287.73,406.01 287.51,404.69 287.13,403.39 287.36,402.02 286.99,400.65 287.35,399.14 287.07,397.75 286.37,396.43 286.39,395.09 286.15,393.77 286.04,392.45 287.03,390.89 287.73,389.67 286.7,390.45 285.79,391.38 284.68,392.06 283.31,390.89" fill="none" stroke="#0a0a0a" stroke-width="1.05" stroke-linejoin="round"/>
<rect x="254.8" y="350.5" width="121" height="133" fill="none" stroke="#333" stroke-width="0.9"/>
<line x1="267.4" y1="483.5" x2="267.4" y2="481.5" stroke="#333" stroke-width="0.9"/>
<line x1="267.4" y1="350.5" x2="267.4" y2="352.5" stroke="#333" stroke-width="0.9"/>
<text x="267.4" y="496.2" font-size="10.5" fill="#262626" text-anchor="middle">106°E</text>
<line x1="352.3" y1="483.5" x2="352.3" y2="481.5" stroke="#333" stroke-width="0.9"/>
<line x1="352.3" y1="350.5" x2="352.3" y2="352.5" stroke="#333" stroke-width="0.9"/>
<text x="352.3" y="496.2" font-size="10.5" fill="#262626" text-anchor="middle">110°E</text>
<line x1="254.8" y1="387" x2="256.8" y2="387" stroke="#333" stroke-width="0.9"/>
<line x1="375.8" y1="387" x2="373.8" y2="387" stroke="#333" stroke-width="0.9"/>
<line x1="254.8" y1="440" x2="256.8" y2="440" stroke="#333" stroke-width="0.9"/>
<line x1="375.8" y1="440" x2="373.8" y2="440" stroke="#333" stroke-width="0.9"/>
<text x="258" y="365.3" font-size="10.6" fill="#1a1a1a">TWS</text>
<text x="241.5" y="355.5" font-size="16" fill="#000" font-weight="bold">f</text>
<defs><linearGradient id="cbF" x1="0" y1="0" x2="0" y2="1"><stop offset="0" stop-color="#287242"/><stop offset="0.12" stop-color="#379450"/><stop offset="0.2" stop-color="#50b25c"/><stop offset="0.28" stop-color="#78cc64"/><stop offset="0.36" stop-color="#a8e06a"/><stop offset="0.42" stop-color="#d4ee94"/><stop offset="0.48" stop-color="#f3f7c4"/><stop offset="0.55" stop-color="#f5e6a5"/><stop offset="0.62" stop-color="#f0c67e"/><stop offset="0.7" stop-color="#e9965c"/><stop offset="0.78" stop-color="#e06444"/><stop offset="0.88" stop-color="#ce3638"/><stop offset="1" stop-color="#a01830"/></linearGradient></defs>
<rect x="396.3" y="362.2" width="12.4" height="118.5" fill="url(#cbF)" stroke="none" stroke-width="1"/>
<rect x="396.3" y="362.2" width="12.4" height="118.5" fill="none" stroke="#3a3a3a" stroke-width="0.8"/>
<line x1="408.7" y1="362.2" x2="406.9" y2="362.2" stroke="#333" stroke-width="0.8"/>
<text x="413.6" y="366" font-size="10.5" fill="#262626">10</text>
<line x1="408.7" y1="391.82" x2="406.9" y2="391.82" stroke="#333" stroke-width="0.8"/>
<text x="413.6" y="395.62" font-size="10.5" fill="#262626">5</text>
<line x1="408.7" y1="421.45" x2="406.9" y2="421.45" stroke="#333" stroke-width="0.8"/>
<text x="413.6" y="425.25" font-size="10.5" fill="#262626">0</text>
<line x1="408.7" y1="451.07" x2="406.9" y2="451.07" stroke="#333" stroke-width="0.8"/>
<text x="413.6" y="454.88" font-size="10.5" fill="#262626">-5</text>
<line x1="408.7" y1="480.7" x2="406.9" y2="480.7" stroke="#333" stroke-width="0.8"/>
<text x="413.6" y="484.5" font-size="10.5" fill="#262626">-10</text>
<text x="448" y="420.5" font-size="11.4" fill="#262626" text-anchor="middle" transform="rotate(-90 448 420.5)">Trend (mm/year)</text>
<polygon points="637.7,405.4 637.6,407.18 637.31,408.95 636.82,410.71 636.14,412.46 635.26,414.18 634.2,415.88 632.95,417.55 631.52,419.19 629.91,420.78 628.12,422.33 626.17,423.83 624.06,425.27 621.79,426.66 619.37,427.98 616.8,429.24 614.1,430.43 611.28,431.55 608.33,432.59 605.28,433.55 602.12,434.43 598.87,435.22 595.54,435.93 592.14,436.55 588.67,437.07 585.15,437.51 581.58,437.85 577.99,438.1 574.37,438.25 574.37,459.75 577.99,459.6 581.58,459.35 585.15,459.01 588.67,458.57 592.14,458.05 595.54,457.43 598.87,456.72 602.12,455.93 605.28,455.05 608.33,454.09 611.28,453.05 614.1,451.93 616.8,450.74 619.37,449.48 621.79,448.16 624.06,446.77 626.17,445.33 628.12,443.83 629.91,442.28 631.52,440.69 632.95,439.05 634.2,437.38 635.26,435.68 636.14,433.96 636.82,432.21 637.31,430.45 637.6,428.68 637.7,426.9" fill="#4a86be" stroke="#1a1a1a" stroke-width="0.6"/>
<line x1="637.7" y1="405.4" x2="637.7" y2="426.9" stroke="#10283e" stroke-width="0.8"/>
<line x1="637.6" y1="407.18" x2="637.6" y2="428.68" stroke="#10283e" stroke-width="0.8"/>
<line x1="637.31" y1="408.95" x2="637.31" y2="430.45" stroke="#10283e" stroke-width="0.8"/>
<line x1="636.82" y1="410.71" x2="636.82" y2="432.21" stroke="#10283e" stroke-width="0.8"/>
<line x1="636.14" y1="412.46" x2="636.14" y2="433.96" stroke="#10283e" stroke-width="0.8"/>
<line x1="635.26" y1="414.18" x2="635.26" y2="435.68" stroke="#10283e" stroke-width="0.8"/>
<line x1="634.2" y1="415.88" x2="634.2" y2="437.38" stroke="#10283e" stroke-width="0.8"/>
<line x1="632.95" y1="417.55" x2="632.95" y2="439.05" stroke="#10283e" stroke-width="0.8"/>
<line x1="631.52" y1="419.19" x2="631.52" y2="440.69" stroke="#10283e" stroke-width="0.8"/>
<line x1="629.91" y1="420.78" x2="629.91" y2="442.28" stroke="#10283e" stroke-width="0.8"/>
<line x1="628.12" y1="422.33" x2="628.12" y2="443.83" stroke="#10283e" stroke-width="0.8"/>
<line x1="626.17" y1="423.83" x2="626.17" y2="445.33" stroke="#10283e" stroke-width="0.8"/>
<line x1="624.06" y1="425.27" x2="624.06" y2="446.77" stroke="#10283e" stroke-width="0.8"/>
<line x1="621.79" y1="426.66" x2="621.79" y2="448.16" stroke="#10283e" stroke-width="0.8"/>
<line x1="619.37" y1="427.98" x2="619.37" y2="449.48" stroke="#10283e" stroke-width="0.8"/>
<line x1="616.8" y1="429.24" x2="616.8" y2="450.74" stroke="#10283e" stroke-width="0.8"/>
<line x1="614.1" y1="430.43" x2="614.1" y2="451.93" stroke="#10283e" stroke-width="0.8"/>
<line x1="611.28" y1="431.55" x2="611.28" y2="453.05" stroke="#10283e" stroke-width="0.8"/>
<line x1="608.33" y1="432.59" x2="608.33" y2="454.09" stroke="#10283e" stroke-width="0.8"/>
<line x1="605.28" y1="433.55" x2="605.28" y2="455.05" stroke="#10283e" stroke-width="0.8"/>
<line x1="602.12" y1="434.43" x2="602.12" y2="455.93" stroke="#10283e" stroke-width="0.8"/>
<line x1="598.87" y1="435.22" x2="598.87" y2="456.72" stroke="#10283e" stroke-width="0.8"/>
<line x1="595.54" y1="435.93" x2="595.54" y2="457.43" stroke="#10283e" stroke-width="0.8"/>
<line x1="592.14" y1="436.55" x2="592.14" y2="458.05" stroke="#10283e" stroke-width="0.8"/>
<line x1="588.67" y1="437.07" x2="588.67" y2="458.57" stroke="#10283e" stroke-width="0.8"/>
<line x1="585.15" y1="437.51" x2="585.15" y2="459.01" stroke="#10283e" stroke-width="0.8"/>
<line x1="581.58" y1="437.85" x2="581.58" y2="459.35" stroke="#10283e" stroke-width="0.8"/>
<line x1="577.99" y1="438.1" x2="577.99" y2="459.6" stroke="#10283e" stroke-width="0.8"/>
<line x1="574.37" y1="438.25" x2="574.37" y2="459.75" stroke="#10283e" stroke-width="0.8"/>
<polygon points="574.37,438.25 570.84,438.3 567.31,438.26 563.79,438.14 560.29,437.92 556.82,437.61 553.38,437.21 549.99,436.73 546.66,436.16 543.4,435.51 540.2,434.77 537.1,433.95 534.08,433.05 531.17,432.08 528.36,431.03 525.67,429.91 523.1,428.72 520.67,427.47 518.37,426.16 516.21,424.79 514.21,423.37 512.36,421.9 510.67,420.38 509.15,418.82 507.79,417.23 506.61,415.6 505.6,413.94 504.78,412.26 504.13,410.56 503.67,408.85 503.39,407.13 503.3,405.4 503.3,426.9 503.39,428.63 503.67,430.35 504.13,432.06 504.78,433.76 505.6,435.44 506.61,437.1 507.79,438.73 509.15,440.32 510.67,441.88 512.36,443.4 514.21,444.87 516.21,446.29 518.37,447.66 520.67,448.97 523.1,450.22 525.67,451.41 528.36,452.53 531.17,453.58 534.08,454.55 537.1,455.45 540.2,456.27 543.4,457.01 546.66,457.66 549.99,458.23 553.38,458.71 556.82,459.11 560.29,459.42 563.79,459.64 567.31,459.76 570.84,459.8 574.37,459.75" fill="#79b4d6" stroke="#1a1a1a" stroke-width="0.6"/>
<line x1="574.37" y1="438.25" x2="574.37" y2="459.75" stroke="#24465e" stroke-width="0.8"/>
<line x1="570.84" y1="438.3" x2="570.84" y2="459.8" stroke="#24465e" stroke-width="0.8"/>
<line x1="567.31" y1="438.26" x2="567.31" y2="459.76" stroke="#24465e" stroke-width="0.8"/>
<line x1="563.79" y1="438.14" x2="563.79" y2="459.64" stroke="#24465e" stroke-width="0.8"/>
<line x1="560.29" y1="437.92" x2="560.29" y2="459.42" stroke="#24465e" stroke-width="0.8"/>
<line x1="556.82" y1="437.61" x2="556.82" y2="459.11" stroke="#24465e" stroke-width="0.8"/>
<line x1="553.38" y1="437.21" x2="553.38" y2="458.71" stroke="#24465e" stroke-width="0.8"/>
<line x1="549.99" y1="436.73" x2="549.99" y2="458.23" stroke="#24465e" stroke-width="0.8"/>
<line x1="546.66" y1="436.16" x2="546.66" y2="457.66" stroke="#24465e" stroke-width="0.8"/>
<line x1="543.4" y1="435.51" x2="543.4" y2="457.01" stroke="#24465e" stroke-width="0.8"/>
<line x1="540.2" y1="434.77" x2="540.2" y2="456.27" stroke="#24465e" stroke-width="0.8"/>
<line x1="537.1" y1="433.95" x2="537.1" y2="455.45" stroke="#24465e" stroke-width="0.8"/>
<line x1="534.08" y1="433.05" x2="534.08" y2="454.55" stroke="#24465e" stroke-width="0.8"/>
<line x1="531.17" y1="432.08" x2="531.17" y2="453.58" stroke="#24465e" stroke-width="0.8"/>
<line x1="528.36" y1="431.03" x2="528.36" y2="452.53" stroke="#24465e" stroke-width="0.8"/>
<line x1="525.67" y1="429.91" x2="525.67" y2="451.41" stroke="#24465e" stroke-width="0.8"/>
<line x1="523.1" y1="428.72" x2="523.1" y2="450.22" stroke="#24465e" stroke-width="0.8"/>
<line x1="520.67" y1="427.47" x2="520.67" y2="448.97" stroke="#24465e" stroke-width="0.8"/>
<line x1="518.37" y1="426.16" x2="518.37" y2="447.66" stroke="#24465e" stroke-width="0.8"/>
<line x1="516.21" y1="424.79" x2="516.21" y2="446.29" stroke="#24465e" stroke-width="0.8"/>
<line x1="514.21" y1="423.37" x2="514.21" y2="444.87" stroke="#24465e" stroke-width="0.8"/>
<line x1="512.36" y1="421.9" x2="512.36" y2="443.4" stroke="#24465e" stroke-width="0.8"/>
<line x1="510.67" y1="420.38" x2="510.67" y2="441.88" stroke="#24465e" stroke-width="0.8"/>
<line x1="509.15" y1="418.82" x2="509.15" y2="440.32" stroke="#24465e" stroke-width="0.8"/>
<line x1="507.79" y1="417.23" x2="507.79" y2="438.73" stroke="#24465e" stroke-width="0.8"/>
<line x1="506.61" y1="415.6" x2="506.61" y2="437.1" stroke="#24465e" stroke-width="0.8"/>
<line x1="505.6" y1="413.94" x2="505.6" y2="435.44" stroke="#24465e" stroke-width="0.8"/>
<line x1="504.78" y1="412.26" x2="504.78" y2="433.76" stroke="#24465e" stroke-width="0.8"/>
<line x1="504.13" y1="410.56" x2="504.13" y2="432.06" stroke="#24465e" stroke-width="0.8"/>
<line x1="503.67" y1="408.85" x2="503.67" y2="430.35" stroke="#24465e" stroke-width="0.8"/>
<line x1="503.39" y1="407.13" x2="503.39" y2="428.63" stroke="#24465e" stroke-width="0.8"/>
<line x1="503.3" y1="405.4" x2="503.3" y2="426.9" stroke="#24465e" stroke-width="0.8"/>
<polygon points="570.5,405.4 530.72,378.88 533.61,377.9 536.6,376.99 539.68,376.16 542.85,375.41 546.09,374.75 549.4,374.16 552.77,373.67 556.18,373.26 559.64,372.93 563.13,372.7 566.63,372.55 570.15,372.5 573.67,372.54 577.17,372.66 580.66,372.88 584.13,373.18 587.55,373.58 590.93,374.06 594.25,374.62 597.51,375.27 600.69,376.01 603.79,376.82 606.8,377.71 609.71,378.68 612.52,379.72 615.2,380.84 617.77,382.01 620.2,383.26 622.5,384.56 624.66,385.92 626.67,387.34 628.52,388.8 630.22,390.31 631.75,391.86 633.11,393.45 634.3,395.07 635.32,396.72 636.16,398.39 636.82,400.08 637.29,401.79 637.59,403.51 637.7,405.23 637.63,406.95 637.37,408.67 636.93,410.38 636.3,412.07 635.5,413.75 634.52,415.4 633.36,417.03 632.03,418.62 630.53,420.18 628.87,421.7 627.05,423.17 625.07,424.6 622.94,425.97 620.67,427.29 618.27,428.54 615.73,429.73 613.06,430.86 610.28,431.92 607.39,432.9 604.4,433.81 601.32,434.64 598.15,435.39 594.91,436.05 591.6,436.64 588.23,437.13 584.82,437.54 581.36,437.87 577.87,438.1 574.37,438.25" fill="#4a86be" stroke="#1a1a1a" stroke-width="0.7" stroke-linejoin="round"/>
<polygon points="570.5,405.4 574.37,438.25 570.8,438.3 567.23,438.26 563.67,438.13 560.13,437.91 556.62,437.59 553.15,437.18 549.73,436.69 546.36,436.1 543.07,435.43 539.85,434.68 536.72,433.84 533.68,432.92 530.75,431.93 527.93,430.86 525.23,429.71 522.65,428.5 520.22,427.23 517.92,425.89 515.77,424.49 513.78,423.04 511.95,421.54 510.28,420 508.78,418.41 507.46,416.79 506.31,415.13 505.34,413.45 504.56,411.75 503.97,410.02 503.56,408.29 503.34,406.54 503.31,404.8 503.47,403.05 503.82,401.31 504.36,399.58 505.08,397.87 505.99,396.18 507.08,394.52 508.35,392.89 509.8,391.29" fill="#79b4d6" stroke="#1a1a1a" stroke-width="0.7" stroke-linejoin="round"/>
<polygon points="570.5,405.4 509.8,391.29 511.47,389.68 513.32,388.12 515.34,386.61 517.53,385.15 519.88,383.76 522.38,382.44 525.02,381.18 527.81,379.99 530.72,378.88" fill="#bfe0ea" stroke="#1a1a1a" stroke-width="0.7" stroke-linejoin="round"/>
<text x="504.2" y="383.6" font-size="10.5" fill="#1a1a1a" text-anchor="middle">8%</text>
<text x="501" y="454" font-size="10.5" fill="#1a1a1a" text-anchor="middle">33%</text>
<text x="648.8" y="395" font-size="10.5" fill="#1a1a1a" text-anchor="middle">59%</text>
<rect x="513" y="469.4" width="4.4" height="4.4" fill="#bfe0ea" stroke="#555" stroke-width="0.6"/>
<text x="521.2" y="475.6" font-size="10.7" fill="#1a1a1a">SM1</text>
<rect x="554.6" y="469.4" width="4.4" height="4.4" fill="#79b4d6" stroke="#555" stroke-width="0.6"/>
<text x="560.2" y="475.6" font-size="10.7" fill="#1a1a1a">SM2</text>
<rect x="593.2" y="469.4" width="4.4" height="4.4" fill="#4a86be" stroke="#555" stroke-width="0.6"/>
<text x="600" y="475.6" font-size="10.7" fill="#1a1a1a">GWS</text>
<text x="481" y="355.2" font-size="16" fill="#000" font-weight="bold">g</text>
<rect x="51.3" y="618.77" width="15.1" height="4.23" fill="#8fd46c" stroke="#1a1a1a" stroke-width="0.9"/>
<rect x="139.8" y="603.12" width="15.1" height="19.88" fill="#8fd46c" stroke="#1a1a1a" stroke-width="0.9"/>
<rect x="228.1" y="600.31" width="15.1" height="22.69" fill="#8fd46c" stroke="#1a1a1a" stroke-width="0.9"/>
<rect x="76.2" y="594.83" width="15.1" height="28.17" fill="#4fa336" stroke="#1a1a1a" stroke-width="0.9"/>
<rect x="164.7" y="589.35" width="15.1" height="33.65" fill="#4fa336" stroke="#1a1a1a" stroke-width="0.9"/>
<rect x="253" y="573.7" width="15.1" height="49.3" fill="#4fa336" stroke="#1a1a1a" stroke-width="0.9"/>
<line x1="58.85" y1="622.22" x2="58.85" y2="615.17" stroke="#2a2a2a" stroke-width="0.95"/>
<line x1="54.7" y1="622.22" x2="63" y2="622.22" stroke="#2a2a2a" stroke-width="0.95"/>
<line x1="54.7" y1="615.17" x2="63" y2="615.17" stroke="#2a2a2a" stroke-width="0.95"/>
<line x1="147.35" y1="620.65" x2="147.35" y2="584.97" stroke="#2a2a2a" stroke-width="0.95"/>
<line x1="143.2" y1="620.65" x2="151.5" y2="620.65" stroke="#2a2a2a" stroke-width="0.95"/>
<line x1="143.2" y1="584.97" x2="151.5" y2="584.97" stroke="#2a2a2a" stroke-width="0.95"/>
<line x1="235.65" y1="620.34" x2="235.65" y2="579.18" stroke="#2a2a2a" stroke-width="0.95"/>
<line x1="231.5" y1="620.34" x2="239.8" y2="620.34" stroke="#2a2a2a" stroke-width="0.95"/>
<line x1="231.5" y1="579.18" x2="239.8" y2="579.18" stroke="#2a2a2a" stroke-width="0.95"/>
<line x1="83.75" y1="619.87" x2="83.75" y2="569.79" stroke="#2a2a2a" stroke-width="0.95"/>
<line x1="79.6" y1="619.87" x2="87.9" y2="619.87" stroke="#2a2a2a" stroke-width="0.95"/>
<line x1="79.6" y1="569.79" x2="87.9" y2="569.79" stroke="#2a2a2a" stroke-width="0.95"/>
<line x1="172.25" y1="619.09" x2="172.25" y2="558.52" stroke="#2a2a2a" stroke-width="0.95"/>
<line x1="168.1" y1="619.09" x2="176.4" y2="619.09" stroke="#2a2a2a" stroke-width="0.95"/>
<line x1="168.1" y1="558.52" x2="176.4" y2="558.52" stroke="#2a2a2a" stroke-width="0.95"/>
<line x1="260.55" y1="618.3" x2="260.55" y2="529.1" stroke="#2a2a2a" stroke-width="0.95"/>
<line x1="256.4" y1="618.3" x2="264.7" y2="618.3" stroke="#2a2a2a" stroke-width="0.95"/>
<line x1="256.4" y1="529.1" x2="264.7" y2="529.1" stroke="#2a2a2a" stroke-width="0.95"/>
<line x1="27.5" y1="623" x2="291.7" y2="623" stroke="#8c8c8c" stroke-width="1.4"/>
<line x1="27.5" y1="521.8" x2="291.7" y2="521.8" stroke="#8c8c8c" stroke-width="1.4"/>
<line x1="27.5" y1="521.8" x2="27.5" y2="623" stroke="#333" stroke-width="1"/>
<line x1="291.7" y1="521.8" x2="291.7" y2="623" stroke="#8c8c8c" stroke-width="1.2"/>
<line x1="27.5" y1="623" x2="29.7" y2="623" stroke="#333" stroke-width="1"/>
<line x1="291.7" y1="623" x2="289.5" y2="623" stroke="#555" stroke-width="1"/>
<text x="22.5" y="626.8" font-size="10.5" fill="#262626" text-anchor="end">0</text>
<line x1="27.5" y1="591.7" x2="29.7" y2="591.7" stroke="#333" stroke-width="1"/>
<line x1="291.7" y1="591.7" x2="289.5" y2="591.7" stroke="#555" stroke-width="1"/>
<text x="22.5" y="595.5" font-size="10.5" fill="#262626" text-anchor="end">2</text>
<line x1="27.5" y1="560.4" x2="29.7" y2="560.4" stroke="#333" stroke-width="1"/>
<line x1="291.7" y1="560.4" x2="289.5" y2="560.4" stroke="#555" stroke-width="1"/>
<text x="22.5" y="564.2" font-size="10.5" fill="#262626" text-anchor="end">4</text>
<line x1="27.5" y1="529.1" x2="29.7" y2="529.1" stroke="#333" stroke-width="1"/>
<line x1="291.7" y1="529.1" x2="289.5" y2="529.1" stroke="#555" stroke-width="1"/>
<text x="22.5" y="532.9" font-size="10.5" fill="#262626" text-anchor="end">6</text>
<line x1="70.9" y1="623" x2="70.9" y2="620.8" stroke="#555" stroke-width="1"/>
<line x1="70.9" y1="521.8" x2="70.9" y2="524" stroke="#555" stroke-width="1"/>
<text x="70.9" y="637.3" font-size="11.2" fill="#262626" text-anchor="middle">Stage 1</text>
<line x1="159.4" y1="623" x2="159.4" y2="620.8" stroke="#555" stroke-width="1"/>
<line x1="159.4" y1="521.8" x2="159.4" y2="524" stroke="#555" stroke-width="1"/>
<text x="159.4" y="637.3" font-size="11.2" fill="#262626" text-anchor="middle">Stage 2</text>
<line x1="247.7" y1="623" x2="247.7" y2="620.8" stroke="#555" stroke-width="1"/>
<line x1="247.7" y1="521.8" x2="247.7" y2="524" stroke="#555" stroke-width="1"/>
<text x="247.7" y="637.3" font-size="11.2" fill="#262626" text-anchor="middle">Stage 3</text>
<text x="159.4" y="651.6" font-size="12.5" fill="#262626" text-anchor="middle">Stage</text>
<text x="11.4" y="581" font-size="12.5" fill="#262626" text-anchor="middle" transform="rotate(-90 11.4 581)">Relative trend (%/year)</text>
<rect x="87.9" y="660.4" width="42" height="9.6" fill="#8fd46c" stroke="#333" stroke-width="0.9"/>
<text x="133.5" y="669.2" font-size="10.4" fill="#262626">NDVI</text>
<rect x="167.9" y="660.4" width="42.3" height="9.6" fill="#4fa336" stroke="#333" stroke-width="0.9"/>
<text x="213.2" y="669.2" font-size="10.4" fill="#262626">LAI</text>
<text x="9.4" y="515.3" font-size="16" fill="#000" font-weight="bold">h</text>
<rect x="428.9" y="574.45" width="14.8" height="5.05" fill="#b3dae7" stroke="#1a1a1a" stroke-width="0.9"/>
<rect x="448.4" y="553.15" width="14.8" height="26.35" fill="#6badd6" stroke="#1a1a1a" stroke-width="0.9"/>
<rect x="516.1" y="579.5" width="14.8" height="20.22" fill="#b3dae7" stroke="#1a1a1a" stroke-width="0.9"/>
<rect x="535.6" y="579.5" width="14.8" height="10.11" fill="#6badd6" stroke="#1a1a1a" stroke-width="0.9"/>
<rect x="584" y="578.42" width="14.8" height="1.08" fill="#dbf1f1" stroke="#1a1a1a" stroke-width="0.9"/>
<rect x="603.3" y="558.56" width="14.8" height="20.94" fill="#b3dae7" stroke="#1a1a1a" stroke-width="0.9"/>
<rect x="622.8" y="579.5" width="14.8" height="3.61" fill="#6badd6" stroke="#1a1a1a" stroke-width="0.9"/>
<line x1="436.3" y1="578.78" x2="436.3" y2="570.11" stroke="#2a2a2a" stroke-width="0.95"/>
<line x1="432.15" y1="578.78" x2="440.45" y2="578.78" stroke="#2a2a2a" stroke-width="0.95"/>
<line x1="432.15" y1="570.11" x2="440.45" y2="570.11" stroke="#2a2a2a" stroke-width="0.95"/>
<line x1="455.8" y1="577.33" x2="455.8" y2="529.68" stroke="#2a2a2a" stroke-width="0.95"/>
<line x1="451.65" y1="577.33" x2="459.95" y2="577.33" stroke="#2a2a2a" stroke-width="0.95"/>
<line x1="451.65" y1="529.68" x2="459.95" y2="529.68" stroke="#2a2a2a" stroke-width="0.95"/>
<line x1="523.5" y1="618.49" x2="523.5" y2="579.5" stroke="#2a2a2a" stroke-width="0.95"/>
<line x1="519.35" y1="618.49" x2="527.65" y2="618.49" stroke="#2a2a2a" stroke-width="0.95"/>
<line x1="519.35" y1="579.5" x2="527.65" y2="579.5" stroke="#2a2a2a" stroke-width="0.95"/>
<line x1="543" y1="598.27" x2="543" y2="580.22" stroke="#2a2a2a" stroke-width="0.95"/>
<line x1="538.85" y1="598.27" x2="547.15" y2="598.27" stroke="#2a2a2a" stroke-width="0.95"/>
<line x1="538.85" y1="580.22" x2="547.15" y2="580.22" stroke="#2a2a2a" stroke-width="0.95"/>
<line x1="591.4" y1="578.78" x2="591.4" y2="577.7" stroke="#2a2a2a" stroke-width="0.95"/>
<line x1="587.25" y1="578.78" x2="595.55" y2="578.78" stroke="#2a2a2a" stroke-width="0.95"/>
<line x1="587.25" y1="577.7" x2="595.55" y2="577.7" stroke="#2a2a2a" stroke-width="0.95"/>
<line x1="610.7" y1="577.33" x2="610.7" y2="539.43" stroke="#2a2a2a" stroke-width="0.95"/>
<line x1="606.55" y1="577.33" x2="614.85" y2="577.33" stroke="#2a2a2a" stroke-width="0.95"/>
<line x1="606.55" y1="539.43" x2="614.85" y2="539.43" stroke="#2a2a2a" stroke-width="0.95"/>
<line x1="630.2" y1="586.36" x2="630.2" y2="579.5" stroke="#2a2a2a" stroke-width="0.95"/>
<line x1="626.05" y1="586.36" x2="634.35" y2="586.36" stroke="#2a2a2a" stroke-width="0.95"/>
<line x1="626.05" y1="579.5" x2="634.35" y2="579.5" stroke="#2a2a2a" stroke-width="0.95"/>
<line x1="392.5" y1="579.5" x2="654.5" y2="579.5" stroke="#4a72b0" stroke-width="1.1"/>
<line x1="392.5" y1="623" x2="654.5" y2="623" stroke="#8c8c8c" stroke-width="1.4"/>
<line x1="392.5" y1="521.8" x2="654.5" y2="521.8" stroke="#8c8c8c" stroke-width="1.4"/>
<line x1="392.5" y1="521.8" x2="392.5" y2="623" stroke="#333" stroke-width="1"/>
<line x1="654.5" y1="521.8" x2="654.5" y2="623" stroke="#3b5b9a" stroke-width="1.1"/>
<line x1="392.5" y1="543.4" x2="394.7" y2="543.4" stroke="#333" stroke-width="1"/>
<text x="387.6" y="547.2" font-size="10.5" fill="#262626" text-anchor="end">5</text>
<line x1="392.5" y1="579.5" x2="394.7" y2="579.5" stroke="#333" stroke-width="1"/>
<text x="387.6" y="583.3" font-size="10.5" fill="#262626" text-anchor="end">0</text>
<line x1="392.5" y1="615.6" x2="394.7" y2="615.6" stroke="#333" stroke-width="1"/>
<text x="387.6" y="619.4" font-size="10.5" fill="#262626" text-anchor="end">-5</text>
<line x1="654.5" y1="533.6" x2="652.3" y2="533.6" stroke="#3b5b9a" stroke-width="1"/>
<text x="657.6" y="537.4" font-size="10.5" fill="#3b5b9a">40</text>
<line x1="654.5" y1="556.55" x2="652.3" y2="556.55" stroke="#3b5b9a" stroke-width="1"/>
<text x="657.6" y="560.35" font-size="10.5" fill="#3b5b9a">20</text>
<line x1="654.5" y1="579.5" x2="652.3" y2="579.5" stroke="#3b5b9a" stroke-width="1"/>
<text x="657.6" y="583.3" font-size="10.5" fill="#3b5b9a">0</text>
<line x1="654.5" y1="602.45" x2="652.3" y2="602.45" stroke="#3b5b9a" stroke-width="1"/>
<text x="657.6" y="606.25" font-size="10.5" fill="#3b5b9a">-20</text>
<line x1="436.3" y1="623" x2="436.3" y2="620.8" stroke="#555" stroke-width="1"/>
<line x1="436.3" y1="521.8" x2="436.3" y2="524" stroke="#555" stroke-width="1"/>
<text x="436.3" y="637.3" font-size="11.2" fill="#262626" text-anchor="middle">Stage 1</text>
<line x1="523.5" y1="623" x2="523.5" y2="620.8" stroke="#555" stroke-width="1"/>
<line x1="523.5" y1="521.8" x2="523.5" y2="524" stroke="#555" stroke-width="1"/>
<text x="523.5" y="637.3" font-size="11.2" fill="#262626" text-anchor="middle">Stage 2</text>
<line x1="610.7" y1="623" x2="610.7" y2="620.8" stroke="#555" stroke-width="1"/>
<line x1="610.7" y1="521.8" x2="610.7" y2="524" stroke="#555" stroke-width="1"/>
<text x="610.7" y="637.3" font-size="11.2" fill="#262626" text-anchor="middle">Stage 3</text>
<text x="523.5" y="651.6" font-size="12.5" fill="#262626" text-anchor="middle">Stage</text>
<text x="375.2" y="577" font-size="12.5" fill="#262626" text-anchor="middle" transform="rotate(-90 375.2 577)">SM trend (mm/year)</text>
<text x="683.5" y="582.8" font-size="12.5" fill="#3b5b9a" text-anchor="middle" transform="rotate(-90 683.5 582.8)">GWS trend (mm/year)</text>
<rect x="408.3" y="660.4" width="43.3" height="9.6" fill="#dbf1f1" stroke="#333" stroke-width="0.9"/>
<text x="454.8" y="669.2" font-size="10.4" fill="#262626">SM1</text>
<rect x="485.3" y="660.4" width="43.3" height="9.6" fill="#b3dae7" stroke="#333" stroke-width="0.9"/>
<text x="531.8" y="669.2" font-size="10.4" fill="#262626">SM2</text>
<rect x="562.7" y="660.4" width="43.3" height="9.6" fill="#6badd6" stroke="#333" stroke-width="0.9"/>
<text x="609.2" y="669.2" font-size="10.4" fill="#262626">GWS</text>
<text x="383.2" y="515.3" font-size="16" fill="#000" font-weight="bold">i</text>
</svg>
</body></html>
